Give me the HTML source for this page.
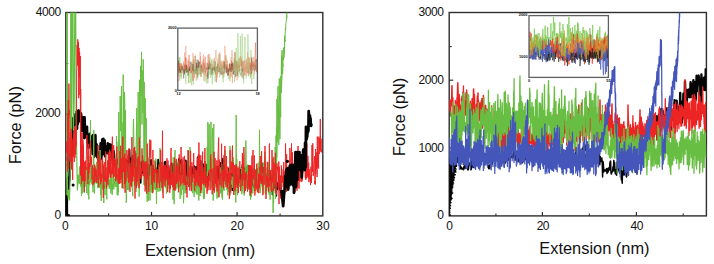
<!DOCTYPE html>
<html><head><meta charset="utf-8"><style>
html,body{margin:0;padding:0;background:#fff;}
body{width:714px;height:264px;position:relative;overflow:hidden;font-family:"Liberation Sans",sans-serif;color:#111;}
.t{position:absolute;white-space:nowrap;}
.rot{transform-origin:0 0;transform:rotate(-90deg);}
</style></head><body>
<svg width="714" height="264" viewBox="0 0 714 264" style="position:absolute;left:0;top:0"><line x1="151.5" y1="215.9" x2="151.5" y2="211.9" stroke="#2e2e2e" stroke-width="1.2"/><line x1="237.1" y1="215.9" x2="237.1" y2="211.9" stroke="#2e2e2e" stroke-width="1.2"/><line x1="108.6" y1="215.9" x2="108.6" y2="213.4" stroke="#2e2e2e" stroke-width="1.1"/><line x1="194.1" y1="215.9" x2="194.1" y2="213.4" stroke="#2e2e2e" stroke-width="1.1"/><line x1="280.1" y1="215.9" x2="280.1" y2="213.4" stroke="#2e2e2e" stroke-width="1.1"/><line x1="65.8" y1="114.2" x2="69.8" y2="114.2" stroke="#2e2e2e" stroke-width="1.2"/><line x1="65.8" y1="63.5" x2="68.3" y2="63.5" stroke="#2e2e2e" stroke-width="1.1"/><line x1="65.8" y1="164.9" x2="68.3" y2="164.9" stroke="#2e2e2e" stroke-width="1.1"/><rect x="65.8" y="12.5" width="257.0" height="203.4" fill="none" stroke="#2e2e2e" stroke-width="1.4"/><line x1="542.4" y1="215.9" x2="542.4" y2="211.9" stroke="#2e2e2e" stroke-width="1.2"/><line x1="636.4" y1="215.9" x2="636.4" y2="211.9" stroke="#2e2e2e" stroke-width="1.2"/><line x1="495.9" y1="215.9" x2="495.9" y2="213.4" stroke="#2e2e2e" stroke-width="1.1"/><line x1="589.3" y1="215.9" x2="589.3" y2="213.4" stroke="#2e2e2e" stroke-width="1.1"/><line x1="683.2" y1="215.9" x2="683.2" y2="213.4" stroke="#2e2e2e" stroke-width="1.1"/><line x1="449.2" y1="80.2" x2="453.2" y2="80.2" stroke="#2e2e2e" stroke-width="1.2"/><line x1="449.2" y1="148.0" x2="453.2" y2="148.0" stroke="#2e2e2e" stroke-width="1.2"/><line x1="449.2" y1="46.6" x2="451.7" y2="46.6" stroke="#2e2e2e" stroke-width="1.1"/><line x1="449.2" y1="114.1" x2="451.7" y2="114.1" stroke="#2e2e2e" stroke-width="1.1"/><line x1="449.2" y1="181.8" x2="451.7" y2="181.8" stroke="#2e2e2e" stroke-width="1.1"/><rect x="449.2" y="12.5" width="257.2" height="203.4" fill="none" stroke="#2e2e2e" stroke-width="1.4"/><clipPath id="cl"><rect x="65.8" y="12.5" width="257.0" height="203.4"/></clipPath><g clip-path="url(#cl)"><polyline points="111.8,153.4 112.2,153.5 112.6,163.8 113.0,151.4 113.4,164.3 113.8,150.8 114.2,153.9 114.6,162.1 115.0,165.2 115.4,164.1 115.8,161.7 116.2,160.8 116.6,161.0 117.0,163.5 117.4,159.5 117.8,162.1 118.2,163.9 118.6,160.9 119.0,165.2 119.4,164.3 119.8,172.3 120.2,163.2 120.6,159.2 121.0,159.6 121.4,161.7 121.8,167.0 122.2,160.2 122.6,164.3 123.0,172.5 123.4,148.3 123.8,156.4 124.2,164.1 124.6,165.1 125.0,164.3 125.4,160.7 125.8,166.9 126.2,164.9 126.6,160.6 127.0,177.0 127.4,165.7 127.8,160.8 128.2,163.4 128.6,162.8 129.0,163.9 129.4,149.9 129.8,161.7 130.2,170.2 130.6,158.2 131.0,164.4 131.4,170.2 131.8,169.8 132.2,173.4 132.6,155.8 133.0,163.4 133.4,163.6 133.8,169.1 134.2,171.8 134.6,151.4 135.0,172.1 135.4,158.1 135.8,170.1 136.2,158.2 136.6,167.6 137.0,173.4 137.4,166.1 137.8,168.2 138.2,171.7 138.6,168.2 139.0,167.1 139.4,176.3 139.8,173.8 140.2,166.4 140.6,182.7 141.0,162.0 141.4,173.7 141.8,167.2 142.2,169.6 142.6,173.0 143.0,170.4 143.4,172.9 143.8,161.0 144.2,161.2 144.6,173.3 145.0,164.6 145.4,164.3 145.8,161.9 146.2,177.3 146.6,174.5 147.0,178.6 147.4,165.2 147.8,170.6 148.2,164.3 148.6,175.0 149.0,179.7 149.4,165.9 149.8,179.7 150.2,176.6 150.6,170.1 151.0,160.1 151.4,179.2 151.8,170.8 152.2,168.1 152.6,173.8 153.0,173.9 153.4,180.1 153.8,166.0 154.2,178.2 154.6,180.3 155.0,180.2 155.4,171.1 155.8,168.0 156.2,178.0 156.6,173.0 157.0,173.1 157.4,180.5 157.8,171.1 158.2,159.7 158.6,170.5 159.0,162.4 159.4,177.5 159.8,174.7 160.2,169.6 160.6,172.9 161.0,177.7 161.4,173.4 161.8,180.4 162.2,172.6 162.6,178.8 163.0,181.3 163.4,182.0 163.8,169.1 164.2,177.9 164.6,162.3 165.0,166.8 165.4,161.8 165.8,178.9 166.2,165.9 166.6,172.8 167.0,171.7 167.4,172.7 167.8,169.5 168.2,174.1 168.6,182.9 169.0,173.0 169.4,175.8 169.8,178.4 170.2,171.6 170.6,165.6 171.0,169.6 171.4,178.8 171.8,163.4 172.2,169.3 172.6,178.4 173.0,177.2 173.4,172.7 173.8,177.2 174.2,173.6 174.6,165.9 175.0,163.7 175.4,169.0 175.8,177.8 176.2,169.4 176.6,167.5 177.0,168.2 177.4,163.9 177.8,171.9 178.2,165.8 178.6,174.6 179.0,159.1 179.4,174.4 179.8,168.9 180.2,161.4 180.6,176.6 181.0,170.9 181.4,159.8 181.8,167.5 182.2,174.1 182.6,169.8 183.0,176.9 183.4,176.7 183.8,176.2 184.2,174.3 184.6,180.0 185.0,176.1 185.4,174.9 185.8,160.5 186.2,177.5 186.6,179.8 187.0,170.6 187.4,169.6 187.8,183.4 188.2,162.2 188.6,175.0 189.0,186.1 189.4,167.0 189.8,176.2 190.2,183.0 190.6,171.5 191.0,175.4 191.4,177.4 191.8,167.0 192.2,171.7 192.6,173.9 193.0,176.9 193.4,172.0 193.8,171.0 194.2,166.3 194.6,170.1 195.0,177.2 195.4,172.7 195.8,167.2 196.2,167.3 196.6,187.0 197.0,178.6 197.4,175.7 197.8,157.2 198.2,175.6 198.6,174.8 199.0,181.7 199.4,174.5 199.8,171.6 200.2,175.0 200.6,160.9 201.0,178.0 201.4,174.0 201.8,168.1 202.2,179.9 202.6,182.7 203.0,164.2 203.4,168.5 203.8,174.1 204.2,173.5 204.6,170.2 205.0,166.9 205.4,184.8 205.8,178.6 206.2,165.7 206.6,164.9 207.0,182.5 207.4,178.5 207.8,183.3 208.2,177.5 208.6,167.8 209.0,174.4 209.4,160.4 209.8,168.7 210.2,172.7 210.6,176.1 211.0,168.9 211.4,172.4 211.8,175.8 212.2,175.4 212.6,177.0 213.0,174.5 213.4,171.5 213.8,178.0 214.2,173.7 214.6,168.7 215.0,169.9 215.4,173.5 215.8,172.9 216.2,174.5 216.6,173.7 217.0,174.7 217.4,173.0 217.8,166.5 218.2,176.3 218.6,180.0 219.0,176.4 219.4,172.8 219.8,176.6 220.2,168.4 220.6,163.0 221.0,174.4 221.4,168.7 221.8,178.5 222.2,167.9 222.6,159.1 223.0,168.2 223.4,183.5 223.8,172.2 224.2,166.4 224.6,170.0 225.0,177.5 225.4,177.4 225.8,175.6 226.2,183.3 226.6,178.8 227.0,174.6 227.4,178.2 227.8,184.4 228.2,180.5 228.6,180.8 229.0,168.6 229.4,174.1 229.8,179.2 230.2,173.3 230.6,181.3 231.0,178.6 231.4,180.5 231.8,173.9 232.2,190.1 232.6,182.5 233.0,174.0 233.4,175.9 233.8,190.6 234.2,173.4 234.6,180.6 235.0,181.2 235.4,175.6 235.8,168.7 236.2,176.7 236.6,177.8 237.0,182.3 237.4,180.3 237.8,175.9 238.2,180.8 238.6,179.0 239.0,177.1 239.4,176.3 239.8,174.6 240.2,180.1 240.6,169.9 241.0,172.4 241.4,176.2 241.8,167.6 242.2,173.7 242.6,164.5 243.0,172.4 243.4,179.8 243.8,179.8 244.2,176.2 244.6,175.2 245.0,168.3 245.4,187.5 245.8,179.8 246.2,183.3 246.6,171.7 247.0,175.8 247.4,166.3 247.8,181.6 248.2,182.6 248.6,165.9 249.0,176.9 249.4,181.0 249.8,166.9 250.2,166.6 250.6,171.1 251.0,173.7 251.4,169.2 251.8,177.8 252.2,179.1 252.6,181.4 253.0,181.9 253.4,186.7 253.8,184.7 254.2,170.1 254.6,175.0 255.0,171.7 255.4,171.7 255.8,177.6 256.2,178.2 256.6,181.1 257.0,168.9 257.4,171.0 257.8,178.2 258.2,177.2 258.6,176.6 259.0,178.2 259.4,174.1 259.8,182.8 260.2,180.8 260.6,178.2 261.0,174.8 261.4,177.8 261.8,163.5 262.2,173.1 262.6,179.2 263.0,170.1 263.4,180.3 263.8,180.1 264.2,171.0 264.6,177.8 265.0,177.5 265.4,182.1 265.8,183.1 266.2,179.3 266.6,174.5 267.0,178.7 267.4,179.3 267.8,184.1 268.2,181.5 268.6,175.5 269.0,171.8 269.4,177.7 269.8,175.6 270.2,173.4 270.6,179.5 271.0,177.3 271.4,181.0 271.8,183.6 272.2,178.1 272.6,194.6 273.0,178.9 273.4,187.5 273.8,181.8 274.2,187.8 274.6,167.0 275.0,176.9 275.4,183.0 275.8,185.2 276.2,195.7 276.6,183.7 277.0,189.6 277.4,186.6 277.8,187.8 278.2,185.3 278.6,181.4 279.0,185.5 279.4,176.1 279.8,189.8 280.2,176.7 280.6,184.4 281.0,195.7" fill="none" stroke="#050505" stroke-width="2.0" stroke-linejoin="round" /><polyline points="65.9,215.6 66.0,190.0 66.2,200.0 66.2,197.4 66.6,201.7 67.0,191.1 67.4,187.0 67.8,177.9 68.2,181.0 68.6,189.2 69.0,178.8 69.4,180.2 69.8,169.2 70.2,165.9 70.6,159.1 71.0,138.6 71.4,154.5 71.8,146.6 72.2,142.4 72.6,121.8 73.0,118.3 73.4,121.8 73.8,122.0 74.2,125.7 74.6,121.5 75.0,124.5 75.4,114.2 75.8,120.0 76.2,119.7 76.6,111.5 77.0,128.7 77.4,119.7 77.8,123.9 78.2,110.7 78.6,110.3 79.0,113.5 79.4,115.6 79.8,121.2 80.2,119.3 80.6,115.7 81.0,113.4 81.4,117.6 81.8,130.7 82.2,118.1 82.6,126.4 83.0,128.9 83.4,117.3 83.8,128.7 84.2,138.1 84.6,117.2 85.0,129.2 85.4,131.6 85.8,128.0 86.2,137.3 86.6,134.7 87.0,126.8 87.4,142.0 87.8,141.8 88.2,144.2 88.6,148.0 89.0,142.2 89.4,141.5 89.8,133.8 90.2,146.0 90.6,139.3 91.0,141.0 91.4,136.8 91.8,139.3 92.2,142.5 92.6,153.9 93.0,135.1 93.4,138.9 93.8,149.2 94.2,156.6 94.6,151.9 95.0,138.1 95.4,135.0 95.8,151.8 96.2,146.0 96.6,144.3 97.0,156.5 97.4,157.3 97.8,152.1 98.2,152.7 98.6,153.8 99.0,160.3 99.4,155.0 99.8,154.6 100.2,154.8 100.6,143.3 101.0,159.0 101.4,156.7 101.8,153.8 102.2,139.5 102.6,146.4 103.0,154.0 103.4,138.8 103.8,147.3 104.2,153.5 104.6,140.4 105.0,156.2 105.4,150.1 105.8,146.0 106.2,148.3 106.6,149.8 107.0,146.7 107.4,152.8 107.8,143.4 108.2,145.3 108.6,153.9 109.0,148.8 109.4,144.4 109.8,154.9 110.2,158.5 110.6,149.0 111.0,144.7 111.4,152.5 111.8,153.4" fill="none" stroke="#050505" stroke-width="2.6" stroke-linejoin="round" /><polyline points="66.9,216.0 66.9,-5.0 67.3,-5.0 67.5,205.0 68.5,190.0 69.5,200.0 70.3,170.0 70.8,-5.0 71.4,150.0 72.2,-5.0 72.9,-5.0 73.4,130.0 74.2,100.0 74.9,-5.0 75.6,-5.0 76.2,120.0 76.8,160.0 77.4,190.0 78.2,175.0 79.0,183.0" fill="none" stroke="#68be42" stroke-width="1.2" stroke-linejoin="round" /><polyline points="79.0,184.3 79.2,179.0 79.5,166.6 79.8,179.7 80.0,183.9 80.2,175.0 80.5,179.1 80.8,186.5 81.0,171.7 81.2,185.5 81.5,196.0 81.8,174.8 82.0,181.3 82.2,178.7 82.5,193.3 82.8,182.8 83.0,187.8 83.2,173.6 83.5,180.0 83.8,180.1 84.0,163.3 84.2,192.5 84.5,187.9 84.8,163.6 85.0,186.6 85.2,179.0 85.5,184.0 85.8,183.4 86.0,166.0 86.2,178.2 86.5,193.0 86.8,174.8 87.0,170.5 87.2,167.4 87.5,168.7 87.8,183.2 88.0,194.8 88.2,184.0 88.5,182.4 88.8,199.4 89.0,175.4 89.2,173.9 89.5,184.9 89.8,185.0 90.0,155.8 90.2,169.2 90.5,120.0 90.8,182.5 91.0,168.0 91.2,178.5 91.5,175.2 91.8,184.3 92.0,179.3 92.2,179.6 92.5,177.1 92.8,189.5 93.0,192.3 93.2,177.0 93.5,151.1 93.8,130.0 94.0,181.1 94.2,186.9 94.5,193.4 94.8,176.9 95.0,179.8 95.2,182.2 95.5,166.3 95.8,180.7 96.0,174.1 96.2,183.7 96.5,169.8 96.8,161.8 97.0,180.9 97.2,182.8 97.5,175.4 97.8,188.2 98.0,178.0 98.2,174.9 98.5,184.7 98.8,165.7 99.0,174.2 99.2,180.5 99.5,187.9 99.8,179.1 100.0,150.0 100.2,159.2 100.5,183.3 100.8,194.9 101.0,174.2 101.2,200.9 101.5,174.6 101.8,180.9 102.0,182.2 102.2,189.5 102.5,169.0 102.8,160.8 103.0,186.0 103.2,187.6 103.5,186.1 103.8,203.0 104.0,182.6 104.2,183.0 104.5,188.8 104.8,184.0 105.0,195.1 105.2,169.1 105.5,177.3 105.8,156.2 106.0,187.8 106.2,177.3 106.5,188.8 106.8,199.3 107.0,180.8 107.2,178.5 107.5,176.2 107.8,173.0 108.0,174.9 108.2,186.4 108.5,181.3 108.8,181.5 109.0,179.3 109.2,188.8 109.5,185.2 109.8,179.6 110.0,186.7 110.2,179.6 110.5,170.1 110.8,193.5 111.0,185.0 111.2,171.9 111.5,190.3 111.8,184.0 112.0,166.2 112.2,194.8 112.5,183.9 112.8,188.7 113.0,182.8 113.2,179.7 113.5,166.4 113.8,189.4 114.0,181.4 114.2,178.4 114.5,184.1 114.8,181.8 115.0,186.9 115.2,177.6 115.5,180.8 115.8,160.8 116.0,164.8 116.2,186.9 116.5,136.0 116.8,151.1 117.0,180.0 117.2,194.7 117.5,178.1 117.8,187.5 118.0,195.5 118.2,141.9 118.5,191.7 118.8,112.0 119.0,183.0 119.2,180.5 119.5,147.0 119.8,138.4 120.0,115.1 120.2,96.0 120.5,114.0 120.8,131.1 121.0,121.5 121.2,107.3 121.5,86.0 121.8,178.7 122.0,122.3 122.2,166.6 122.5,187.8 122.8,166.6 123.0,174.7 123.2,74.5 123.5,104.3 123.8,188.7 124.0,116.9 124.2,177.6 124.5,92.0 124.8,101.1 125.0,181.4 125.2,184.5 125.5,110.0 125.8,183.7 126.0,169.2 126.2,202.7 126.5,200.3 126.8,162.6 127.0,181.1 127.2,185.0 127.5,189.7 127.8,187.2 128.0,178.9 128.2,171.4 128.5,182.3 128.8,190.3 129.0,171.1 129.2,171.7 129.5,181.3 129.8,163.1 130.0,179.0 130.2,177.4 130.5,185.4 130.8,174.9 131.0,173.1 131.2,177.8 131.5,181.1 131.8,175.2 132.0,181.7 132.2,188.0 132.5,191.7 132.8,196.1 133.0,174.1 133.2,129.8 133.5,119.0 133.8,135.9 134.0,159.4 134.2,181.3 134.5,186.1 134.8,168.7 135.0,185.6 135.2,181.4 135.5,164.3 135.8,184.1 136.0,191.9 136.2,144.3 136.5,128.3 136.8,108.0 137.0,185.7 137.2,185.5 137.5,154.2 137.8,124.4 138.0,116.9 138.2,92.0 138.5,187.9 138.8,174.0 139.0,180.7 139.2,196.5 139.5,79.8 139.8,103.7 140.0,147.4 140.2,174.2 140.5,66.0 140.8,89.0 141.0,96.0 141.2,76.3 141.5,51.8 141.8,109.0 142.0,124.5 142.2,70.0 142.5,89.8 142.8,112.7 143.0,91.5 143.2,59.3 143.5,76.9 143.8,88.6 144.0,184.9 144.2,82.0 144.5,185.5 144.8,143.8 145.0,125.6 145.2,98.0 145.5,118.0 145.8,121.0 146.0,188.7 146.2,118.0 146.5,140.2 146.8,148.0 147.0,173.6 147.2,201.7 147.5,177.2 147.8,192.2 148.0,175.8 148.2,188.9 148.5,200.9 148.8,157.8 149.0,177.8 149.2,186.3 149.5,181.1 149.8,175.6 150.0,200.4 150.2,182.7 150.5,166.4 150.8,189.3 151.0,165.6 151.2,191.8 151.5,176.5 151.8,183.2 152.0,192.8 152.2,183.0 152.5,168.8 152.8,165.9 153.0,192.1 153.2,188.3 153.5,174.3 153.8,189.3 154.0,186.2 154.2,187.5 154.5,160.5 154.8,179.1 155.0,189.7 155.2,188.3 155.5,189.5 155.8,158.7 156.0,183.4 156.2,186.2 156.5,203.8 156.8,172.9 157.0,178.9 157.2,182.3 157.5,189.6 157.8,177.8 158.0,191.8 158.2,174.5 158.5,184.3 158.8,177.0 159.0,183.4 159.2,175.4 159.5,166.8 159.8,191.3 160.0,148.0 160.2,162.7 160.5,158.2 160.8,190.5 161.0,172.7 161.2,181.0 161.5,186.6 161.8,186.5 162.0,178.8 162.2,162.0 162.5,192.6 162.8,184.8 163.0,182.1 163.2,179.4 163.5,184.3 163.8,178.0 164.0,172.3 164.2,175.0 164.5,176.3 164.8,176.2 165.0,171.0 165.2,187.4 165.5,169.6 165.8,187.6 166.0,172.4 166.2,185.0 166.5,193.7 166.8,183.7 167.0,175.1 167.2,182.4 167.5,183.3 167.8,165.5 168.0,176.2 168.2,183.4 168.5,177.5 168.8,182.7 169.0,188.3 169.2,188.6 169.5,189.7 169.8,187.0 170.0,179.3 170.2,181.8 170.5,179.4 170.8,179.0 171.0,180.3 171.2,165.6 171.5,178.8 171.8,181.8 172.0,172.7 172.2,181.8 172.5,186.4 172.8,180.4 173.0,199.8 173.2,157.3 173.5,180.0 173.8,164.7 174.0,190.4 174.2,204.2 174.5,158.2 174.8,183.1 175.0,150.0 175.2,179.1 175.5,186.7 175.8,160.7 176.0,189.3 176.2,185.2 176.5,182.2 176.8,176.4 177.0,187.5 177.2,177.4 177.5,183.9 177.8,177.2 178.0,160.7 178.2,181.7 178.5,183.7 178.8,188.4 179.0,173.7 179.2,181.7 179.5,187.3 179.8,183.2 180.0,192.6 180.2,199.0 180.5,173.4 180.8,163.8 181.0,189.3 181.2,195.1 181.5,189.9 181.8,189.0 182.0,176.1 182.2,175.2 182.5,189.6 182.8,173.3 183.0,164.8 183.2,172.5 183.5,203.3 183.8,198.4 184.0,175.5 184.2,175.1 184.5,184.0 184.8,174.9 185.0,193.2 185.2,181.3 185.5,171.7 185.8,193.2 186.0,176.5 186.2,183.9 186.5,181.9 186.8,179.0 187.0,184.8 187.2,175.4 187.5,164.5 187.8,161.0 188.0,170.0 188.2,174.8 188.5,181.8 188.8,182.5 189.0,186.8 189.2,183.0 189.5,171.5 189.8,175.3 190.0,147.0 190.2,180.4 190.5,166.0 190.8,186.5 191.0,180.8 191.2,180.3 191.5,190.0 191.8,182.1 192.0,188.3 192.2,187.0 192.5,183.8 192.8,193.2 193.0,176.6 193.2,178.6 193.5,174.3 193.8,174.4 194.0,195.3 194.2,197.0 194.5,182.2 194.8,186.9 195.0,192.0 195.2,188.9 195.5,192.3 195.8,170.0 196.0,175.9 196.2,185.9 196.5,194.3 196.8,182.9 197.0,173.8 197.2,178.6 197.5,175.7 197.8,173.8 198.0,194.8 198.2,176.1 198.5,182.2 198.8,200.5 199.0,192.1 199.2,184.9 199.5,176.2 199.8,185.5 200.0,195.9 200.2,187.3 200.5,192.8 200.8,182.8 201.0,186.4 201.2,180.1 201.5,185.6 201.8,193.1 202.0,168.4 202.2,181.4 202.5,184.1 202.8,176.6 203.0,179.1 203.2,188.7 203.5,199.1 203.8,187.4 204.0,184.8 204.2,167.3 204.5,198.5 204.8,182.7 205.0,181.7 205.2,171.4 205.5,181.5 205.8,171.6 206.0,182.6 206.2,186.0 206.5,182.3 206.8,184.4 207.0,173.9 207.2,146.7 207.5,175.8 207.8,122.0 208.0,127.8 208.2,134.6 208.5,172.4 208.8,167.0 209.0,131.7 209.2,124.0 209.5,180.7 209.8,160.8 210.0,158.1 210.2,180.6 210.5,154.1 210.8,130.5 211.0,121.8 211.2,188.3 211.5,181.1 211.8,159.2 212.0,181.8 212.2,135.5 212.5,128.0 212.8,143.5 213.0,159.4 213.2,200.6 213.5,137.4 213.8,124.0 214.0,168.6 214.2,159.2 214.5,164.2 214.8,185.1 215.0,175.9 215.2,164.3 215.5,167.9 215.8,187.3 216.0,174.6 216.2,178.5 216.5,184.8 216.8,193.6 217.0,198.6 217.2,190.8 217.5,183.2 217.8,183.6 218.0,197.4 218.2,194.2 218.5,179.1 218.8,185.9 219.0,184.5 219.2,182.4 219.5,177.2 219.8,169.4 220.0,176.9 220.2,167.3 220.5,192.5 220.8,186.6 221.0,170.5 221.2,193.9 221.5,189.6 221.8,163.9 222.0,197.7 222.2,188.9 222.5,199.6 222.8,170.3 223.0,186.5 223.2,185.6 223.5,183.7 223.8,183.5 224.0,191.0 224.2,167.8 224.5,170.2 224.8,168.8 225.0,150.0 225.2,165.2 225.5,185.1 225.8,184.3 226.0,182.3 226.2,175.6 226.5,177.8 226.8,190.1 227.0,188.5 227.2,182.9 227.5,178.9 227.8,195.3 228.0,176.4 228.2,187.5 228.5,191.9 228.8,179.5 229.0,189.1 229.2,171.4 229.5,168.5 229.8,183.7 230.0,146.0 230.2,161.4 230.5,173.5 230.8,193.0 231.0,175.5 231.2,180.4 231.5,184.4 231.8,178.8 232.0,184.2 232.2,176.7 232.5,187.7 232.8,182.0 233.0,183.8 233.2,157.3 233.5,191.9 233.8,182.3 234.0,165.1 234.2,182.8 234.5,186.0 234.8,191.2 235.0,171.7 235.2,195.2 235.5,180.5 235.8,202.5 236.0,141.9 236.2,115.0 236.5,178.5 236.8,158.8 237.0,191.4 237.2,189.7 237.5,195.2 237.8,189.3 238.0,176.6 238.2,166.2 238.5,175.8 238.8,175.6 239.0,174.3 239.2,187.0 239.5,184.8 239.8,179.4 240.0,183.5 240.2,180.6 240.5,183.8 240.8,188.4 241.0,190.2 241.2,175.5 241.5,167.7 241.8,194.2 242.0,183.0 242.2,191.5 242.5,166.4 242.8,178.9 243.0,182.2 243.2,168.3 243.5,177.1 243.8,188.2 244.0,191.2 244.2,195.6 244.5,173.8 244.8,168.7 245.0,186.5 245.2,190.0 245.5,183.7 245.8,140.5 246.0,149.4 246.2,157.8 246.5,186.7 246.8,177.4 247.0,184.6 247.2,188.8 247.5,176.7 247.8,164.5 248.0,184.8 248.2,186.1 248.5,182.1 248.8,189.6 249.0,176.4 249.2,181.2 249.5,179.1 249.8,186.9 250.0,195.6 250.2,179.6 250.5,199.6 250.8,195.1 251.0,188.8 251.2,187.0 251.5,197.1 251.8,180.3 252.0,180.9 252.2,171.9 252.5,186.0 252.8,193.5 253.0,186.6 253.2,185.6 253.5,180.1 253.8,183.4 254.0,168.5 254.2,191.0 254.5,178.1 254.8,171.5 255.0,174.9 255.2,174.2 255.5,189.3 255.8,191.0 256.0,169.1 256.2,189.9 256.5,189.6 256.8,176.5 257.0,167.9 257.2,174.9 257.5,176.0 257.8,184.9 258.0,178.6 258.2,162.7 258.5,184.0 258.8,167.4 259.0,189.7 259.2,170.5 259.5,129.7 259.8,173.9 260.0,176.8 260.2,193.1 260.5,189.3 260.8,187.1 261.0,184.7 261.2,167.3 261.5,177.1 261.8,176.8 262.0,172.7 262.2,186.4 262.5,175.0 262.8,175.3 263.0,172.1 263.2,162.5 263.5,187.1 263.8,193.4 264.0,183.5 264.2,172.7 264.5,157.3 264.8,183.5 265.0,152.0 265.2,165.8 265.5,171.0 265.8,194.6 266.0,191.6 266.2,177.8 266.5,191.0 266.8,188.6 267.0,167.4 267.2,178.1 267.5,168.5 267.8,181.0 268.0,186.9 268.2,171.9 268.5,162.5 268.8,193.1 269.0,185.2 269.2,194.6 269.5,169.4 269.8,191.1 270.0,199.7 270.2,199.2 270.5,180.0 270.8,184.3 271.0,180.5 271.2,190.5 271.5,190.9 271.8,182.7 272.0,169.1 272.2,188.3 272.5,177.5 272.8,187.4 273.0,184.2 273.1,213.0 273.2,186.8 273.3,191.9 273.5,191.3 273.6,203.3 273.7,161.9 273.8,192.8 273.9,156.6 274.1,184.9 274.2,174.4 274.3,174.1 274.4,185.4 274.5,166.7 274.7,185.0 274.8,179.5 274.9,165.2 275.0,151.6 275.1,147.0 275.3,149.5 275.4,153.8 275.5,155.4 275.6,199.0 275.7,163.9 275.9,164.7 276.0,135.6 276.1,136.7 276.2,141.8 276.3,148.9 276.5,126.7 276.6,169.7 276.7,131.7 276.8,157.6 276.9,99.1 277.1,136.5 277.2,139.7 277.3,136.7 277.4,142.0 277.5,135.1 277.7,131.6 277.8,96.4 277.9,114.3 278.0,86.2 278.1,133.1 278.3,126.4 278.4,116.7 278.5,105.1 278.6,107.4 278.7,145.0 278.9,141.6 279.0,111.3 279.1,131.3 279.2,84.8 279.3,78.4 279.5,99.6 279.6,92.5 279.7,96.0 279.8,105.7 279.9,139.2 280.1,90.9 280.2,99.7 280.3,101.5 280.4,95.9 280.5,107.6 280.7,117.2 280.8,76.2 280.9,93.2 281.0,86.4 281.1,92.5 281.3,67.6 281.4,63.5 281.5,55.6 281.6,87.4 281.7,81.8 281.9,78.8 282.0,50.2 282.1,70.6 282.2,65.2 282.3,57.4 282.5,61.0 282.6,74.1 282.7,70.9 282.8,64.3 282.9,66.8 283.1,56.8 283.2,60.1 283.3,58.4 283.4,59.9 283.5,54.6 283.7,52.7 283.8,51.2 283.9,47.5 284.0,57.6 284.1,49.2 284.3,47.2 284.4,52.4 284.5,47.4 284.6,35.7 284.7,41.6 284.9,40.5 285.0,42.0 285.1,38.6 285.2,35.5 285.3,28.8 285.5,28.3 285.6,29.7 285.7,28.8 285.8,23.9 285.9,23.9 286.1,22.5 286.2,22.0 286.3,21.1 286.4,18.4 286.5,15.0 286.7,18.6 286.8,17.8 286.9,13.0 287.0,13.7 287.1,10.6 287.3,9.2 287.4,6.9 287.5,2.5 287.6,3.2 287.7,2.2 287.9,-3.6 288.0,0.3 288.1,-1.4 288.2,-3.9 288.3,-5.5 288.5,-9.9" fill="none" stroke="#68be42" stroke-width="1.0" stroke-linejoin="round" /><polyline points="66.5,152.6 66.7,146.3 66.9,141.1 67.1,160.8 67.3,157.0 67.5,171.6 67.7,113.2 67.9,132.0 68.1,124.6 68.3,100.0 68.5,168.6 68.7,106.2 68.9,83.6 69.1,98.8 69.3,114.4 69.5,110.0 69.7,119.6 69.9,149.8 70.1,156.5 70.3,132.7 70.5,150.8 70.7,151.0 70.9,162.1 71.1,128.8 71.3,158.3 71.5,169.4 71.7,161.7 71.9,142.8 72.1,140.4 72.3,145.4 72.5,164.1 72.7,179.8 72.9,147.0 73.1,137.8 73.3,157.1 73.5,153.8 73.7,133.0 73.9,136.2 74.1,148.0 74.3,162.0 74.5,127.4 74.7,130.5 74.9,158.0 75.1,126.4 75.3,150.3 75.5,154.4 75.7,145.9 75.9,129.5 76.1,146.3 76.3,141.3 76.5,117.4 76.7,70.0 76.9,70.0 77.1,45.0 77.3,45.0 77.5,65.1 77.7,39.5 77.9,39.5 78.1,66.2 78.3,42.0 78.5,42.0 78.7,98.2 78.9,48.0 79.1,48.0 79.3,76.7 79.5,52.0 79.7,52.0 79.9,95.1 80.1,79.2 80.3,56.0 80.5,175.5 80.7,89.1 80.9,172.1 81.1,132.3 81.3,151.1 81.5,184.1 81.7,144.9 81.9,181.5 82.2,132.7 82.5,180.8 82.7,177.3 83.0,140.3 83.2,177.7 83.5,144.7 83.8,181.4 84.0,174.3 84.3,192.2 84.5,161.8 84.8,170.7 85.1,180.8 85.3,161.6 85.6,160.7 85.8,165.6 86.1,170.0 86.4,155.5 86.6,144.1 86.9,135.0 87.1,141.0 87.4,151.1 87.7,166.7 87.9,184.0 88.2,163.7 88.4,178.9 88.7,143.8 89.0,173.6 89.2,169.3 89.5,164.7 89.7,163.1 90.0,167.0 90.3,161.7 90.5,140.5 90.8,163.5 91.0,164.2 91.3,164.6 91.6,156.9 91.8,170.2 92.1,179.7 92.3,168.6 92.6,165.2 92.9,185.3 93.1,181.7 93.4,181.2 93.6,183.4 93.9,167.7 94.2,170.6 94.4,183.1 94.7,164.5 94.9,170.8 95.2,176.1 95.5,176.1 95.7,168.6 96.0,182.0 96.2,170.1 96.5,179.6 96.8,182.9 97.0,179.0 97.3,179.8 97.5,156.1 97.8,152.6 98.1,145.0 98.3,177.4 98.6,187.2 98.8,155.3 99.1,175.8 99.4,160.7 99.6,162.4 99.9,169.0 100.1,179.6 100.4,175.1 100.7,184.3 100.9,158.9 101.2,181.6 101.4,182.0 101.7,173.7 102.0,177.6 102.2,165.0 102.5,157.4 102.7,167.3 103.0,163.9 103.3,198.0 103.5,166.2 103.8,189.0 104.0,175.1 104.3,176.2 104.6,180.3 104.8,162.0 105.1,182.0 105.3,176.8 105.6,151.5 105.9,179.0 106.1,178.5 106.4,177.6 106.6,188.4 106.9,167.3 107.2,178.2 107.4,180.5 107.7,160.4 107.9,184.8 108.2,152.5 108.5,154.7 108.7,178.3 109.0,157.7 109.2,171.7 109.5,149.8 109.8,174.1 110.0,157.1 110.3,176.7 110.5,151.4 110.8,177.7 111.1,169.6 111.3,174.1 111.6,172.5 111.8,152.7 112.1,148.0 112.4,136.7 112.6,173.8 112.9,160.1 113.1,167.0 113.4,177.6 113.7,145.1 113.9,162.6 114.2,164.8 114.4,158.4 114.7,176.7 115.0,171.6 115.2,161.8 115.5,159.5 115.7,181.3 116.0,164.2 116.3,179.2 116.5,178.0 116.8,146.5 117.0,158.2 117.3,173.7 117.6,177.0 117.8,181.2 118.1,181.4 118.3,183.6 118.6,168.4 118.9,170.7 119.1,181.2 119.4,167.7 119.6,183.9 119.9,151.0 120.2,180.0 120.4,171.3 120.7,145.7 120.9,183.2 121.2,176.8 121.5,174.1 121.7,158.5 122.0,167.2 122.2,188.3 122.5,162.1 122.8,136.7 123.0,161.7 123.3,156.8 123.5,172.1 123.8,168.3 124.1,160.9 124.3,161.9 124.6,184.0 124.8,153.4 125.1,192.7 125.4,166.2 125.6,158.4 125.9,181.5 126.1,179.4 126.4,159.1 126.7,159.3 126.9,150.0 127.2,155.1 127.4,171.2 127.7,170.5 128.0,155.5 128.2,179.0 128.5,182.9 128.7,173.8 129.0,148.3 129.3,169.2 129.5,178.2 129.8,181.5 130.0,191.9 130.3,170.6 130.6,167.3 130.8,173.7 131.1,185.7 131.3,160.8 131.6,186.7 131.9,137.1 132.1,181.9 132.4,164.6 132.6,178.7 132.9,180.9 133.2,157.4 133.4,173.1 133.7,176.6 133.9,148.0 134.2,161.1 134.5,160.2 134.7,146.9 135.0,198.6 135.2,171.7 135.5,171.2 135.8,153.1 136.0,183.3 136.3,166.8 136.5,188.1 136.8,182.6 137.1,174.7 137.3,181.4 137.6,158.6 137.8,169.9 138.1,166.3 138.4,156.4 138.6,174.7 138.9,172.5 139.1,188.2 139.4,137.5 139.7,165.0 139.9,161.5 140.2,168.0 140.4,178.6 140.7,178.5 141.0,174.9 141.2,167.9 141.5,179.4 141.7,178.1 142.0,148.4 142.3,171.0 142.5,155.1 142.8,157.9 143.0,176.1 143.3,175.3 143.6,175.8 143.8,162.3 144.1,171.9 144.3,161.8 144.6,178.4 144.9,181.3 145.1,191.5 145.4,186.8 145.6,163.3 145.9,168.3 146.2,161.5 146.4,177.8 146.7,193.7 146.9,181.6 147.2,143.6 147.5,157.0 147.7,156.5 148.0,179.8 148.2,174.9 148.5,177.8 148.8,191.9 149.0,163.2 149.3,162.9 149.5,146.6 149.8,139.5 150.1,157.8 150.3,146.1 150.6,153.3 150.8,140.2 151.1,175.7 151.4,175.5 151.6,184.5 151.9,173.1 152.1,165.3 152.4,164.6 152.7,193.2 152.9,150.0 153.2,176.8 153.4,175.4 153.7,181.1 154.0,169.5 154.2,180.0 154.5,183.0 154.7,173.2 155.0,168.8 155.3,172.7 155.5,161.6 155.8,172.4 156.0,171.1 156.3,177.4 156.6,188.1 156.8,187.8 157.1,169.1 157.3,181.2 157.6,178.3 157.9,182.7 158.1,175.7 158.4,178.0 158.6,168.9 158.9,164.4 159.2,183.8 159.4,187.9 159.7,181.9 159.9,179.7 160.2,178.1 160.5,169.2 160.7,150.3 161.0,181.9 161.2,177.6 161.5,167.8 161.8,162.0 162.0,187.8 162.3,150.1 162.5,130.7 162.8,181.8 163.1,198.2 163.3,165.6 163.6,175.5 163.8,168.6 164.1,177.3 164.4,172.9 164.6,165.2 164.9,186.1 165.1,164.8 165.4,168.7 165.7,181.2 165.9,168.3 166.2,169.8 166.4,179.4 166.7,170.8 167.0,158.3 167.2,174.6 167.5,172.9 167.7,192.2 168.0,160.5 168.3,185.3 168.5,165.0 168.8,171.1 169.0,171.5 169.3,178.7 169.6,184.3 169.8,192.7 170.1,167.2 170.3,188.8 170.6,185.6 170.9,151.9 171.1,148.0 171.4,184.8 171.6,174.8 171.9,179.7 172.2,172.5 172.4,182.6 172.7,186.9 172.9,187.1 173.2,173.5 173.5,185.8 173.7,190.1 174.0,163.2 174.2,190.4 174.5,157.5 174.8,181.6 175.0,182.1 175.3,190.5 175.5,179.2 175.8,169.7 176.1,165.3 176.3,158.9 176.6,183.8 176.8,173.3 177.1,166.5 177.4,181.7 177.6,165.8 177.9,170.5 178.1,170.2 178.4,192.3 178.7,190.5 178.9,174.5 179.2,154.5 179.4,179.4 179.7,177.5 180.0,180.1 180.2,182.2 180.5,172.3 180.7,185.6 181.0,147.0 181.3,158.2 181.5,171.1 181.8,170.1 182.0,183.5 182.3,161.4 182.6,174.7 182.8,166.4 183.1,157.3 183.3,182.7 183.6,176.7 183.9,177.4 184.1,185.3 184.4,155.9 184.6,176.1 184.9,179.8 185.2,185.0 185.4,161.8 185.7,183.9 185.9,179.2 186.2,190.0 186.5,187.9 186.7,182.4 187.0,197.5 187.2,177.2 187.5,171.2 187.8,172.4 188.0,150.0 188.3,176.9 188.5,150.8 188.8,176.1 189.1,181.4 189.3,186.7 189.6,172.5 189.8,190.5 190.1,168.2 190.4,175.5 190.6,150.9 190.9,166.7 191.1,166.3 191.4,191.2 191.7,182.4 191.9,162.3 192.2,182.4 192.4,182.0 192.7,174.3 193.0,177.8 193.2,173.4 193.5,170.1 193.7,153.2 194.0,176.4 194.3,189.5 194.5,190.8 194.8,173.8 195.0,167.4 195.3,174.8 195.6,186.0 195.8,181.0 196.1,169.7 196.3,181.1 196.6,175.0 196.9,182.5 197.1,172.2 197.4,157.6 197.6,178.4 197.9,184.9 198.2,162.6 198.4,154.2 198.7,186.0 198.9,142.5 199.2,169.0 199.5,154.9 199.7,185.6 200.0,187.4 200.2,165.0 200.5,193.0 200.8,155.3 201.0,170.9 201.3,184.8 201.5,190.2 201.8,165.3 202.1,168.9 202.3,179.9 202.6,151.6 202.8,183.9 203.1,183.2 203.4,172.0 203.6,183.0 203.9,185.2 204.1,180.9 204.4,182.9 204.7,166.5 204.9,148.0 205.2,179.6 205.4,161.5 205.7,187.6 206.0,172.6 206.2,182.5 206.5,179.4 206.7,178.8 207.0,193.8 207.3,177.0 207.5,191.1 207.8,185.7 208.0,190.2 208.3,176.0 208.6,186.6 208.8,185.1 209.1,169.9 209.3,180.7 209.6,176.5 209.9,177.8 210.1,190.1 210.4,168.5 210.6,155.4 210.9,154.6 211.2,172.1 211.4,169.5 211.7,178.4 211.9,183.4 212.2,194.3 212.5,181.1 212.7,182.5 213.0,168.3 213.2,183.6 213.5,190.6 213.8,190.5 214.0,151.8 214.3,186.4 214.5,192.7 214.8,185.8 215.1,158.1 215.3,174.2 215.6,183.7 215.8,182.2 216.1,167.4 216.4,166.3 216.6,187.1 216.9,160.3 217.1,191.4 217.4,178.6 217.7,181.2 217.9,160.4 218.2,151.4 218.4,142.6 218.7,137.6 219.0,197.2 219.2,159.5 219.5,162.0 219.7,178.9 220.0,182.8 220.3,185.1 220.5,173.5 220.8,175.7 221.0,175.3 221.3,170.8 221.6,143.7 221.8,187.2 222.1,180.8 222.3,180.0 222.6,170.1 222.9,180.8 223.1,178.4 223.4,177.5 223.6,188.5 223.9,155.4 224.2,180.9 224.4,164.2 224.7,174.3 224.9,146.0 225.2,164.0 225.5,177.3 225.7,170.7 226.0,187.2 226.2,165.5 226.5,156.0 226.8,183.3 227.0,173.9 227.3,174.4 227.5,188.4 227.8,166.7 228.1,173.7 228.3,180.0 228.6,182.4 228.8,171.8 229.1,188.0 229.4,198.9 229.6,173.2 229.9,195.5 230.1,150.3 230.4,191.4 230.7,174.1 230.9,180.0 231.2,174.2 231.4,170.2 231.7,161.6 232.0,173.5 232.2,150.0 232.5,145.5 232.7,174.1 233.0,171.7 233.3,169.4 233.5,162.7 233.8,195.0 234.0,184.8 234.3,179.9 234.6,172.3 234.8,165.1 235.1,190.7 235.3,185.9 235.6,166.1 235.9,187.8 236.1,164.0 236.4,184.7 236.6,166.0 236.9,173.3 237.2,183.4 237.4,182.8 237.7,188.0 237.9,167.7 238.2,193.1 238.5,191.0 238.7,178.8 239.0,183.1 239.2,168.5 239.5,176.9 239.8,161.2 240.0,179.8 240.3,180.8 240.5,191.1 240.8,187.5 241.1,186.3 241.3,174.2 241.6,176.0 241.8,174.5 242.1,181.0 242.4,153.1 242.6,186.0 242.9,158.0 243.1,172.2 243.4,179.3 243.7,155.0 243.9,147.0 244.2,156.0 244.4,193.2 244.7,189.6 245.0,172.5 245.2,182.7 245.5,190.8 245.7,174.7 246.0,179.9 246.3,171.7 246.5,179.7 246.8,174.4 247.0,179.9 247.3,188.1 247.6,191.6 247.8,180.4 248.1,181.0 248.3,186.9 248.6,175.3 248.9,165.0 249.1,189.2 249.4,166.7 249.6,187.6 249.9,166.3 250.2,195.6 250.4,165.3 250.7,186.9 250.9,192.7 251.2,166.4 251.5,192.6 251.7,168.3 252.0,155.6 252.2,185.8 252.5,185.6 252.8,163.9 253.0,150.0 253.3,178.6 253.5,175.2 253.8,174.3 254.1,175.5 254.3,155.4 254.6,171.8 254.8,195.5 255.1,193.2 255.4,174.5 255.6,169.9 255.9,182.9 256.1,188.9 256.4,185.9 256.7,163.8 256.9,180.9 257.2,180.7 257.4,192.3 257.7,190.1 258.0,184.1 258.2,190.3 258.5,174.2 258.7,193.2 259.0,173.8 259.3,183.0 259.5,187.7 259.8,167.3 260.0,170.1 260.3,156.0 260.6,181.0 260.8,178.8 261.1,175.2 261.3,184.0 261.6,151.2 261.9,179.2 262.1,180.3 262.4,176.0 262.6,186.6 262.9,195.2 263.2,173.6 263.4,167.0 263.7,171.5 263.9,180.4 264.2,184.8 264.5,168.1 264.7,160.7 265.0,146.0 265.2,156.5 265.5,166.2 265.8,183.8 266.0,198.9 266.3,176.1 266.5,177.5 266.8,183.9 267.1,187.4 267.3,161.8 267.6,182.1 267.8,169.8 268.1,185.3 268.4,191.9 268.6,180.2 268.9,178.3 269.1,181.4 269.4,143.5 269.7,186.6 269.9,184.7 270.2,181.2 270.4,174.5 270.7,170.0 271.0,177.4 271.2,190.6 271.5,178.4 271.7,191.8 272.0,150.0 272.3,173.7 272.5,182.3 272.8,179.6 273.0,157.7 273.3,171.0 273.6,191.0 273.8,162.6 274.1,166.6 274.3,165.2 274.6,172.5 274.9,185.6 275.1,185.2 275.4,152.8 275.6,192.9 275.9,172.0 276.2,172.0 276.4,194.7 276.7,178.8 276.9,163.4 277.2,171.4 277.5,170.2 277.7,166.5 278.0,175.5 278.2,187.8 278.5,183.1 278.8,161.6 279.0,204.1 279.3,166.8 279.5,181.0 279.8,180.3 280.1,186.8 280.3,175.6 280.6,184.0 280.8,198.6 281.1,180.7 281.4,165.4 281.6,182.8 281.9,169.1 282.1,174.9 282.4,181.4 282.7,182.7 282.9,175.9 283.2,187.2 283.4,177.1 283.7,162.2 284.0,187.4 284.2,174.7 284.5,190.3 284.7,170.8 285.0,184.6 285.3,182.3 285.5,143.5 285.8,159.5 286.0,164.5 286.3,191.9 286.6,154.2 286.8,187.4 287.1,189.0 287.3,183.7 287.6,185.2 287.9,172.6 288.1,179.0 288.4,181.2 288.6,182.9 288.9,185.4 289.2,176.3 289.4,169.7 289.7,155.6 289.9,148.0 290.2,152.9 290.5,162.3 290.7,173.4 291.0,171.5 291.2,175.3 291.5,143.4 291.8,174.3 292.0,175.5 292.3,185.7 292.5,152.4 292.8,174.6 293.1,182.9 293.3,183.0 293.6,189.2 293.8,188.0 294.1,164.6 294.4,184.2 294.6,174.1 294.9,167.8 295.1,192.1 295.4,170.1 295.7,167.1 295.9,173.0 296.2,167.0 296.4,187.3 296.7,181.7 297.0,190.7 297.2,181.9 297.5,170.1 297.7,187.5 298.0,146.0 298.3,156.9 298.5,175.9 298.8,178.5 299.0,188.7 299.3,170.0 299.6,181.2 299.8,177.7 300.1,161.2 300.3,163.3 300.6,174.9 300.9,181.3 301.1,180.5 301.4,181.9 301.6,178.0 301.9,171.5 302.2,181.2 302.4,164.0 302.7,159.3 302.9,172.7 303.2,158.0 303.5,170.2 303.7,158.3 304.0,150.0 304.2,162.1 304.5,166.1 304.8,171.0 305.0,153.8 305.3,177.8 305.5,164.7 305.8,179.9 306.1,140.3 306.3,165.5 306.6,178.3 306.8,143.5 307.1,171.2 307.4,176.7 307.6,176.7 307.9,155.8 308.1,177.7 308.4,176.9 308.7,162.6 308.9,182.1 309.2,174.7 309.4,175.5 309.7,169.2 310.0,180.0 310.2,175.9 310.5,185.1 310.7,178.9 311.0,166.6 311.3,171.8 311.5,182.9 311.8,151.4 312.0,145.0 312.3,153.6 312.6,172.0 312.8,143.3 313.1,175.4 313.3,176.1 313.6,175.3 313.9,163.9 314.3,160.6 314.6,156.2 314.8,184.1 315.1,180.6 315.3,184.5 315.6,149.0 315.8,173.7 316.1,157.6 316.3,168.9 316.6,163.4 316.8,152.4 317.1,177.0 317.3,136.6 317.6,164.8 317.8,167.4 318.1,152.1 318.3,153.9 318.6,168.5 318.8,136.6 319.1,150.9 319.3,153.9 319.6,137.9 319.8,149.7 320.1,136.0 320.3,119.0 320.6,147.6 320.8,151.5 321.1,138.7 321.3,152.4 321.6,150.3" fill="none" stroke="#ec2424" stroke-width="0.95" stroke-linejoin="round" /><polyline points="281.5,190.0 282.5,200.0 283.2,206.0 284.0,195.0 285.0,185.0 285.3,175.8 285.6,177.4 285.9,186.4 286.2,176.8 286.5,169.5 286.8,178.0 287.1,180.4 287.4,181.1 287.7,168.2 288.0,189.5 288.3,188.5 288.6,173.8 288.9,175.7 289.2,169.2 289.5,185.2 289.8,165.9 290.1,178.0 290.4,167.5 290.7,165.4 291.0,178.2 291.3,183.8 291.6,171.3 291.9,164.9 292.2,178.8 292.5,170.5 292.8,173.8 293.1,185.4 293.4,181.6 293.7,165.5 294.0,192.8 294.3,170.3 294.6,178.0 294.9,163.6 295.2,169.4 295.5,152.1 295.8,187.2 296.1,182.8 296.4,156.7 296.7,153.6 297.0,152.2 297.3,179.9 297.6,163.3 297.9,167.1 298.2,164.3 298.5,166.0 298.8,156.1 299.1,167.0 299.4,152.1 299.7,165.5 300.0,169.1 300.3,170.0 300.6,162.5 300.9,155.3 301.2,165.2 301.5,158.3 301.8,177.5 302.1,169.2 302.4,160.1 302.7,156.1 303.0,153.4 303.3,149.7 303.6,153.7 303.9,158.2 304.2,158.7 304.5,157.7 304.8,170.0 305.1,142.9 305.4,147.1 305.7,167.0 306.0,126.8 306.3,136.0 306.6,139.4 306.9,137.0 307.2,136.8 307.5,130.0 307.8,132.5 308.1,128.2 308.4,131.2 308.7,111.2 309.0,116.2 309.3,122.0 309.6,115.6 309.9,115.7 310.2,125.6 310.5,118.4 310.8,125.4 311.1,125.9 311.4,123.6" fill="none" stroke="#050505" stroke-width="2.8" stroke-linejoin="round" /><circle cx="73.1" cy="185.0" r="1.5" fill="#000"/><circle cx="287.4" cy="161.3" r="1.6" fill="#000"/></g><polyline points="66.4,215.5 66.5,196.0 67.0,200.0 67.2,215.0 69.8,215.3" fill="none" stroke="#050505" stroke-width="2.0" stroke-linejoin="round" /><clipPath id="cr"><rect x="449.2" y="12.5" width="257.2" height="203.4"/></clipPath><g clip-path="url(#cr)"><polyline points="449.6,216.0 450.2,215.3 449.6,214.6 448.9,213.9 449.6,213.2 449.7,212.5 449.6,211.8 449.4,211.1 449.6,210.4 449.1,209.7 449.6,209.0 450.3,208.3 449.6,207.6 449.7,206.9 449.6,206.2 450.5,205.5 449.6,204.8 449.7,204.1 449.6,203.4 451.0,202.7 449.6,202.0 450.1,201.3 449.6,200.6 451.1,199.9 449.6,199.2 452.0,198.5 449.6,197.8 451.3,197.1 449.6,196.4 451.2,195.7 449.6,195.0 451.6,194.3 449.6,193.6 452.6,192.9 449.6,192.2 451.8,191.5 449.6,190.8 451.9,190.1 449.6,189.4 452.1,188.7 449.6,188.0 452.6,187.3 449.6,186.6 452.7,185.9 449.6,185.2 452.9,184.5 449.6,183.8 453.5,183.1 449.6,182.4 453.0,181.7 449.6,181.0 453.7,180.3 449.6,179.6 454.0,178.9 449.6,178.2 454.5,177.5 449.6,176.8 453.7,176.1 449.6,175.4 455.3,174.7 449.6,174.0 454.2,173.3 449.6,172.6 455.9,171.9 449.6,171.2 455.6,170.5 449.6,169.8 456.0,169.1 449.6,168.4 455.3,167.7 449.6,167.0 456.5,166.3 449.6,165.6 456.7,164.9 449.6,164.2 456.0,163.5 449.6,162.8 456.7,162.1 449.6,161.4 456.6,160.7 449.6,160.0 457.0,159.3 449.6,158.6 457.0,160.0 457.0,156.3 457.4,160.9 457.8,162.5 458.2,157.7 458.6,155.1 459.0,158.6 459.4,160.0 459.8,161.6 460.2,154.4 460.6,154.0 461.0,159.7 461.4,158.8 461.8,161.7 462.2,159.9 462.6,156.6 463.0,156.1 463.4,164.5 463.8,155.9 464.2,154.4 464.6,153.3 465.0,156.9 465.4,157.0 465.8,155.5 466.2,156.3 466.6,157.2 467.0,158.5 467.4,159.6 467.8,156.9 468.2,150.9 468.6,158.3 469.0,151.9 469.4,155.6 469.8,151.6 470.2,156.0 470.6,153.7 471.0,156.7 471.4,163.9 471.8,155.9 472.2,158.6 472.6,152.2 473.0,155.3 473.4,158.2 473.8,155.9 474.2,157.3 474.6,156.5 475.0,153.2 475.4,158.0 475.8,153.9 476.2,161.9 476.6,154.8 477.0,158.4 477.4,156.4 477.8,159.2 478.2,154.6 478.6,159.4 479.0,156.1 479.4,160.3 479.8,158.4 480.2,156.9 480.6,154.2 481.0,158.9 481.4,158.0 481.8,161.5 482.2,155.5 482.6,158.3 483.0,158.2 483.4,157.5 483.8,157.3 484.2,157.3 484.6,154.9 485.0,153.7 485.4,155.6 485.8,158.6 486.2,161.3 486.6,159.8 487.0,160.0 487.4,159.2 487.8,159.0 488.2,157.5 488.6,159.2 489.0,162.3 489.4,156.0 489.8,154.9 490.2,162.9 490.6,157.7 491.0,159.8 491.4,159.5 491.8,153.5 492.2,164.2 492.6,162.2 493.0,157.3 493.4,159.0 493.8,157.1 494.2,154.1 494.6,156.4 495.0,157.8 495.4,160.0 495.8,158.7 496.2,156.8 496.6,160.6 497.0,154.3 497.4,158.9 497.8,159.8 498.2,155.6 498.6,151.1 499.0,153.7 499.4,157.1 499.8,157.9 500.2,161.0 500.6,153.3 501.0,156.3 501.4,158.2 501.8,155.7 502.2,149.1 502.6,158.6 503.0,163.1 503.4,159.1 503.8,153.3 504.2,154.8 504.6,156.7 505.0,163.5 505.4,157.8 505.8,156.3 506.2,160.6 506.6,155.6 507.0,161.5 507.4,153.8 507.8,154.4 508.2,157.9 508.6,160.0 509.0,157.7 509.4,156.6 509.8,150.2 510.2,153.5 510.6,153.8 511.0,154.0 511.4,157.3 511.8,154.5 512.2,157.9 512.6,155.7 513.0,154.5 513.4,155.8 513.8,156.7 514.2,158.0 514.6,153.9 515.0,154.6 515.4,151.2 515.8,160.1 516.2,159.6 516.6,154.7 517.0,153.8 517.4,151.5 517.8,155.7 518.2,155.7 518.6,161.6 519.0,155.8 519.4,152.7 519.8,147.7 520.2,159.2 520.6,155.6 521.0,150.2 521.4,155.6 521.8,150.3 522.2,162.9 522.6,158.5 523.0,156.9 523.4,154.6 523.8,148.8 524.2,154.8 524.6,150.6 525.0,157.0 525.4,148.9 525.8,152.6 526.2,159.0 526.6,160.3 527.0,151.8 527.4,150.8 527.8,158.0 528.2,158.0 528.6,152.5 529.0,153.4 529.4,153.4 529.8,151.9 530.2,153.5 530.6,159.3 531.0,157.6 531.4,161.7 531.8,155.3 532.2,155.2 532.6,152.7 533.0,155.3 533.4,151.7 533.8,150.4 534.2,157.8 534.6,160.1 535.0,158.3 535.4,159.8 535.8,156.5 536.2,153.7 536.6,156.1 537.0,154.7 537.4,152.5 537.8,150.8 538.2,151.5 538.6,155.9 539.0,156.4 539.4,154.5 539.8,160.3 540.2,156.5 540.6,157.8 541.0,159.7 541.4,153.6 541.8,150.2 542.2,158.4 542.6,154.1 543.0,160.1 543.4,157.2 543.8,159.2 544.2,158.5 544.6,150.0 545.0,158.4 545.4,154.3 545.8,154.0 546.2,155.0 546.6,158.6 547.0,159.0 547.4,159.4 547.8,151.4 548.2,154.6 548.6,149.3 549.0,156.1 549.4,158.3 549.8,154.2 550.2,157.2 550.6,157.2 551.0,159.6 551.4,154.1 551.8,154.1 552.2,154.3 552.6,161.9 553.0,159.9 553.4,156.3 553.8,157.4 554.2,157.1 554.6,157.3 555.0,156.1 555.4,155.8 555.8,153.0 556.2,154.9 556.6,161.8 557.0,158.5 557.4,157.1 557.8,156.2 558.2,157.1 558.6,158.0 559.0,155.0 559.4,157.6 559.8,157.7 560.2,154.8 560.6,154.6 561.0,154.0 561.4,153.8 561.8,159.7 562.2,150.0 562.6,156.3 563.0,155.2 563.4,155.2 563.8,157.4 564.2,160.5 564.6,157.4 565.0,156.7 565.4,155.3 565.8,156.8 566.2,159.9 566.6,156.0 567.0,153.7 567.4,153.4 567.8,153.9 568.2,153.0 568.6,160.5 569.0,158.3 569.4,156.5 569.8,161.6 570.2,155.3 570.6,159.5 571.0,159.7 571.4,152.7 571.8,152.6 572.2,154.5 572.6,160.1 573.0,161.2 573.4,153.7 573.8,160.5 574.2,156.2 574.6,156.2 575.0,155.7 575.4,156.4 575.8,152.0 576.2,154.4 576.6,153.7 577.0,158.9 577.4,163.7 577.8,165.3 578.2,156.5 578.6,152.3 579.0,156.3 579.4,154.7 579.8,163.5 580.2,159.2 580.6,155.4 581.0,160.4 581.4,159.2 581.8,152.7 582.2,156.0 582.6,156.9 583.0,157.7 583.4,158.0 583.8,156.6 584.2,158.2 584.6,155.9 585.0,155.0 585.4,162.2 585.8,158.8 586.2,159.0 586.6,152.9 587.0,157.2 587.4,160.2 587.8,153.9 588.2,161.0 588.6,156.6 589.0,159.0 589.4,157.4 589.8,158.4 590.2,161.4 590.6,156.6 591.0,162.5 591.4,155.5 591.8,155.0 592.2,160.0 592.6,154.7 593.0,156.8 593.4,160.6 593.8,161.5 594.2,152.6 594.6,159.4 595.0,163.6 595.4,161.5 595.8,157.2 596.2,156.2 596.6,157.1 597.0,154.5 597.4,157.2 597.8,157.4 598.2,157.8 598.6,162.8 599.0,158.6 599.4,154.4 599.8,164.8 600.2,156.4 600.6,159.6 601.0,161.6 601.4,161.0 601.8,158.0 602.2,162.5 602.6,177.0 603.0,161.4 603.4,164.2 603.8,171.9 604.2,169.7 604.6,169.8 605.0,170.5 605.4,171.0 605.8,171.0 606.2,169.2 606.6,168.6 607.0,173.4 607.4,168.6 607.8,172.0 608.2,172.0 608.6,169.6 609.0,167.5 609.4,170.1 609.8,164.1 610.2,161.3 610.6,161.1 611.0,172.9 611.4,174.1 611.8,172.4 612.2,171.7 612.6,171.6 613.0,166.7 613.4,170.7 613.8,160.5 614.2,165.6 614.6,162.5 615.0,171.4 615.4,174.0 615.8,173.1 616.2,169.5 616.6,175.3 617.0,162.4 617.4,161.6 617.8,172.1 618.2,160.6 618.6,170.0 619.0,163.9 619.4,166.7 619.8,156.4 620.2,171.7 620.6,164.4 621.0,162.1 621.4,180.0 621.8,171.8 622.2,183.2 622.6,170.0 623.0,165.5 623.4,168.3 623.8,175.0 624.2,175.0 624.6,171.7 625.0,170.9 625.4,162.3 625.8,170.3 626.2,175.0 626.6,177.0 627.0,173.2 627.4,171.9 627.8,168.4 628.2,162.4 628.6,155.5 629.0,170.2 629.4,166.4 629.8,156.5 630.2,166.0 630.6,156.9 631.0,165.6 631.4,166.3 631.8,167.3 632.2,166.2 632.6,165.6 633.0,157.4 633.4,161.6 633.8,160.6 634.2,161.9 634.6,164.7 635.0,166.5 635.4,172.3 635.8,146.7 636.2,164.0 636.6,159.6 637.0,173.7 637.4,164.8 637.8,148.5 638.2,160.0 638.6,153.7 639.0,162.0 639.4,148.9 639.8,153.8 640.2,152.8 640.6,152.2 641.0,148.5 641.4,140.2 641.8,153.2" fill="none" stroke="#050505" stroke-width="1.5" stroke-linejoin="round" /><polyline points="641.0,148.5 641.4,140.2 641.8,153.2 642.2,155.5 642.6,147.9 643.0,141.1 643.4,147.4 643.8,148.5 644.2,142.9 644.6,142.8 645.0,150.4 645.4,133.7 645.8,136.1 646.2,126.6 646.6,133.0 647.0,131.6 647.4,129.1 647.8,129.7 648.2,144.4 648.6,130.6 649.0,130.0 649.4,143.7 649.8,128.2 650.2,116.7 650.6,130.2 651.0,121.2 651.4,137.8 651.8,118.6 652.2,122.7 652.6,115.7 653.0,126.6 653.4,119.0 653.8,125.0 654.2,122.7 654.6,120.8 655.0,131.0 655.4,130.7 655.8,124.6 656.2,117.8 656.6,116.3 657.0,125.2 657.4,139.5 657.8,119.7 658.2,117.1 658.6,117.4 659.0,114.4 659.4,115.0 659.8,120.0 660.2,131.2 660.6,120.9 661.0,117.1 661.4,109.0 661.8,121.6 662.2,119.7 662.6,110.9 663.0,111.6 663.4,118.8 663.8,126.0 664.2,123.0 664.6,119.7 665.0,115.7 665.4,120.0 665.8,117.3 666.2,132.8 666.6,108.5 667.0,113.7 667.4,125.3 667.8,113.8 668.2,125.9 668.6,114.8 669.0,115.9 669.4,111.7 669.8,104.0 670.2,106.6 670.6,130.0 671.0,118.0 671.4,117.4 671.8,119.7 672.2,116.5 672.6,119.6 673.0,109.6 673.4,109.6 673.8,118.4 674.2,108.0 674.6,100.2 675.0,108.3 675.4,105.5 675.8,114.0 676.2,103.5 676.6,100.6 677.0,105.8 677.4,120.0 677.8,107.4 678.2,108.7 678.6,107.2 679.0,109.1 679.4,113.7 679.8,117.0 680.2,92.9 680.6,115.9 681.0,104.8 681.4,101.8 681.8,122.7 682.2,102.0 682.6,118.3 683.0,110.1 683.4,93.7 683.8,105.3 684.2,106.8 684.6,99.5 685.0,81.4 685.4,96.8 685.8,97.5 686.2,89.7 686.6,112.7 687.0,95.6 687.4,94.0 687.8,94.2 688.2,89.9 688.6,89.5 689.0,96.0 689.4,97.2 689.8,90.2 690.2,93.0 690.6,82.2 691.0,97.0 691.4,86.3 691.8,93.6 692.2,84.1 692.6,86.8 693.0,92.1 693.4,80.2 693.8,109.2 694.2,88.7 694.6,87.9 695.0,82.1 695.4,100.4 695.8,98.4 696.2,89.4 696.6,75.7 697.0,82.3 697.4,91.0 697.8,81.6 698.2,75.9 698.6,75.6 699.0,78.6 699.4,84.5 699.8,78.9 700.2,83.9 700.6,104.2 701.0,97.3 701.4,74.5 701.8,85.2 702.2,82.8 702.6,80.7 703.0,89.8 703.4,78.5 703.8,78.2 704.2,77.5 704.6,79.3 705.0,90.1 705.4,85.7 705.8,68.4" fill="none" stroke="#050505" stroke-width="2.4" stroke-linejoin="round" /><polyline points="460.0,165.0 460.5,168.5 461.0,167.2 461.5,168.8 462.0,168.4 462.5,168.6 463.0,169.1 463.5,169.6 464.0,166.9 464.5,166.0 465.0,167.5 465.5,168.3 466.0,165.1 466.5,165.1 467.0,162.7 467.5,167.8 468.0,169.9 468.5,164.7 469.0,162.9 469.5,163.2 470.0,165.1 470.5,164.0 471.0,169.7 471.5,162.0 472.0,164.1 472.5,162.5 473.0,167.0 473.5,168.1" fill="none" stroke="#050505" stroke-width="1.8" stroke-linejoin="round" /><polyline points="487.0,165.7 487.5,165.2 488.0,166.8 488.5,167.3 489.0,168.6 489.5,165.1 490.0,165.4 490.5,165.7 491.0,165.9 491.5,165.9" fill="none" stroke="#050505" stroke-width="1.8" stroke-linejoin="round" /><polyline points="513.0,156.6 513.5,155.3 514.0,151.4 514.5,151.0 515.0,152.0 515.5,150.8 516.0,157.0 516.5,152.3 517.0,154.8 517.5,157.7 518.0,154.1 518.5,151.8 519.0,158.4 519.5,158.7 520.0,152.6 520.5,154.8 521.0,159.1 521.5,154.1 522.0,151.3 522.5,149.5 523.0,159.0 523.5,157.5 524.0,153.1 524.5,154.6 525.0,154.5 525.5,151.9 526.0,159.5 526.5,156.0 527.0,151.5 527.5,149.1 528.0,154.0 528.5,152.9" fill="none" stroke="#050505" stroke-width="1.8" stroke-linejoin="round" /><polyline points="540.0,156.4 540.5,155.7 541.0,154.8 541.5,151.3 542.0,151.3 542.5,152.6 543.0,152.1 543.5,157.0 544.0,154.1 544.5,155.1 545.0,157.9 545.5,152.1 546.0,154.3 546.5,151.2 547.0,156.2 547.5,150.0 548.0,156.6 548.5,156.8 549.0,156.6 549.5,150.7 550.0,152.2 550.5,155.7 551.0,150.8 551.5,153.8 552.0,153.7" fill="none" stroke="#050505" stroke-width="1.8" stroke-linejoin="round" /><polyline points="582.0,150.7 582.5,148.5 583.0,150.1 583.5,146.8 584.0,149.7 584.5,147.5 585.0,150.5 585.5,145.5 586.0,150.0 586.5,146.3 587.0,148.3 587.5,148.2 588.0,145.9" fill="none" stroke="#050505" stroke-width="1.8" stroke-linejoin="round" /><polyline points="449.5,103.2 449.7,110.6 449.9,100.6 450.1,105.8 450.3,110.2 450.5,103.8 450.7,116.0 450.9,105.3 451.1,99.3 451.3,105.6 451.5,103.4 451.7,90.1 451.9,85.6 452.1,85.6 452.3,103.9 452.5,106.4 452.7,106.1 452.9,97.6 453.1,116.6 453.3,108.1 453.5,118.2 453.7,106.1 453.9,107.6 454.1,122.5 454.3,106.5 454.5,110.5 454.7,118.7 454.9,105.3 455.1,115.4 455.3,100.4 455.5,105.6 455.7,103.0 455.9,114.7 456.1,104.2 456.3,101.8 456.5,111.7 456.7,120.6 456.9,97.7 457.1,125.5 457.3,94.9 457.5,88.0 457.7,82.7 457.9,82.7 458.1,89.1 458.3,96.3 458.5,118.2 458.7,114.8 458.9,106.2 459.1,102.5 459.3,94.4 459.5,117.0 459.7,104.6 459.9,105.6 460.1,108.4 460.3,112.6 460.5,113.9 460.7,113.8 460.9,124.9 461.1,116.2 461.3,98.6 461.5,112.3 461.7,99.1 461.9,96.2 462.1,111.5 462.3,100.3 462.5,103.6 462.7,115.5 462.9,92.0 463.1,92.0 463.3,96.3 463.5,85.8 463.7,111.0 463.9,95.8 464.1,106.7 464.3,106.9 464.5,104.2 464.7,114.8 464.9,105.7 465.1,104.8 465.3,100.7 465.5,115.1 465.7,111.9 465.9,92.7 466.1,104.3 466.3,104.9 466.5,110.0 466.7,89.9 466.9,100.6 467.1,105.8 467.3,103.5 467.5,108.2 467.7,102.5 467.9,95.0 468.1,95.0 468.3,106.9 468.5,111.1 468.7,103.4 468.9,119.5 469.1,104.2 469.3,109.4 469.5,111.7 469.7,108.7 469.9,119.5 470.1,105.9 470.3,101.2 470.5,115.6 470.7,104.9 470.9,104.1 471.1,109.4 471.3,113.0 471.5,107.7 471.7,117.2 471.9,102.4 472.1,98.4 472.3,104.4 472.5,106.8 472.7,127.1 472.9,124.2 473.1,107.8 473.3,95.9 473.5,89.0 473.7,89.0 473.9,93.2 474.1,113.6 474.3,104.8 474.5,94.3 474.7,101.5 474.9,112.9 475.1,118.5 475.3,110.6 475.5,109.7 475.7,119.4 475.9,130.8 476.1,120.3 476.3,104.1 476.5,104.3 476.7,120.6 476.9,108.2 477.1,100.5 477.3,96.0 477.5,100.5 477.7,104.5 477.9,93.0 478.1,93.0 478.3,109.8 478.5,100.6 478.7,116.1 478.9,113.7 479.1,118.1 479.3,108.0 479.5,119.9 479.7,103.0 479.9,119.6 480.1,121.4 480.3,112.4 480.5,122.8 480.7,126.8 480.9,102.5 481.1,104.8 481.3,100.7 481.5,117.2 481.7,105.9 481.9,98.3 482.1,111.8 482.3,102.3 482.5,128.2 482.7,112.0 482.9,107.5 483.1,100.9 483.3,95.5 483.5,95.5 483.7,122.2 483.9,108.4 484.1,105.6 484.3,113.2 484.5,120.9 484.7,111.0 484.9,127.9 485.1,120.1 485.3,126.7 485.5,108.3 485.7,105.2 485.9,108.8 486.1,113.2 486.3,127.5 486.5,121.3 486.7,119.5 486.9,108.9 487.1,121.4 487.3,116.4 487.5,120.4 487.7,115.6 487.9,110.0 488.1,120.0 488.3,126.7 488.5,115.4 488.7,123.9 488.9,136.7 489.1,128.2 489.3,132.7 489.5,118.9 489.7,127.2 489.9,115.6 490.1,124.1 490.3,117.2 490.5,122.6 490.7,112.8 490.9,126.4 491.1,121.7 491.3,125.2 491.5,120.4 491.7,105.7 491.9,120.5 492.1,131.3 492.3,125.7 492.5,123.9 492.7,133.0 492.9,142.2 493.1,133.4 493.3,130.5 493.5,120.3 493.7,121.4 493.9,136.5 494.1,130.5 494.3,129.4 494.5,134.6 494.7,125.5 494.9,111.4 495.1,130.3 495.3,139.3 495.5,129.5 495.7,132.9 495.9,137.8 496.1,146.6 496.3,124.3 496.5,137.4 496.7,146.8 496.9,127.6 497.1,140.4 497.3,141.3 497.5,148.2 497.7,139.6 497.9,134.5 498.1,131.5 498.3,131.5 498.5,137.4 498.7,134.2 498.9,146.1 499.1,144.3 499.3,130.4 499.5,152.6 499.7,145.9 499.9,128.9 500.1,145.9 500.3,147.0 500.5,145.8 500.7,134.8 500.9,142.9 501.1,140.7 501.3,133.8 501.5,149.5 501.7,139.7 501.9,142.7 502.1,139.2 502.3,149.5 502.5,140.0 502.7,130.9 502.9,129.8 503.1,124.5 503.3,133.5 503.5,135.2 503.7,132.7 503.9,154.9 504.1,135.2 504.3,132.9 504.5,136.1 504.7,135.7 504.9,146.5 505.1,137.4 505.3,129.0 505.5,136.6 505.7,148.3 505.9,141.2 506.1,137.1 506.3,144.0 506.5,139.4 506.7,135.3 506.9,135.6 507.1,150.9 507.3,138.6 507.5,144.6 507.7,133.8 507.9,137.0 508.1,156.4 508.3,124.9 508.5,146.7 508.7,140.3 508.9,138.5 509.1,131.1 509.3,146.6 509.5,134.7 509.7,142.7 509.9,147.3 510.1,134.2 510.3,133.0 510.5,131.4 510.7,127.6 510.9,129.7 511.1,137.7 511.3,145.1 511.5,129.2 511.7,120.3 511.9,136.3 512.1,144.7 512.3,150.3 512.5,143.9 512.7,147.6 512.9,139.5 513.1,146.8 513.3,140.7 513.5,125.8 513.7,140.2 513.9,133.5 514.1,133.5 514.3,139.2 514.5,131.2 514.7,134.6 514.9,148.6 515.1,141.1 515.3,136.7 515.5,129.4 515.7,142.2 515.9,135.6 516.1,139.7 516.3,140.1 516.5,131.0 516.7,139.1 516.9,133.6 517.1,141.0 517.3,139.8 517.5,136.3 517.7,147.0 517.9,133.8 518.1,126.5 518.3,135.5 518.5,139.4 518.7,143.2 518.9,138.3 519.1,141.1 519.3,135.1 519.5,148.5 519.7,133.4 519.9,138.2 520.1,136.5 520.3,137.5 520.5,141.1 520.7,135.1 520.9,139.1 521.1,143.5 521.3,134.2 521.5,126.4 521.7,139.8 521.9,136.7 522.1,133.4 522.3,143.0 522.5,143.3 522.7,158.2 522.9,147.4 523.1,141.5 523.3,140.8 523.5,120.5 523.7,144.3 523.9,145.7 524.1,139.3 524.3,137.3 524.5,140.3 524.7,154.6 524.9,144.0 525.1,145.0 525.3,137.2 525.5,146.7 525.7,141.2 525.9,140.4 526.1,151.7 526.3,139.2 526.5,139.0 526.7,134.4 526.9,139.4 527.1,148.6 527.3,140.0 527.5,147.5 527.7,145.8 527.9,136.8 528.1,129.1 528.3,156.8 528.5,138.1 528.7,138.3 528.9,131.2 529.1,145.6 529.3,145.8 529.5,142.0 529.7,134.9 529.9,126.3 530.1,127.2 530.3,131.7 530.5,132.8 530.7,141.4 530.9,143.6 531.1,134.0 531.3,140.8 531.5,135.0 531.7,137.2 531.9,143.5 532.1,135.8 532.3,138.6 532.5,141.3 532.7,144.6 532.9,134.0 533.1,141.1 533.3,121.6 533.5,147.2 533.7,133.9 533.9,127.3 534.1,141.9 534.3,146.6 534.5,149.6 534.7,144.7 534.9,136.3 535.1,144.2 535.3,144.2 535.5,140.2 535.7,138.9 535.9,146.6 536.1,149.5 536.3,133.7 536.5,138.1 536.7,145.8 536.9,148.7 537.1,153.2 537.3,130.1 537.5,148.4 537.7,135.3 537.9,121.1 538.1,144.7 538.3,138.5 538.5,135.0 538.7,139.6 538.9,142.5 539.1,132.2 539.3,138.2 539.5,126.8 539.7,144.5 539.9,139.3 540.1,136.5 540.3,138.7 540.5,142.8 540.7,145.4 540.9,143.2 541.1,137.1 541.3,125.7 541.5,140.5 541.7,144.4 541.9,145.7 542.1,134.1 542.3,149.5 542.5,132.8 542.7,131.1 542.9,137.6 543.1,142.5 543.3,133.8 543.5,127.4 543.7,123.1 543.9,147.4 544.1,137.4 544.3,143.4 544.5,133.3 544.7,141.5 544.9,138.6 545.1,137.4 545.3,129.9 545.5,129.5 545.7,145.3 545.9,117.0 546.1,134.0 546.3,149.0 546.5,142.6 546.7,135.3 546.9,133.8 547.1,127.6 547.3,153.2 547.5,134.2 547.7,139.6 547.9,149.3 548.1,145.5 548.3,143.1 548.5,137.0 548.7,140.8 548.9,134.5 549.1,143.7 549.3,133.7 549.5,139.8 549.7,143.7 549.9,145.9 550.1,135.7 550.3,140.4 550.5,136.8 550.7,134.7 550.9,144.6 551.1,142.6 551.3,135.0 551.5,140.5 551.7,128.3 551.9,132.3 552.1,126.9 552.3,133.8 552.5,145.0 552.7,138.4 552.9,135.3 553.1,139.0 553.3,134.5 553.5,138.0 553.7,125.8 553.9,136.4 554.1,128.9 554.3,137.1 554.5,135.5 554.7,137.1 554.9,125.2 555.1,149.2 555.3,128.8 555.5,131.9 555.7,131.6 555.9,129.4 556.1,122.3 556.3,136.0 556.5,141.4 556.7,131.0 556.9,114.6 557.1,123.2 557.3,134.4 557.5,120.1 557.7,125.6 557.9,125.7 558.1,125.7 558.3,135.6 558.5,140.8 558.7,115.6 558.9,117.3 559.1,145.1 559.3,136.5 559.5,132.9 559.7,124.0 559.9,131.3 560.1,115.8 560.3,150.6 560.5,135.0 560.7,136.3 560.9,133.3 561.1,144.9 561.3,131.4 561.5,131.7 561.7,122.7 561.9,128.8 562.1,132.0 562.3,141.7 562.5,124.5 562.7,122.0 562.9,122.9 563.1,122.9 563.3,142.6 563.5,110.3 563.7,126.8 563.9,138.1 564.1,136.8 564.3,125.7 564.5,127.9 564.7,117.2 564.9,121.7 565.1,109.3 565.3,133.1 565.5,125.9 565.7,123.1 565.9,123.3 566.1,122.6 566.3,127.1 566.5,127.1 566.7,145.0 566.9,123.9 567.1,128.9 567.3,130.3 567.5,138.3 567.7,135.0 567.9,139.9 568.1,132.4 568.3,132.4 568.5,133.9 568.7,131.8 568.9,128.8 569.1,125.8 569.3,115.2 569.5,134.5 569.7,124.6 569.9,130.5 570.1,141.9 570.3,116.2 570.5,136.2 570.7,132.0 570.9,113.6 571.1,128.9 571.3,118.5 571.5,138.5 571.7,129.3 571.9,143.7 572.1,125.7 572.3,136.6 572.5,130.4 572.7,112.0 572.9,134.8 573.1,119.0 573.3,116.8 573.5,135.9 573.7,117.0 573.9,117.3 574.1,130.5 574.3,124.6 574.5,119.4 574.7,138.3 574.9,129.6 575.1,134.6 575.3,140.8 575.5,129.8 575.7,151.0 575.9,120.1 576.1,137.9 576.3,138.9 576.5,117.5 576.7,134.8 576.9,111.9 577.1,141.2 577.3,131.3 577.5,128.3 577.7,127.4 577.9,124.0 578.1,135.5 578.3,130.3 578.5,124.9 578.7,104.8 578.9,134.1 579.1,133.7 579.3,139.2 579.5,130.0 579.7,119.4 579.9,128.9 580.1,122.0 580.3,142.7 580.5,131.3 580.7,120.9 580.9,117.2 581.1,134.5 581.3,128.9 581.5,102.8 581.7,115.3 581.9,134.6 582.1,110.0 582.3,120.6 582.5,128.4 582.7,129.2 582.9,140.9 583.1,137.3 583.3,124.0 583.5,134.2 583.7,129.3 583.9,128.8 584.1,134.6 584.3,124.2 584.5,130.4 584.7,132.3 584.9,121.1 585.1,128.4 585.3,113.5 585.5,123.0 585.7,121.9 585.9,125.0 586.1,139.5 586.3,129.6 586.5,120.8 586.7,125.5 586.9,126.4 587.1,131.6 587.3,128.2 587.5,122.1 587.7,129.1 587.9,114.6 588.1,108.3 588.3,130.6 588.5,119.8 588.7,124.2 588.9,109.9 589.1,118.2 589.3,117.2 589.5,117.3 589.7,138.9 589.9,115.7 590.1,132.0 590.3,122.1 590.5,129.6 590.7,110.1 590.9,123.4 591.1,124.3 591.3,124.7 591.5,126.4 591.7,130.0 591.9,126.3 592.1,122.7 592.3,114.9 592.5,121.3 592.7,122.5 592.9,128.2 593.1,144.4 593.3,133.5 593.5,123.4 593.7,128.5 593.9,108.1 594.1,121.9 594.3,113.9 594.5,128.2 594.7,107.1 594.9,125.7 595.1,99.8 595.3,140.3 595.5,135.6 595.7,111.6 595.9,130.8 596.1,122.8 596.3,142.2 596.5,134.3 596.7,124.6 596.9,124.2 597.1,131.6 597.3,114.2 597.5,132.4 597.7,126.1 597.9,115.3 598.1,117.7 598.3,116.8 598.5,119.6 598.7,141.8 598.9,121.4 599.1,126.6 599.3,115.8 599.5,135.6 599.7,113.6 599.9,100.0 600.1,100.0 600.3,119.4 600.5,125.1 600.7,127.0 600.9,128.3 601.1,129.6 601.3,122.2 601.5,123.8 601.7,114.5 601.9,123.2 602.1,118.7 602.3,133.1 602.5,129.0 602.7,121.7 602.9,129.0 603.1,118.2 603.3,123.6 603.5,119.3 603.7,132.7 603.9,122.8 604.1,129.5 604.3,122.1 604.5,112.2 604.7,131.0 604.9,126.6 605.1,129.8 605.3,114.3 605.5,104.8 605.7,121.2 605.9,128.6 606.1,107.4 606.3,144.1 606.5,131.0 606.7,133.6 606.9,114.8 607.1,132.4 607.3,126.6 607.5,135.4 607.7,136.7 607.9,112.8 608.1,116.8 608.3,116.5 608.5,120.0 608.7,122.1 608.9,130.8 609.1,112.7 609.3,111.8 609.5,127.6 609.7,116.6 609.9,128.1 610.1,125.6 610.3,135.8 610.5,115.2 610.7,120.1 610.9,136.7 611.1,127.5 611.3,114.4 611.5,129.3 611.7,109.3 611.9,104.0 612.1,104.0 612.3,134.1 612.5,140.5 612.7,126.1 612.9,121.5 613.1,140.0 613.3,135.9 613.5,126.9 613.7,130.7 613.9,124.6 614.1,138.0 614.3,127.7 614.5,130.1 614.7,144.9 614.9,117.0 615.1,113.0 615.3,136.6 615.5,116.2 615.7,107.6 615.9,127.9 616.1,145.8 616.3,137.1 616.5,129.0 616.7,124.4 616.9,134.2 617.1,122.4 617.3,114.8 617.5,127.7 617.7,134.0 617.9,138.4 618.1,130.1 618.3,129.7 618.5,118.5 618.7,127.7 618.9,126.6 619.1,133.5 619.3,138.4 619.5,117.8 619.7,135.1 619.9,123.4 620.1,146.5 620.3,125.6 620.5,138.6 620.7,140.5 620.9,135.9 621.1,135.4 621.3,124.5 621.5,147.8 621.7,136.1 621.9,130.4 622.1,137.5 622.3,141.6 622.5,140.8 622.7,124.6 622.9,136.6 623.1,132.1 623.3,139.7 623.5,133.6 623.7,122.2 623.9,121.6 624.1,133.2 624.3,128.5 624.5,129.7 624.7,126.3 624.9,141.6 625.1,134.7 625.3,129.3 625.5,144.8 625.7,132.0 625.9,145.1 626.1,132.2 626.3,129.1 626.5,142.9 626.7,143.2 626.9,129.7 627.1,134.9 627.3,148.7 627.5,147.1 627.7,128.0 627.9,105.0 628.1,105.0 628.3,117.7 628.5,129.2 628.7,121.4 628.9,129.4 629.1,139.5 629.3,130.1 629.5,136.5 629.7,128.1 629.9,127.6 630.1,137.6 630.3,126.4 630.5,124.6 630.7,136.6 630.9,141.1 631.1,131.3 631.3,132.3 631.5,128.2 631.7,128.1 631.9,130.8 632.1,138.7 632.3,129.2 632.5,141.5 632.7,124.2 632.9,115.7 633.1,139.3 633.3,123.7 633.5,142.8 633.7,126.8 633.9,128.7 634.1,141.8 634.3,137.3 634.5,132.3 634.7,142.6 634.9,140.5 635.1,132.1 635.3,129.9 635.5,122.5 635.7,134.3 635.9,142.4 636.1,145.7 636.3,146.8 636.5,133.9 636.7,142.5 636.9,125.8 637.1,146.6 637.3,140.4 637.5,125.2 637.7,130.4 637.9,132.9 638.1,136.8 638.3,131.9 638.5,128.9 638.7,139.9 638.9,132.0 639.1,122.1 639.3,124.4 639.5,148.4 639.7,119.8 639.9,110.0 640.1,110.0 640.3,125.1 640.5,128.2 640.7,140.9 640.9,129.2 641.1,145.0 641.3,117.1 641.5,120.8 641.7,154.9 641.9,130.3 642.1,122.0 642.3,143.3 642.5,126.7 642.7,123.9 642.9,137.0 643.1,134.0 643.3,126.1 643.5,135.9 643.7,130.9 643.9,129.3 644.1,139.5 644.3,133.6 644.5,131.0 644.7,137.2 644.9,123.6 645.1,142.1 645.3,138.0 645.5,136.2 645.7,126.8 645.9,124.3 646.1,133.0 646.3,126.9 646.5,138.1 646.7,120.5 646.9,133.5 647.1,128.5 647.3,131.1 647.5,132.8 647.7,145.4 647.9,116.3 648.1,133.7 648.3,130.9 648.5,125.5 648.7,140.5 648.9,127.5 649.1,130.6 649.3,133.3 649.5,124.0 649.7,126.6 649.9,130.8 650.1,126.6 650.3,128.8 650.5,140.0 650.7,136.4 650.9,126.1 651.1,145.7 651.3,130.4 651.5,139.7 651.7,136.1 651.9,132.1 652.1,118.3 652.3,133.2 652.5,111.6 652.7,134.1 652.9,144.1 653.1,140.6 653.3,143.4 653.5,150.2 653.7,119.0 653.9,127.1 654.1,113.6 654.3,115.7 654.5,138.3 654.7,125.9 654.9,133.8 655.1,128.3 655.3,134.4 655.5,112.6 655.7,125.8 655.9,121.2 656.1,124.3 656.3,126.0 656.5,132.7 656.7,131.4 656.9,139.8 657.1,122.5 657.3,127.0 657.5,122.5 657.7,121.3 657.9,126.6 658.1,123.9 658.3,128.9 658.5,131.6 658.7,119.2 658.9,108.8 659.1,124.1 659.3,141.2 659.5,106.8 659.7,111.6 659.9,117.2 660.1,130.2 660.3,116.2 660.5,116.8 660.7,137.4 660.9,121.2 661.1,131.2 661.3,111.3 661.5,126.4 661.7,114.8 661.9,129.7 662.1,118.3 662.3,122.3 662.5,123.1 662.7,118.1 662.9,108.7 663.1,118.9 663.3,115.3 663.5,125.1 663.7,128.7 663.9,126.5 664.1,116.2 664.3,131.3 664.5,122.7 664.7,137.1 664.9,119.2 665.1,120.6 665.3,98.7 665.5,134.8 665.7,133.7 665.9,120.8 666.1,129.4 666.3,117.8 666.5,112.2 666.7,114.4 666.9,115.6 667.1,132.9 667.3,112.4 667.5,115.1 667.7,107.6 667.9,119.8 668.1,119.6 668.3,116.2 668.5,125.8 668.7,123.6 668.9,117.1 669.1,136.9 669.3,101.5 669.5,128.1 669.7,112.4 669.9,123.8 670.1,117.2 670.3,115.1 670.5,137.6 670.7,116.9 670.9,114.6 671.1,126.4 671.3,126.0 671.5,102.6 671.7,116.3 671.9,115.8 672.1,118.6 672.3,115.2 672.5,109.3 672.7,109.2 672.9,130.9 673.1,111.8 673.3,141.1 673.5,121.2 673.7,118.1 673.9,104.7 674.1,134.1 674.3,118.3 674.5,104.5 674.7,125.0 674.9,139.7 675.1,115.2 675.3,132.9 675.5,125.3 675.7,101.8 675.9,123.3 676.1,109.3 676.3,124.7 676.5,112.4 676.7,118.9 676.9,110.0 677.1,131.6 677.3,121.3 677.5,118.9 677.7,124.2 677.9,103.8 678.1,111.9 678.3,115.1 678.5,122.8 678.7,122.2 678.9,128.6 679.1,112.6 679.3,122.3 679.5,112.9 679.7,105.4 679.9,122.4 680.1,118.7 680.3,111.6 680.5,123.8 680.7,107.8 680.9,126.2 681.1,117.8 681.3,104.9 681.5,126.1 681.7,126.1 681.9,110.5 682.1,111.8 682.3,106.3 682.5,116.3 682.7,110.7 682.9,115.0 683.1,109.3 683.3,109.5 683.5,111.7 683.7,111.7 683.9,120.0 684.1,107.2 684.3,125.8 684.5,105.1 684.7,99.9 684.9,79.7 685.1,79.7 685.3,93.2 685.5,125.0 685.7,88.7 685.9,118.1 686.1,107.3 686.3,128.2 686.5,115.3 686.7,122.2 686.9,112.8 687.1,101.4 687.3,114.2 687.5,117.9 687.7,118.6 687.9,105.5 688.1,111.9 688.3,103.7 688.5,104.6 688.7,105.4 688.9,135.6 689.1,110.6 689.3,102.7 689.5,117.0 689.7,115.7 689.9,130.3 690.1,120.5 690.3,118.8 690.5,115.1 690.7,111.3 690.9,109.4 691.1,101.2 691.3,104.9 691.5,110.5 691.7,127.5 691.9,133.3 692.1,114.9 692.3,95.1 692.5,127.4 692.7,123.2 692.9,114.3 693.1,119.5 693.3,99.5 693.5,109.9 693.7,125.2 693.9,124.5 694.1,94.1 694.3,102.1 694.5,126.2 694.7,105.6 694.9,96.4 695.1,131.0 695.3,110.8 695.5,104.3 695.7,122.5 695.9,99.8 696.1,111.6 696.3,119.8 696.5,124.5 696.7,113.7 696.9,111.9 697.1,120.4 697.3,111.9 697.5,117.3 697.7,104.0 697.9,112.6 698.1,110.1 698.3,119.6 698.5,91.4 698.7,110.5 698.9,122.2 699.1,128.3 699.3,119.9 699.5,100.7 699.7,95.8 699.9,107.0 700.1,97.0 700.3,108.2 700.5,126.4 700.7,102.8 700.9,111.0 701.1,114.5 701.3,119.8 701.5,107.4 701.7,112.7 701.9,103.9 702.1,101.7 702.3,113.7 702.5,107.7 702.7,87.0 702.9,97.8 703.1,110.2 703.3,106.4 703.5,116.5 703.7,115.1 703.9,109.0 704.1,124.1 704.3,105.0 704.5,129.7 704.7,119.7 704.9,120.6 705.1,117.9 705.3,132.1 705.5,130.6 705.7,102.7 705.9,128.9" fill="none" stroke="#ec2424" stroke-width="1.3" stroke-linejoin="round" /><polyline points="451.0,111.4 451.2,116.8 451.4,115.0 451.6,141.7 451.8,115.8 451.9,127.6 452.1,130.9 452.3,119.5 452.5,130.8 452.7,132.9 452.9,102.4 453.1,127.9 453.3,120.1 453.5,133.2 453.7,119.2 453.9,116.5 454.0,115.0 454.2,123.4 454.4,130.8 454.6,119.0 454.8,126.0 455.0,135.7 455.2,114.7 455.4,143.1 455.6,114.2 455.8,104.3 455.9,119.6 456.1,123.4 456.3,125.5 456.5,115.0 456.7,127.4 456.9,137.9 457.1,137.2 457.3,123.9 457.5,106.9 457.6,147.1 457.8,137.5 458.0,123.9 458.2,139.7 458.4,141.9 458.6,127.0 458.8,113.0 459.0,127.8 459.2,112.3 459.4,120.5 459.6,141.5 459.7,123.8 459.9,109.8 460.1,125.4 460.3,122.5 460.5,111.8 460.7,124.6 460.9,150.9 461.1,135.9 461.3,129.9 461.4,131.4 461.6,148.3 461.8,101.5 462.0,135.2 462.2,119.4 462.4,130.9 462.6,121.4 462.8,117.4 463.0,93.8 463.2,126.8 463.4,130.9 463.5,112.6 463.7,100.1 463.9,119.6 464.1,92.9 464.3,112.3 464.5,127.9 464.7,131.8 464.9,131.4 465.1,128.9 465.2,122.4 465.4,129.0 465.6,135.3 465.8,134.8 466.0,127.6 466.2,126.9 466.4,130.3 466.6,108.2 466.8,121.4 467.0,104.1 467.1,115.1 467.3,93.1 467.5,118.9 467.7,132.2 467.9,128.6 468.1,134.0 468.3,129.3 468.5,126.1 468.7,94.6 468.9,116.4 469.1,123.9 469.2,115.9 469.4,138.8 469.6,117.7 469.8,146.2 470.0,138.2 470.2,121.5 470.4,103.9 470.6,108.8 470.8,115.7 470.9,125.8 471.1,157.7 471.3,111.6 471.5,145.8 471.7,127.4 471.9,120.6 472.1,126.5 472.3,128.2 472.5,130.8 472.7,123.2 472.9,115.1 473.0,133.1 473.2,125.1 473.4,128.6 473.6,109.4 473.8,115.7 474.0,112.1 474.2,124.9 474.4,126.1 474.6,122.7 474.8,127.6 474.9,122.8 475.1,142.0 475.3,114.0 475.5,134.8 475.7,115.9 475.9,116.0 476.1,107.3 476.3,145.2 476.5,112.2 476.6,117.4 476.8,110.0 477.0,120.4 477.2,109.8 477.4,149.0 477.6,127.2 477.8,154.3 478.0,140.2 478.2,102.6 478.4,132.1 478.6,137.2 478.7,134.7 478.9,123.0 479.1,133.9 479.3,142.3 479.5,125.6 479.7,141.1 479.9,141.3 480.1,150.4 480.3,122.8 480.4,129.7 480.6,119.4 480.8,112.9 481.0,109.8 481.2,118.4 481.4,137.8 481.6,116.7 481.8,123.5 482.0,124.5 482.2,113.7 482.4,124.2 482.5,107.6 482.7,115.7 482.9,118.5 483.1,125.3 483.3,109.1 483.5,124.2 483.7,102.3 483.9,97.3 484.1,121.4 484.2,137.8 484.4,144.1 484.6,135.8 484.8,126.4 485.0,148.3 485.2,127.0 485.4,114.5 485.6,136.6 485.8,115.2 486.0,109.2 486.1,131.4 486.3,138.2 486.5,119.0 486.7,113.3 486.9,125.2 487.1,132.3 487.3,111.1 487.5,119.3 487.7,131.2 487.9,129.3 488.1,148.1 488.2,135.9 488.4,90.2 488.6,141.1 488.8,114.2 489.0,130.0 489.2,104.4 489.4,132.6 489.6,102.3 489.8,134.7 489.9,145.4 490.1,120.8 490.3,133.2 490.5,126.4 490.7,122.6 490.9,112.1 491.1,123.1 491.3,128.6 491.5,106.8 491.7,149.6 491.9,108.0 492.0,121.1 492.2,120.3 492.4,120.9 492.6,118.6 492.8,150.2 493.0,121.1 493.2,120.9 493.4,131.7 493.6,116.5 493.8,103.4 493.9,142.1 494.1,122.3 494.3,138.8 494.5,138.8 494.7,148.4 494.9,133.4 495.1,126.7 495.3,101.4 495.5,135.8 495.6,112.0 495.8,141.4 496.0,117.5 496.2,111.2 496.4,124.6 496.6,122.3 496.8,126.2 497.0,136.3 497.2,143.6 497.4,126.5 497.6,107.0 497.7,101.5 497.9,94.5 498.1,112.7 498.3,108.7 498.5,122.8 498.7,132.3 498.9,112.1 499.1,108.1 499.3,134.9 499.4,119.9 499.6,149.7 499.8,111.3 500.0,115.9 500.2,155.0 500.4,99.6 500.6,101.2 500.8,125.7 501.0,112.4 501.2,121.0 501.4,139.5 501.5,120.4 501.7,124.2 501.9,134.3 502.1,111.6 502.3,102.7 502.5,127.5 502.7,123.8 502.9,132.5 503.1,115.4 503.2,119.1 503.4,121.5 503.6,128.1 503.8,135.3 504.0,127.7 504.2,92.5 504.4,118.4 504.6,115.1 504.8,113.3 505.0,115.7 505.1,128.9 505.3,91.2 505.5,129.0 505.7,133.6 505.9,133.2 506.1,114.9 506.3,103.3 506.5,106.1 506.7,117.2 506.9,149.5 507.1,112.9 507.2,123.4 507.4,139.7 507.6,117.8 507.8,123.2 508.0,95.0 508.2,104.8 508.4,121.4 508.6,126.0 508.8,113.6 508.9,120.1 509.1,119.4 509.3,102.8 509.5,114.0 509.7,143.5 509.9,111.2 510.1,107.0 510.3,110.0 510.5,127.0 510.7,134.9 510.9,132.4 511.0,149.4 511.2,115.6 511.4,127.9 511.6,124.9 511.8,120.8 512.0,143.1 512.2,116.9 512.4,125.8 512.6,108.0 512.8,130.8 512.9,122.7 513.1,109.9 513.3,111.5 513.5,107.2 513.7,90.9 513.9,120.4 514.1,78.7 514.3,116.4 514.5,136.9 514.6,128.0 514.8,128.0 515.0,123.5 515.2,111.7 515.4,132.2 515.6,148.3 515.8,142.8 516.0,131.9 516.2,110.9 516.4,113.3 516.5,117.0 516.7,129.4 516.9,122.2 517.1,119.8 517.3,131.5 517.5,133.1 517.7,111.2 517.9,111.7 518.1,129.8 518.3,130.4 518.5,116.2 518.6,128.0 518.8,103.0 519.0,111.0 519.2,126.7 519.4,109.5 519.6,128.2 519.8,85.1 520.0,75.8 520.2,113.3 520.4,128.5 520.5,124.7 520.7,108.4 520.9,96.2 521.1,127.0 521.3,110.5 521.5,126.1 521.7,151.1 521.9,101.3 522.1,125.5 522.2,109.7 522.4,112.3 522.6,103.7 522.8,116.5 523.0,142.5 523.2,140.5 523.4,116.5 523.6,115.6 523.8,110.3 524.0,117.1 524.1,114.7 524.3,124.4 524.5,106.3 524.7,134.1 524.9,120.8 525.1,121.8 525.3,120.0 525.5,103.1 525.7,133.4 525.9,121.2 526.0,140.2 526.2,124.6 526.4,135.1 526.6,130.8 526.8,121.9 527.0,126.1 527.2,119.8 527.4,101.3 527.6,110.1 527.8,128.9 528.0,111.1 528.1,104.8 528.3,111.1 528.5,123.7 528.7,100.6 528.9,113.4 529.1,117.4 529.3,117.4 529.5,106.0 529.7,88.2 529.9,98.4 530.0,92.0 530.2,105.3 530.4,112.6 530.6,140.7 530.8,132.0 531.0,118.9 531.2,107.5 531.4,115.6 531.6,114.2 531.8,122.4 531.9,102.7 532.1,102.6 532.3,116.6 532.5,113.0 532.7,126.9 532.9,109.5 533.1,133.1 533.3,136.2 533.5,106.8 533.6,126.2 533.8,139.1 534.0,121.3 534.2,133.9 534.4,118.8 534.6,122.6 534.8,117.2 535.0,116.1 535.2,141.3 535.4,113.4 535.5,99.7 535.7,114.8 535.9,129.5 536.1,112.2 536.3,135.0 536.5,134.9 536.7,101.4 536.9,97.1 537.1,90.0 537.3,112.6 537.5,147.0 537.6,131.5 537.8,118.5 538.0,125.4 538.2,128.4 538.4,142.4 538.6,134.4 538.8,121.9 539.0,112.4 539.2,102.6 539.4,124.0 539.5,146.3 539.7,126.9 539.9,128.4 540.1,115.8 540.3,116.9 540.5,103.4 540.7,108.8 540.9,145.5 541.1,125.6 541.2,137.2 541.4,117.3 541.6,135.7 541.8,129.2 542.0,107.2 542.2,93.2 542.4,98.5 542.6,124.4 542.8,132.0 543.0,117.4 543.1,117.8 543.3,134.5 543.5,120.3 543.7,110.1 543.9,112.1 544.1,136.5 544.3,97.4 544.5,84.6 544.7,115.8 544.9,110.5 545.0,139.1 545.2,128.7 545.4,149.3 545.6,129.5 545.8,116.4 546.0,116.9 546.2,130.1 546.4,122.3 546.6,119.1 546.8,121.6 547.0,118.7 547.1,132.0 547.3,109.5 547.5,118.1 547.7,120.3 547.9,134.9 548.1,97.5 548.3,88.9 548.5,80.7 548.7,92.0 548.9,119.7 549.0,94.8 549.2,124.9 549.4,120.6 549.6,115.7 549.8,120.6 550.0,142.4 550.2,119.5 550.4,112.6 550.6,112.9 550.8,125.6 550.9,112.1 551.1,118.8 551.3,117.2 551.5,131.0 551.7,120.8 551.9,133.2 552.1,134.6 552.3,124.6 552.5,114.9 552.6,117.9 552.8,142.6 553.0,139.9 553.2,108.3 553.4,126.6 553.6,113.3 553.8,148.7 554.0,101.5 554.2,96.8 554.4,86.6 554.5,94.6 554.7,107.3 554.9,108.6 555.1,111.8 555.3,133.5 555.5,108.1 555.7,126.8 555.9,101.3 556.1,119.0 556.3,131.0 556.5,118.0 556.6,134.7 556.8,125.3 557.0,146.5 557.2,128.4 557.4,116.1 557.6,116.5 557.8,133.3 558.0,148.3 558.2,134.0 558.4,107.0 558.5,116.2 558.7,103.9 558.9,111.4 559.1,127.6 559.3,98.6 559.5,115.2 559.7,152.9 559.9,122.4 560.1,126.6 560.2,119.6 560.4,124.6 560.6,157.7 560.8,108.9 561.0,119.7 561.2,114.4 561.4,147.9 561.6,90.0 561.8,119.6 562.0,157.6 562.1,142.6 562.3,131.1 562.5,124.4 562.7,109.4 562.9,135.6 563.1,136.5 563.3,134.4 563.5,136.5 563.7,118.4 563.9,124.9 564.0,106.2 564.2,116.6 564.4,119.6 564.6,96.3 564.8,108.3 565.0,96.0 565.2,107.4 565.4,108.0 565.6,128.7 565.8,114.5 566.0,138.0 566.1,121.7 566.3,121.5 566.5,126.9 566.7,142.0 566.9,124.4 567.1,128.2 567.3,124.1 567.5,111.5 567.7,139.2 567.9,118.8 568.0,138.0 568.2,134.1 568.4,121.3 568.6,146.9 568.8,119.5 569.0,101.4 569.2,126.2 569.4,124.2 569.6,125.1 569.8,116.1 569.9,123.9 570.1,126.0 570.3,130.5 570.5,135.5 570.7,133.9 570.9,119.9 571.1,121.4 571.3,147.2 571.5,130.2 571.6,139.7 571.8,100.0 572.0,102.6 572.2,138.8 572.4,127.2 572.6,104.7 572.8,138.9 573.0,122.3 573.2,143.2 573.4,128.6 573.5,136.5 573.7,132.0 573.9,120.6 574.1,117.3 574.3,151.1 574.5,120.3 574.7,118.2 574.9,126.2 575.1,98.0 575.3,108.6 575.5,146.7 575.6,111.2 575.8,88.5 576.0,113.5 576.2,106.3 576.4,106.9 576.6,136.1 576.8,117.7 577.0,122.4 577.2,109.4 577.4,122.8 577.5,118.1 577.7,121.3 577.9,155.9 578.1,128.6 578.3,114.0 578.5,130.5 578.7,132.4 578.9,136.0 579.1,129.0 579.2,117.8 579.4,106.7 579.6,121.9 579.8,123.6 580.0,105.2 580.2,122.5 580.4,130.3 580.6,121.0 580.8,116.6 581.0,124.0 581.1,119.2 581.3,127.2 581.5,135.3 581.7,131.8 581.9,106.7 582.1,121.1 582.3,99.7 582.5,120.9 582.7,117.4 582.9,124.9 583.0,115.0 583.2,123.4 583.4,124.6 583.6,147.7 583.8,126.2 584.0,117.4 584.2,125.2 584.4,145.5 584.6,128.7 584.8,98.1 585.0,104.1 585.1,127.5 585.3,100.3 585.5,109.0 585.7,97.6 585.9,91.5 586.1,96.1 586.3,98.0 586.5,115.1 586.7,129.1 586.9,135.2 587.0,115.9 587.2,126.4 587.4,107.0 587.6,114.7 587.8,109.8 588.0,130.6 588.2,138.4 588.4,125.5 588.6,125.1 588.8,132.0 588.9,148.1 589.1,122.5 589.3,109.9 589.5,114.1 589.7,91.1 589.9,112.8 590.1,94.0 590.3,105.7 590.5,117.5 590.6,108.7 590.8,113.1 591.0,93.4 591.2,131.0 591.4,123.4 591.6,114.9 591.8,141.5 592.0,124.9 592.2,100.9 592.4,128.0 592.5,116.8 592.7,100.6 592.9,136.3 593.1,121.1 593.3,114.2 593.5,141.7 593.7,117.7 593.9,128.6 594.1,111.2 594.3,94.5 594.5,100.2 594.6,134.0 594.8,110.1 595.0,154.1 595.2,89.5 595.4,130.4 595.6,88.8 595.8,83.2 596.0,118.4 596.2,106.4 596.4,129.7 596.5,135.5 596.7,136.8 596.9,137.0 597.1,127.1 597.3,117.9 597.5,131.3 597.7,113.4 597.9,114.7 598.1,95.9 598.2,128.8 598.4,131.0 598.6,120.4 598.8,108.4 599.0,137.0 599.2,131.7 599.4,146.3 599.6,128.4 599.8,139.3 600.0,123.6 600.1,124.8 600.3,125.5 600.5,125.1 600.7,120.6 600.9,134.8 601.1,144.1 601.3,125.6 601.5,145.1 601.7,135.2 601.9,129.3 602.0,142.1 602.2,124.4 602.4,105.3 602.6,140.8 602.8,124.7 603.0,125.0 603.2,141.4 603.4,123.5 603.6,149.3 603.8,114.7 604.0,136.5 604.1,144.6 604.3,149.8 604.5,141.4 604.7,132.8 604.9,129.9 605.1,130.9 605.3,147.1 605.5,138.9 605.7,144.1 605.9,153.5 606.0,123.2 606.2,131.2 606.4,142.4 606.6,138.5 606.8,142.1 607.0,141.9 607.2,121.8 607.4,146.1 607.6,136.5 607.8,130.4 607.9,148.8 608.1,135.5 608.3,154.6 608.5,153.5 608.7,151.8 608.9,146.3 609.1,151.4 609.3,147.2 609.5,157.6 609.6,151.7 609.8,156.6 610.0,157.3 610.2,151.9 610.4,140.2 610.6,158.4 610.8,157.8 611.0,145.4 611.2,128.5 611.4,136.3 611.5,143.9 611.7,157.4 611.9,137.3 612.1,155.9 612.3,146.9 612.5,150.2 612.7,134.9 612.9,146.8 613.1,148.5 613.3,140.9 613.5,149.3 613.6,139.1 613.8,141.5 614.0,145.0 614.2,148.1 614.4,157.1 614.6,157.9 614.8,136.3 615.0,123.6 615.2,150.4 615.4,140.8 615.5,137.5 615.7,151.5 615.9,151.6 616.1,139.4 616.3,158.0 616.5,143.2 616.7,139.7 616.9,155.0 617.1,124.8 617.2,173.3 617.4,157.7 617.6,151.3 617.8,161.1 618.0,155.4 618.2,151.7 618.4,153.0 618.6,137.1 618.8,154.6 619.0,149.5 619.1,138.3 619.3,146.1 619.5,157.4 619.7,153.7 619.9,144.4 620.1,168.5 620.3,150.1 620.5,143.6 620.7,149.3 620.9,161.9 621.0,163.9 621.2,148.7 621.4,145.3 621.6,145.8 621.8,142.9 622.0,136.5 622.2,153.2 622.4,170.1 622.6,155.9 622.8,146.1 623.0,153.5 623.1,149.7 623.3,144.4 623.5,162.4 623.7,152.1 623.9,128.7 624.1,152.8 624.3,150.6 624.5,142.7 624.7,161.5 624.9,152.6 625.0,141.0 625.2,150.5 625.4,154.7 625.6,145.8 625.8,146.7 626.0,146.1 626.2,169.8 626.4,138.3 626.6,142.9 626.8,143.4 626.9,145.8 627.1,128.7 627.3,149.9 627.5,146.5 627.7,143.9 627.9,149.1 628.1,126.7 628.3,142.5 628.5,154.0 628.6,143.8 628.8,141.3 629.0,146.6 629.2,157.0 629.4,163.1 629.6,149.8 629.8,140.6 630.0,136.3 630.2,156.5 630.4,147.9 630.5,138.8 630.7,152.6 630.9,152.3 631.1,158.1 631.3,165.2 631.5,135.6 631.7,149.8 631.9,143.4 632.1,156.4 632.3,161.2 632.5,172.8 632.6,145.5 632.8,146.4 633.0,145.7 633.2,137.1 633.4,137.1 633.6,138.8 633.8,134.3 634.0,137.2 634.2,159.3 634.4,147.8 634.5,144.1 634.7,142.2 634.9,141.9 635.1,154.6 635.3,144.3 635.5,142.5 635.7,138.6 635.9,164.7 636.1,154.2 636.2,136.0 636.4,155.0 636.6,141.9 636.8,145.2 637.0,144.1 637.2,148.0 637.4,153.9 637.6,156.4 637.8,129.1 638.0,146.8 638.1,158.8 638.3,153.9 638.5,153.5 638.7,136.8 638.9,134.4 639.1,156.3 639.3,153.7 639.5,150.4 639.7,143.1 639.9,156.5 640.0,143.7 640.2,143.6 640.4,151.1 640.6,147.4 640.8,159.8 641.0,147.2 641.2,165.3 641.4,163.5 641.6,152.6 641.8,152.7 642.0,141.8 642.1,151.7 642.3,154.5 642.5,165.1 642.7,157.9 642.9,148.6 643.1,148.9 643.3,137.4 643.5,153.7 643.7,148.8 643.9,152.2 644.0,141.9 644.2,154.2 644.4,158.9 644.6,148.3 644.8,167.1 645.0,140.7 645.2,145.4 645.4,147.6 645.6,151.3 645.8,145.9 645.9,145.7 646.1,148.3 646.3,158.1 646.5,155.3 646.7,166.5 646.9,174.8 647.1,131.5 647.3,140.1 647.5,165.5 647.6,145.4 647.8,143.1 648.0,141.1 648.2,152.3 648.4,135.5 648.6,156.3 648.8,159.7 649.0,139.7 649.2,155.8 649.4,146.3 649.5,135.3 649.7,134.2 649.9,142.4 650.1,151.6 650.3,145.9 650.5,151.5 650.7,152.1 650.9,162.8 651.1,170.4 651.3,145.8 651.5,159.4 651.6,137.4 651.8,152.3 652.0,146.5 652.2,166.2 652.4,140.4 652.6,166.0 652.8,149.8 653.0,149.2 653.2,145.5 653.4,148.3 653.5,152.3 653.7,147.1 653.9,147.8 654.1,166.1 654.3,137.4 654.5,141.8 654.7,139.5 654.9,155.7 655.1,152.7 655.2,159.9 655.4,148.9 655.6,164.1 655.8,153.7 656.0,152.8 656.2,153.4 656.4,160.9 656.6,148.8 656.8,149.1 657.0,167.9 657.1,148.0 657.3,145.3 657.5,153.4 657.7,161.7 657.9,125.7 658.1,156.6 658.3,164.2 658.5,158.9 658.7,128.5 658.9,150.7 659.0,154.2 659.2,153.0 659.4,155.5 659.6,166.7 659.8,136.8 660.0,144.4 660.2,150.2 660.4,145.0 660.6,155.2 660.8,140.1 661.0,136.9 661.1,151.1 661.3,139.0 661.5,138.8 661.7,152.3 661.9,142.0 662.1,157.2 662.3,143.2 662.5,135.2 662.7,143.5 662.9,160.5 663.0,151.1 663.2,151.6 663.4,142.3 663.6,155.3 663.8,153.2 664.0,150.1 664.2,128.4 664.4,159.8 664.6,150.5 664.8,147.2 664.9,145.4 665.1,157.8 665.3,147.2 665.5,154.2 665.7,133.4 665.9,139.2 666.1,144.7 666.3,153.3 666.5,150.5 666.6,150.2 666.8,149.9 667.0,142.1 667.2,146.4 667.4,132.1 667.6,154.7 667.8,152.3 668.0,142.5 668.2,164.5 668.4,148.5 668.5,140.8 668.7,140.4 668.9,151.9 669.1,132.0 669.3,152.2 669.5,147.8 669.7,166.9 669.9,160.7 670.1,142.7 670.3,171.5 670.5,143.2 670.6,163.5 670.8,174.6 671.0,154.5 671.2,165.9 671.4,155.1 671.6,154.8 671.8,131.5 672.0,155.7 672.2,146.2 672.4,143.0 672.5,164.8 672.7,137.2 672.9,145.8 673.1,148.8 673.3,147.2 673.5,157.0 673.7,128.5 673.9,160.5 674.1,133.9 674.2,138.7 674.4,155.6 674.6,152.1 674.8,147.9 675.0,140.0 675.2,149.4 675.4,152.4 675.6,158.6 675.8,152.1 676.0,139.4 676.1,146.1 676.3,141.4 676.5,145.6 676.7,163.6 676.9,150.4 677.1,143.0 677.3,158.7 677.5,143.2 677.7,154.3 677.9,156.7 678.0,151.5 678.2,147.4 678.4,153.5 678.6,159.9 678.8,150.9 679.0,168.9 679.2,151.3 679.4,142.0 679.6,157.0 679.8,146.6 680.0,148.4 680.1,162.7 680.3,159.1 680.5,138.0 680.7,144.8 680.9,139.6 681.1,162.4 681.3,131.3 681.5,148.4 681.7,159.5 681.9,130.8 682.0,146.5 682.2,134.1 682.4,136.9 682.6,151.6 682.8,138.1 683.0,143.0 683.2,156.9 683.4,131.0 683.6,164.3 683.8,154.0 683.9,138.7 684.1,139.8 684.3,151.3 684.5,146.9 684.7,139.2 684.9,150.1 685.1,154.3 685.3,146.7 685.5,143.5 685.6,146.5 685.8,148.9 686.0,137.1 686.2,147.8 686.4,140.2 686.6,149.5 686.8,147.8 687.0,151.1 687.2,164.5 687.4,161.0 687.5,136.7 687.7,147.9 687.9,152.6 688.1,144.5 688.3,133.0 688.5,170.0 688.7,157.1 688.9,146.0 689.1,148.1 689.3,139.6 689.5,149.7 689.6,164.9 689.8,161.1 690.0,153.2 690.2,146.4 690.4,141.0 690.6,151.1 690.8,146.2 691.0,144.2 691.2,143.3 691.4,157.3 691.5,138.0 691.7,150.2 691.9,129.0 692.1,135.0 692.3,168.1 692.5,139.4 692.7,151.8 692.9,142.1 693.1,148.8 693.2,159.4 693.4,140.0 693.6,137.7 693.8,130.3 694.0,173.3 694.2,147.6 694.4,150.2 694.6,154.1 694.8,152.0 695.0,146.0 695.1,129.4 695.3,155.4 695.5,150.2 695.7,149.1 695.9,165.8 696.1,154.5 696.3,143.6 696.5,169.1 696.7,163.9 696.9,163.8 697.0,145.5 697.2,132.0 697.4,151.1 697.6,149.5 697.8,136.4 698.0,146.6 698.2,160.3 698.4,143.6 698.6,140.7 698.8,144.6 699.0,143.9 699.1,155.0 699.3,147.0 699.5,152.0 699.7,173.2 699.9,169.8 700.1,141.2 700.3,158.7 700.5,131.9 700.7,153.7 700.9,136.5 701.0,162.6 701.2,155.4 701.4,157.9 701.6,131.8 701.8,151.5 702.0,149.1 702.2,146.7 702.4,136.6 702.6,172.1 702.8,129.2 702.9,133.9 703.1,153.0 703.3,140.3 703.5,134.8 703.7,138.5 703.9,158.6 704.1,167.6 704.3,156.9 704.5,145.1 704.6,130.3 704.8,141.5 705.0,149.6 705.2,133.6 705.4,152.6 705.6,143.4 705.8,146.6 706.0,158.1" fill="none" stroke="#68be42" stroke-width="1.3" stroke-linejoin="round" /><polyline points="449.5,137.3 449.8,163.6 450.1,153.2 450.4,163.8 450.7,151.4 451.0,164.9 451.3,139.5 451.6,162.0 451.9,153.2 452.2,164.4 452.5,135.0 452.8,171.9 453.1,150.5 453.4,162.3 453.7,132.8 454.0,156.0 454.3,130.7 454.6,165.2 454.9,129.3 455.2,159.0 455.5,148.2 455.8,164.7 456.1,121.2 456.4,163.7 456.7,116.2 457.0,156.4 457.3,143.1 457.6,154.7 457.9,142.5 458.2,163.3 458.5,143.0 458.8,165.8 459.1,147.3 459.4,169.3 459.7,138.7 460.0,165.3 460.3,151.6 460.6,164.1 460.9,141.7 461.2,164.3 461.5,149.5 461.8,162.2 462.1,140.8 462.4,158.6 462.7,151.8 463.0,160.9 463.3,145.9 463.6,163.9 463.9,146.5 464.2,164.4 464.5,151.0 464.8,159.5 465.1,148.7 465.4,165.0 465.7,126.5 466.0,168.6 466.3,145.3 466.6,158.1 466.9,139.3 467.2,168.1 467.5,140.0 467.8,155.6 468.1,124.5 468.4,164.9 468.7,139.5 469.0,156.3 469.3,135.8 469.6,153.5 469.9,109.1 470.2,169.1 470.5,151.8 470.8,159.5 471.1,158.2 471.4,160.5 471.7,148.5 472.0,165.0 472.3,149.8 472.6,158.0 472.9,148.8 473.2,166.6 473.5,146.7 473.8,160.2 474.1,141.4 474.4,168.1 474.7,150.0 475.0,166.0 475.3,142.5 475.6,169.4 475.9,142.1 476.2,156.4 476.5,143.5 476.8,166.1 477.1,152.4 477.4,161.2 477.7,139.3 478.0,167.1 478.3,140.6 478.6,168.6 478.9,143.2 479.2,158.3 479.5,135.7 479.8,170.0 480.1,130.1 480.4,166.9 480.7,142.6 481.0,157.1 481.3,140.3 481.6,165.0 481.9,145.2 482.2,161.2 482.5,146.8 482.8,160.3 483.1,136.4 483.4,170.4 483.7,130.1 484.0,168.3 484.3,152.6 484.6,163.0 484.9,160.0 485.2,165.2 485.5,154.9 485.8,161.5 486.1,145.8 486.4,163.9 486.7,158.3 487.0,162.5 487.3,147.3 487.6,166.8 487.9,145.8 488.2,160.0 488.5,147.6 488.8,164.0 489.1,148.2 489.4,162.3 489.7,147.7 490.0,162.6 490.3,152.0 490.6,168.7 490.9,143.0 491.2,169.9 491.5,140.9 491.8,159.5 492.1,141.6 492.4,161.5 492.7,150.0 493.0,166.6 493.3,148.2 493.6,157.8 493.9,135.1 494.2,161.1 494.5,146.5 494.8,173.6 495.1,136.0 495.4,153.4 495.7,124.9 496.0,166.3 496.3,135.8 496.6,153.5 496.9,138.1 497.2,160.9 497.5,150.3 497.8,167.4 498.1,145.8 498.4,160.0 498.7,147.6 499.0,168.8 499.3,146.8 499.6,163.9 499.9,158.5 500.2,169.2 500.5,154.8 500.8,157.0 501.1,147.3 501.4,166.3 501.7,155.1 502.0,165.7 502.3,146.2 502.6,159.1 502.9,152.1 503.2,162.3 503.5,155.1 503.8,166.9 504.1,137.9 504.4,167.4 504.7,145.2 505.0,161.3 505.3,146.3 505.6,159.7 505.9,149.5 506.2,160.8 506.5,147.3 506.8,162.0 507.1,145.6 507.4,166.5 507.7,134.6 508.0,157.2 508.3,138.6 508.6,154.4 508.9,146.5 509.2,171.7 509.5,131.2 509.8,168.4 510.1,145.1 510.4,167.3 510.7,120.5 511.0,155.7 511.3,134.7 511.6,147.9 511.9,130.0 512.2,160.7 512.5,117.1 512.8,147.8 513.1,124.5 513.4,150.3 513.7,112.7 514.0,162.6 514.3,129.8 514.6,160.2 514.9,123.5 515.2,139.7 515.5,122.0 515.8,154.4 516.1,153.0 516.4,166.1 516.7,151.0 517.0,164.0 517.3,154.4 517.6,161.2 517.9,143.4 518.2,157.6 518.5,149.0 518.8,158.0 519.1,143.5 519.4,162.4 519.7,145.2 520.0,164.7 520.3,147.8 520.6,151.9 520.9,144.4 521.2,163.9 521.5,152.5 521.8,157.1 522.1,141.5 522.4,161.6 522.7,139.0 523.0,162.4 523.3,136.6 523.6,161.4 523.9,138.6 524.2,153.4 524.5,137.8 524.8,163.9 525.1,126.8 525.4,147.8 525.7,120.2 526.0,157.8 526.3,116.5 526.6,173.0 526.9,115.3 527.2,168.0 527.5,99.9 527.8,152.9 528.1,155.3 528.4,163.0 528.7,158.2 529.0,162.8 529.3,144.3 529.6,165.0 529.9,149.6 530.2,160.5 530.5,145.1 530.8,156.8 531.1,154.9 531.4,162.3 531.7,144.6 532.0,170.6 532.3,146.2 532.6,160.9 532.9,145.4 533.2,166.7 533.5,158.2 533.8,166.1 534.1,148.8 534.4,163.9 534.7,147.6 535.0,165.3 535.3,145.0 535.6,161.7 535.9,149.4 536.2,162.2 536.5,136.1 536.8,161.8 537.1,139.1 537.4,164.3 537.7,139.2 538.0,171.5 538.3,138.9 538.6,157.2 538.9,145.4 539.2,167.8 539.5,139.5 539.8,165.4 540.1,142.9 540.4,169.4 540.7,143.2 541.0,162.4 541.3,147.0 541.6,156.3 541.9,128.1 542.2,164.0 542.5,147.7 542.8,166.3 543.1,137.1 543.4,168.6 543.7,140.6 544.0,162.2 544.3,135.6 544.6,164.4 544.9,123.9 545.2,173.8 545.5,155.3 545.8,170.9 546.1,151.3 546.4,171.2 546.7,154.3 547.0,173.3 547.3,143.6 547.6,166.2 547.9,150.3 548.2,168.1 548.5,149.4 548.8,172.2 549.1,150.7 549.4,172.9 549.7,151.9 550.0,168.3 550.3,144.0 550.6,168.3 550.9,146.4 551.2,169.8 551.5,140.1 551.8,163.4 552.1,150.1 552.4,170.3 552.7,146.9 553.0,170.4 553.3,139.9 553.6,171.3 553.9,138.3 554.2,163.3 554.5,128.2 554.8,168.2 555.1,143.4 555.4,164.2 555.7,133.6 556.0,169.7 556.3,131.9 556.6,169.1 556.9,128.3 557.2,171.9 557.5,125.3 557.8,163.9 558.1,139.6 558.4,163.8 558.7,143.1 559.0,166.9 559.3,127.6 559.6,163.6 559.9,144.4 560.2,167.2 560.5,155.2 560.8,166.3 561.1,153.9 561.4,169.1 561.7,147.0 562.0,173.0 562.3,144.4 562.6,163.9 562.9,149.0 563.2,174.6 563.5,159.1 563.8,159.2 564.1,149.6 564.4,168.7 564.7,154.2 565.0,168.3 565.3,150.7 565.6,169.2 565.9,150.2 566.2,173.6 566.5,147.2 566.8,171.8 567.1,152.7 567.4,167.2 567.7,145.1 568.0,167.4 568.3,142.7 568.6,166.5 568.9,140.6 569.2,168.1 569.5,156.2 569.8,162.8 570.1,142.1 570.4,172.9 570.7,147.8 571.0,170.0 571.3,141.6 571.6,172.7 571.9,139.7 572.2,167.7 572.5,132.2 572.8,174.6 573.1,155.1 573.4,173.8 573.7,149.6 574.0,162.8 574.3,152.9 574.6,166.0 574.9,156.2 575.2,165.2 575.5,154.5 575.8,173.2 576.1,149.6 576.4,170.6 576.7,147.4 577.0,169.6 577.3,155.4 577.6,175.5 577.9,158.6 578.2,167.2 578.5,144.6 578.8,169.4 579.1,145.9 579.4,171.7 579.7,138.2 580.0,176.9 580.3,149.0 580.6,170.1 580.9,150.9 581.2,163.0 581.5,151.4 581.8,164.3 582.1,150.7 582.4,167.2 582.7,150.0 583.0,160.1 583.3,142.5 583.6,166.9 583.9,142.7 584.2,162.7 584.5,137.4 584.8,169.7 585.1,157.8 585.4,167.9 585.7,157.0 586.0,168.3 586.3,139.7 586.6,168.9 586.9,155.9 587.2,174.3 587.5,141.6 587.8,171.1 588.1,147.8 588.4,170.5 588.7,144.5 589.0,173.0 589.3,149.4 589.6,166.5 589.9,149.0 590.2,171.0 590.5,148.7 590.8,166.4 591.1,153.1 591.4,163.1 591.7,141.3 592.0,167.6 592.3,141.4 592.6,162.1 592.9,157.7 593.2,166.4 593.5,140.3 593.8,174.0 594.1,135.0 594.4,158.6 594.7,148.5 595.0,163.9 595.3,150.3 595.6,175.6 595.9,147.6 596.2,173.8 596.5,151.3 596.8,163.6 597.1,132.7 597.4,158.9 597.7,145.8 598.0,166.5 598.1,155.1 598.2,157.8 598.3,154.6 598.5,146.5 598.6,166.9 598.7,161.0 598.8,153.0 598.9,151.5 599.1,151.0 599.2,152.7 599.3,145.9 599.4,140.3 599.5,142.4 599.7,142.0 599.8,150.3 599.9,152.8 600.0,153.9 600.1,139.3 600.3,151.7 600.4,146.0 600.5,142.1 600.6,138.7 600.7,146.6 600.9,151.7 601.0,139.3 601.1,145.0 601.2,149.1 601.3,149.7 601.5,142.3 601.6,144.4 601.7,142.4 601.8,132.6 601.9,139.8 602.1,141.6 602.2,147.2 602.3,134.8 602.4,146.9 602.5,148.6 602.7,140.6 602.8,132.5 602.9,136.7 603.0,132.7 603.1,142.7 603.3,144.9 603.4,140.7 603.5,133.6 603.6,138.0 603.7,137.3 603.9,133.6 604.0,133.8 604.1,128.6 604.2,132.2 604.3,135.1 604.5,125.6 604.6,124.5 604.7,128.1 604.8,133.9 604.9,125.4 605.1,126.1 605.2,120.0 605.3,112.2 605.4,126.9 605.5,111.4 605.7,122.9 605.8,126.1 605.9,113.9 606.0,115.1 606.1,114.0 606.3,113.2 606.4,118.4 606.5,121.6 606.6,118.3 606.7,117.0 606.9,113.1 607.0,113.4 607.1,124.5 607.2,102.9 607.3,121.9 607.5,124.1 607.6,110.9 607.7,110.2 607.8,105.9 607.9,113.0 608.1,107.9 608.2,110.0 608.3,107.4 608.4,107.8 608.5,99.7 608.7,107.5 608.8,106.2 608.9,117.1 609.0,108.5 609.1,98.3 609.3,103.8 609.4,96.3 609.5,100.9 609.6,90.1 609.7,93.8 609.9,106.3 610.0,96.0 610.1,100.2 610.2,94.1 610.3,97.1 610.5,94.1 610.6,89.9 610.7,82.9 610.8,92.7 610.9,81.5 611.1,83.7 611.2,88.8 611.3,80.7 611.4,88.0 611.5,79.0 611.7,93.6 611.8,82.4 611.9,81.5 612.0,78.5 612.1,70.6 612.3,80.1 612.4,81.0 612.5,84.8 612.6,75.7 612.7,79.7 612.9,77.1 613.0,70.3 613.1,81.4 613.2,77.2 613.3,72.5 613.5,72.3 613.6,73.0 613.7,69.5 613.8,81.3 613.9,79.7 614.1,76.2 614.2,72.9 614.3,67.1 614.4,67.2 614.5,68.3 614.7,72.8 614.8,66.5 614.9,84.1 615.0,92.7 615.1,88.2 615.3,99.5 615.4,92.6 615.5,110.6 615.6,93.5 615.7,115.1 615.9,117.2 616.0,120.5 616.1,132.9 616.2,129.5 616.3,127.2 616.5,120.0 616.6,136.6 616.7,137.3 616.8,133.9 616.9,156.1 617.1,139.4 617.2,165.4 617.3,163.8 617.4,155.5 617.5,168.9 617.7,160.1 617.8,154.3 617.9,154.8 618.1,162.5 618.4,167.8 618.7,158.0 619.0,164.9 619.3,142.0 619.6,173.6 619.9,151.9 620.2,177.1 620.5,159.3 620.8,167.4 621.1,148.3 621.4,169.7 621.7,157.5 622.0,166.6 622.3,148.7 622.6,165.9 622.9,154.3 623.2,165.7 623.5,152.1 623.8,163.2 624.1,141.9 624.4,169.4 624.7,141.9 625.0,172.8 625.3,151.1 625.6,175.9 625.9,161.0 626.2,168.9 626.5,152.6 626.8,172.4 627.1,150.1 627.4,165.9 627.7,149.8 628.0,171.7 628.3,153.9 628.6,175.4 628.9,145.2 629.2,170.4 629.5,155.7 629.8,168.9 630.1,147.6 630.4,169.9 630.7,151.6 631.0,164.9 631.3,143.2 631.6,170.9 631.9,153.4 632.2,172.2 632.5,159.5 632.8,169.9 633.1,149.6 633.4,167.4 633.7,146.8 634.0,168.5 634.3,150.8 634.6,170.4 634.9,146.5 635.2,172.2 635.5,158.9 635.8,165.0 636.1,149.3 636.4,169.8 636.7,151.6 637.0,174.5 637.3,148.6 637.6,171.6 637.9,156.4 638.2,169.4 638.5,155.7 638.8,169.4 639.1,142.9 639.4,159.6 639.7,138.9 640.0,163.6 640.1,154.5 640.2,157.1 640.3,159.0 640.4,147.5 640.5,153.5 640.6,174.1 640.7,135.1 640.8,157.7 640.9,149.7 641.0,165.5 641.1,153.5 641.2,159.5 641.3,155.3 641.4,167.1 641.5,150.1 641.6,152.7 641.7,141.9 641.8,170.6 641.9,155.2 642.0,148.5 642.1,164.6 642.2,143.4 642.3,149.5 642.4,134.8 642.5,148.4 642.6,154.8 642.7,144.3 642.8,153.3 642.9,146.6 643.0,146.2 643.1,154.9 643.2,156.3 643.3,151.0 643.4,167.4 643.5,148.3 643.6,151.0 643.7,139.6 643.8,152.0 643.9,148.5 644.0,146.9 644.1,139.7 644.2,151.5 644.3,149.0 644.4,141.1 644.5,142.3 644.6,137.1 644.7,149.5 644.8,142.6 644.9,135.2 645.0,147.4 645.1,141.3 645.2,141.2 645.3,138.0 645.4,148.0 645.5,135.5 645.6,145.6 645.7,150.6 645.8,141.5 645.9,135.9 646.0,151.0 646.1,125.7 646.2,129.6 646.3,146.5 646.4,134.7 646.5,127.2 646.6,131.0 646.7,139.1 646.8,139.7 646.9,123.3 647.0,136.5 647.1,132.7 647.2,123.4 647.3,128.2 647.4,132.7 647.5,133.4 647.6,141.1 647.7,123.7 647.8,129.4 647.9,124.4 648.0,118.3 648.1,134.4 648.2,138.4 648.3,134.9 648.4,126.4 648.5,120.6 648.6,136.9 648.7,124.4 648.8,130.2 648.9,123.4 649.0,121.2 649.1,128.7 649.2,113.7 649.3,124.9 649.4,139.4 649.5,123.2 649.6,134.8 649.7,108.3 649.8,121.6 649.9,111.3 650.0,127.9 650.1,125.3 650.2,117.7 650.3,120.7 650.4,125.3 650.5,115.6 650.6,119.0 650.7,121.2 650.8,111.8 650.9,115.9 651.0,126.0 651.1,113.2 651.2,112.2 651.3,116.9 651.4,124.6 651.5,117.3 651.6,107.6 651.7,108.0 651.8,105.7 651.9,111.8 652.0,113.5 652.1,109.8 652.2,112.0 652.3,122.0 652.4,107.1 652.5,114.6 652.6,103.3 652.7,110.3 652.8,107.6 652.9,103.9 653.0,96.4 653.1,102.2 653.2,99.3 653.3,113.9 653.4,98.6 653.5,111.2 653.6,108.0 653.7,106.3 653.8,93.7 653.9,98.3 654.0,99.4 654.1,101.1 654.2,87.1 654.3,96.4 654.4,98.5 654.5,103.1 654.6,94.6 654.7,94.2 654.8,99.1 654.9,98.1 655.0,86.2 655.1,85.5 655.2,95.8 655.3,85.0 655.4,102.3 655.5,83.2 655.6,90.9 655.7,97.4 655.8,105.9 655.9,86.9 656.0,82.8 656.1,80.8 656.2,85.7 656.3,89.0 656.4,83.6 656.5,89.4 656.6,77.9 656.7,76.6 656.8,73.0 656.9,71.6 657.0,86.0 657.1,80.8 657.2,85.2 657.3,83.1 657.4,85.0 657.5,74.1 657.6,78.5 657.7,72.5 657.8,68.5 657.9,84.4 658.0,71.4 658.1,83.9 658.2,65.0 658.3,66.5 658.4,77.5 658.5,71.8 658.6,76.3 658.7,68.6 658.8,64.0 658.9,84.9 659.0,58.5 659.1,60.9 659.2,56.5 659.3,65.8 659.4,60.1 659.5,66.8 659.6,61.5 659.7,66.5 659.8,59.4 659.9,56.1 660.0,62.9 660.1,60.7 660.2,65.2 660.3,51.5 660.4,45.4 660.5,39.6 660.6,49.5 660.7,53.2 660.8,52.0 660.9,43.4 661.0,44.0 661.1,39.9 661.2,41.9 661.3,40.1 661.4,40.4 661.5,54.3 661.6,65.2 661.7,72.7 661.8,96.2 661.9,93.9 662.0,121.9 662.1,136.8 662.2,161.7 662.3,169.3 662.4,160.1 662.5,156.4 662.6,146.2 662.7,142.3 662.8,164.5 662.9,148.3 663.0,148.8 663.1,161.1 663.2,163.4 663.3,145.9 663.4,160.3 663.5,147.8 663.6,151.1 663.7,139.3 663.8,140.8 663.9,150.7 664.0,153.5 664.1,142.4 664.2,151.6 664.3,145.5 664.4,150.4 664.5,136.4 664.6,128.7 664.7,143.5 664.8,141.5 664.9,136.4 665.0,136.4 665.1,127.7 665.2,152.7 665.3,138.5 665.4,126.6 665.5,141.4 665.6,141.1 665.7,135.5 665.8,133.1 665.9,137.7 666.0,127.2 666.1,123.4 666.2,123.9 666.3,120.3 666.4,134.0 666.5,132.8 666.6,120.2 666.7,134.4 666.8,126.1 666.9,111.2 667.0,131.2 667.1,120.1 667.2,124.0 667.3,113.0 667.4,114.4 667.5,121.5 667.6,128.8 667.7,112.2 667.8,121.4 667.9,121.1 668.0,116.2 668.1,107.8 668.2,122.1 668.3,128.0 668.4,116.5 668.5,112.1 668.6,119.9 668.7,121.7 668.8,111.2 668.9,110.7 669.0,116.0 669.1,109.6 669.2,118.6 669.3,98.2 669.4,116.9 669.5,115.9 669.6,96.2 669.7,104.2 669.8,101.8 669.9,109.2 670.0,107.6 670.1,117.3 670.2,99.5 670.3,116.5 670.4,116.2 670.5,106.0 670.6,112.3 670.7,103.3 670.8,106.5 670.9,99.2 671.0,95.1 671.1,96.3 671.2,109.6 671.3,103.0 671.4,87.0 671.5,97.6 671.6,100.1 671.7,96.8 671.8,96.7 671.9,105.7 672.0,95.4 672.1,93.7 672.2,88.6 672.3,96.4 672.4,98.4 672.5,81.3 672.6,91.1 672.7,99.7 672.8,82.8 672.9,96.6 673.0,86.8 673.1,85.4 673.2,80.6 673.3,87.3 673.4,78.1 673.5,86.8 673.6,82.0 673.7,78.0 673.8,71.9 673.9,81.0 674.0,80.1 674.1,77.6 674.2,83.6 674.3,83.6 674.4,85.0 674.5,76.9 674.6,89.3 674.7,66.7 674.8,75.0 674.9,70.7 675.0,75.3 675.1,67.9 675.2,81.1 675.3,71.6 675.4,67.1 675.5,65.6 675.6,69.2 675.7,68.5 675.8,64.8 675.9,67.3 676.0,64.9 676.1,59.3 676.2,69.7 676.3,73.0 676.4,66.2 676.5,81.5 676.6,59.1 676.7,65.4 676.8,74.6 676.9,61.4 677.0,67.6 677.1,57.0 677.2,65.9 677.3,65.4 677.4,65.9 677.5,63.1 677.6,51.5 677.7,58.1 677.8,61.3 677.9,51.0 678.0,51.9 678.1,51.3 678.2,42.9 678.3,37.5 678.4,36.1 678.5,43.8 678.6,30.4 678.7,40.8 678.8,32.4 678.9,31.0 679.0,25.4 679.1,28.1 679.2,20.2 679.3,20.7 679.4,23.1 679.5,4.5 679.6,17.6 679.7,7.7 679.8,11.1 679.9,10.6 680.0,7.0 680.1,0.3 680.2,-4.8 680.3,3.2 680.4,-6.6 680.5,3.2 680.6,-27.4 680.7,-19.9 680.8,-11.9 680.9,-20.8" fill="none" stroke="#4456b9" stroke-width="1.25" stroke-linejoin="round" /></g><rect x="177.8" y="28.1" width="79.6" height="62.3" fill="#fff"/><clipPath id="ci1"><rect x="177.8" y="28.1" width="79.6" height="62.3"/></clipPath><g clip-path="url(#ci1)"><polyline points="193.8,59.8 194.2,78.1 194.6,65.4 195.0,61.0 195.4,55.5 195.9,70.9 196.3,74.6 196.7,74.0 197.1,66.4 197.5,76.5 198.0,68.1 198.4,65.2 198.8,68.8 199.2,69.6 199.6,68.7 200.1,70.6 200.5,56.4 200.9,77.1 201.3,65.3 201.7,72.0" fill="none" stroke="#e45a3c" stroke-width="0.6" stroke-linejoin="round" opacity="0.75" /><polyline points="177.8,60.4 178.2,61.4 178.6,68.1 179.1,81.0 179.5,73.6 179.9,67.0 180.3,65.8 180.7,73.5 181.2,76.2 181.6,75.1 182.0,65.7 182.4,68.2 182.8,64.7 183.3,65.0 183.7,61.2 184.1,65.3 184.5,52.6 184.9,58.9 185.4,69.7 185.8,45.8" fill="none" stroke="#f0a080" stroke-width="0.6" stroke-linejoin="round" opacity="0.9" /><polyline points="209.7,66.5 210.1,63.3 210.6,66.9 211.0,61.1 211.4,60.8 211.8,65.3 212.2,64.3 212.7,74.2 213.1,60.6 213.5,67.9 213.9,66.3 214.3,57.9 214.8,71.4 215.2,67.7 215.6,52.6 216.0,50.0 216.4,56.6 216.9,61.2 217.3,77.7 217.7,67.5" fill="none" stroke="#f0a080" stroke-width="0.6" stroke-linejoin="round" opacity="0.9" /><polyline points="185.8,45.8 186.2,70.5 186.6,58.3 187.0,64.4 187.5,69.5 187.9,60.0 188.3,62.1 188.7,83.3 189.1,62.3 189.6,62.2 190.0,63.0 190.4,67.1 190.8,66.7 191.2,73.4 191.7,72.1 192.1,64.1 192.5,63.2 192.9,53.0 193.3,56.9 193.8,61.9" fill="none" stroke="#f0a080" stroke-width="0.6" stroke-linejoin="round" opacity="0.9" /><polyline points="249.6,58.0 250.0,62.4 250.5,78.5 250.9,50.0 251.3,56.0 251.7,84.0 252.1,66.9 252.6,61.8 253.0,68.3 253.4,74.8 253.8,79.0 254.2,75.4 254.7,66.4 255.1,65.6 255.5,60.1 255.9,68.6 256.3,65.4 256.8,70.5 257.2,61.2" fill="none" stroke="#9ed27e" stroke-width="0.6" stroke-linejoin="round" opacity="0.9" /><polyline points="217.7,73.9 218.1,62.4 218.5,71.9 219.0,72.1 219.4,70.4 219.8,54.0 220.2,72.2 220.6,74.5 221.1,64.4 221.5,70.3 221.9,64.9 222.3,74.7 222.7,68.6 223.2,60.7 223.6,68.5 224.0,62.3 224.4,73.2 224.8,66.0 225.3,55.8 225.7,65.7" fill="none" stroke="#e45a3c" stroke-width="0.6" stroke-linejoin="round" opacity="0.75" /><polyline points="225.7,60.2 226.1,55.0 226.5,62.6 226.9,62.0 227.4,74.8 227.8,73.7 228.2,76.6 228.6,79.1 229.0,67.9 229.5,76.0 229.9,81.4 230.3,69.6 230.7,76.2 231.1,68.7 231.6,60.0 232.0,70.4 232.4,64.7 232.8,70.3 233.2,66.8 233.7,71.5" fill="none" stroke="#9ed27e" stroke-width="0.6" stroke-linejoin="round" opacity="0.9" /><polyline points="177.8,63.9 178.2,64.1 178.6,75.0 179.1,57.2 179.5,70.1 179.9,57.4 180.3,77.5 180.7,72.1 181.2,79.1 181.6,67.9 182.0,73.3 182.4,69.2 182.8,66.4 183.3,71.7 183.7,63.3 184.1,68.7 184.5,75.0 184.9,71.2 185.4,68.4 185.8,83.9" fill="none" stroke="#9ed27e" stroke-width="0.6" stroke-linejoin="round" opacity="0.9" /><polyline points="217.7,64.2 218.1,68.5 218.5,65.2 219.0,71.8 219.4,67.4 219.8,68.3 220.2,72.8 220.6,62.6 221.1,62.8 221.5,72.6 221.9,75.0 222.3,69.8 222.7,66.2 223.2,74.8 223.6,71.7 224.0,73.9 224.4,61.3 224.8,68.8 225.3,64.8 225.7,64.5" fill="none" stroke="#3a2818" stroke-width="0.55" stroke-linejoin="round" opacity="0.6" /><polyline points="209.7,63.1 210.1,67.6 210.6,69.9 211.0,69.3 211.4,73.3 211.8,64.3 212.2,69.8 212.7,67.4 213.1,68.2 213.5,69.9 213.9,66.5 214.3,69.2 214.8,67.9 215.2,73.7 215.6,67.4 216.0,69.7 216.4,82.3 216.9,71.5 217.3,70.8 217.7,73.9" fill="none" stroke="#e45a3c" stroke-width="0.6" stroke-linejoin="round" opacity="0.75" /><polyline points="225.7,69.4 226.1,64.5 226.5,58.3 226.9,67.5 227.4,60.6 227.8,66.5 228.2,71.3 228.6,73.5 229.0,67.3 229.5,64.1 229.9,67.8 230.3,78.3 230.7,68.8 231.1,57.1 231.6,76.6 232.0,50.0 232.4,83.2 232.8,63.2 233.2,65.7 233.7,64.3" fill="none" stroke="#f0a080" stroke-width="0.6" stroke-linejoin="round" opacity="0.9" /><polyline points="249.6,67.9 250.0,73.6 250.5,73.2 250.9,64.3 251.3,73.9 251.7,57.5 252.1,69.4 252.6,70.7 253.0,68.5 253.4,69.5 253.8,61.9 254.2,68.4 254.7,71.2 255.1,64.9 255.5,69.6 255.9,68.2 256.3,59.0 256.8,66.3 257.2,71.5" fill="none" stroke="#3a2818" stroke-width="0.55" stroke-linejoin="round" opacity="0.6" /><polyline points="177.8,75.8 178.2,71.2 178.6,60.8 179.1,71.0 179.5,67.5 179.9,71.9 180.3,69.5 180.7,72.9 181.2,66.1 181.6,68.3 182.0,70.0 182.4,66.6 182.8,67.9 183.3,72.7 183.7,78.5 184.1,69.0 184.5,73.6 184.9,64.9 185.4,67.9 185.8,71.4" fill="none" stroke="#3a2818" stroke-width="0.55" stroke-linejoin="round" opacity="0.6" /><polyline points="177.8,72.9 178.2,62.1 178.6,71.0 179.1,63.5 179.5,72.9 179.9,63.6 180.3,62.9 180.7,65.0 181.2,68.6 181.6,63.4 182.0,70.1 182.4,69.7 182.8,69.3 183.3,70.4 183.7,73.7 184.1,64.8 184.5,68.8 184.9,68.7 185.4,57.5 185.8,71.0" fill="none" stroke="#e45a3c" stroke-width="0.6" stroke-linejoin="round" opacity="0.75" /><polyline points="249.6,74.3 250.0,65.8 250.5,76.9 250.9,62.6 251.3,65.7 251.7,66.7 252.1,72.3 252.6,65.7 253.0,62.0 253.4,63.9 253.8,56.8 254.2,74.3 254.7,71.0 255.1,68.8 255.5,67.8 255.9,62.0 256.3,63.3 256.8,71.3 257.2,60.8" fill="none" stroke="#f0a080" stroke-width="0.6" stroke-linejoin="round" opacity="0.9" /><polyline points="193.8,61.9 194.2,71.7 194.6,67.6 195.0,72.1 195.4,73.0 195.9,65.7 196.3,80.7 196.7,63.3 197.1,62.6 197.5,63.9 198.0,74.3 198.4,65.8 198.8,61.8 199.2,69.6 199.6,74.3 200.1,52.0 200.5,64.4 200.9,73.9 201.3,73.2 201.7,73.0" fill="none" stroke="#f0a080" stroke-width="0.6" stroke-linejoin="round" opacity="0.9" /><polyline points="241.6,68.5 242.1,60.9 242.5,71.5 242.9,62.5 243.3,79.2 243.7,64.0 244.2,60.9 244.6,60.9 245.0,70.8 245.4,70.4 245.8,72.0 246.3,70.3 246.7,65.6 247.1,72.7 247.5,66.0 247.9,62.4 248.4,73.1 248.8,71.4 249.2,64.9 249.6,67.9" fill="none" stroke="#3a2818" stroke-width="0.55" stroke-linejoin="round" opacity="0.6" /><polyline points="241.6,66.3 242.1,77.4 242.5,65.2 242.9,69.3 243.3,70.4 243.7,68.7 244.2,66.7 244.6,75.5 245.0,66.9 245.4,69.2 245.8,67.9 246.3,60.3 246.7,69.0 247.1,67.6 247.5,70.8 247.9,71.0 248.4,75.8 248.8,56.9 249.2,64.2 249.6,64.6" fill="none" stroke="#e45a3c" stroke-width="0.6" stroke-linejoin="round" opacity="0.75" /><polyline points="217.7,67.5 218.1,58.8 218.5,70.2 219.0,64.1 219.4,57.6 219.8,52.2 220.2,68.1 220.6,61.6 221.1,70.7 221.5,69.0 221.9,63.0 222.3,62.9 222.7,78.2 223.2,77.7 223.6,71.4 224.0,64.1 224.4,59.9 224.8,45.8 225.3,49.4 225.7,69.4" fill="none" stroke="#f0a080" stroke-width="0.6" stroke-linejoin="round" opacity="0.9" /><polyline points="233.7,64.3 234.1,68.8 234.5,62.5 234.9,56.5 235.3,53.6 235.8,65.5 236.2,62.9 236.6,62.4 237.0,80.3 237.4,71.5 237.9,73.5 238.3,62.9 238.7,68.2 239.1,64.8 239.5,64.9 240.0,71.2 240.4,70.2 240.8,68.2 241.2,67.2 241.6,56.7" fill="none" stroke="#f0a080" stroke-width="0.6" stroke-linejoin="round" opacity="0.9" /><polyline points="201.7,68.4 202.2,71.7 202.6,70.2 203.0,70.4 203.4,58.8 203.8,80.8 204.3,71.5 204.7,65.1 205.1,76.2 205.5,72.2 205.9,70.4 206.4,76.6 206.8,83.8 207.2,73.6 207.6,79.8 208.0,83.2 208.5,64.1 208.9,67.1 209.3,74.9 209.7,59.9" fill="none" stroke="#9ed27e" stroke-width="0.6" stroke-linejoin="round" opacity="0.9" /><polyline points="209.7,69.2 210.1,63.4 210.6,71.0 211.0,74.8 211.4,72.2 211.8,67.6 212.2,75.1 212.7,68.7 213.1,69.3 213.5,69.8 213.9,67.4 214.3,71.3 214.8,64.0 215.2,61.6 215.6,74.8 216.0,66.2 216.4,67.9 216.9,70.9 217.3,67.4 217.7,64.2" fill="none" stroke="#3a2818" stroke-width="0.55" stroke-linejoin="round" opacity="0.6" /><polyline points="193.8,71.6 194.2,73.9 194.6,69.4 195.0,70.7 195.4,68.1 195.9,73.9 196.3,62.8 196.7,70.8 197.1,59.5 197.5,77.3 198.0,73.8 198.4,60.4 198.8,67.4 199.2,63.5 199.6,61.9 200.1,67.9 200.5,65.8 200.9,74.3 201.3,67.4 201.7,64.8" fill="none" stroke="#3a2818" stroke-width="0.55" stroke-linejoin="round" opacity="0.6" /><polyline points="193.8,64.9 194.2,56.0 194.6,74.5 195.0,67.4 195.4,68.2 195.9,73.3 196.3,71.9 196.7,72.3 197.1,67.9 197.5,78.2 198.0,79.5 198.4,70.7 198.8,67.8 199.2,74.9 199.6,73.3 200.1,64.2 200.5,67.7 200.9,76.7 201.3,69.8 201.7,68.4" fill="none" stroke="#9ed27e" stroke-width="0.6" stroke-linejoin="round" opacity="0.9" /><polyline points="201.7,72.0 202.2,64.0 202.6,69.3 203.0,67.4 203.4,59.7 203.8,70.5 204.3,71.8 204.7,62.2 205.1,56.8 205.5,64.8 205.9,63.7 206.4,68.9 206.8,68.2 207.2,77.1 207.6,71.8 208.0,66.8 208.5,69.1 208.9,53.9 209.3,63.2 209.7,63.1" fill="none" stroke="#e45a3c" stroke-width="0.6" stroke-linejoin="round" opacity="0.75" /><polyline points="201.7,64.8 202.2,69.3 202.6,71.5 203.0,73.3 203.4,71.9 203.8,63.0 204.3,66.0 204.7,68.8 205.1,65.9 205.5,72.9 205.9,68.1 206.4,69.3 206.8,67.9 207.2,69.8 207.6,62.9 208.0,78.9 208.5,67.0 208.9,66.3 209.3,61.7 209.7,69.2" fill="none" stroke="#3a2818" stroke-width="0.55" stroke-linejoin="round" opacity="0.6" /><polyline points="241.6,68.1 242.1,33.6 242.5,44.6 242.9,60.2 243.3,65.4 243.7,83.3 244.2,64.7 244.6,62.9 245.0,37.0 245.4,69.8 245.8,69.2 246.3,78.2 246.7,58.5 247.1,71.8 247.5,59.1 247.9,34.0 248.4,50.0 248.8,76.3 249.2,68.3 249.6,58.0" fill="none" stroke="#9ed27e" stroke-width="0.6" stroke-linejoin="round" opacity="0.9" /><polyline points="249.6,64.6 250.0,62.5 250.5,69.4 250.9,66.7 251.3,67.9 251.7,58.2 252.1,61.9 252.6,66.8 253.0,64.7 253.4,63.8 253.8,66.4 254.2,65.6 254.7,61.3 255.1,55.1 255.5,42.7 255.9,70.6 256.3,70.3 256.8,72.3 257.2,63.9" fill="none" stroke="#e45a3c" stroke-width="0.6" stroke-linejoin="round" opacity="0.75" /><polyline points="201.7,73.0 202.2,61.6 202.6,68.6 203.0,69.1 203.4,54.7 203.8,74.7 204.3,67.3 204.7,64.4 205.1,81.7 205.5,67.6 205.9,61.9 206.4,66.2 206.8,70.4 207.2,72.0 207.6,61.4 208.0,55.0 208.5,61.1 208.9,61.2 209.3,59.6 209.7,66.5" fill="none" stroke="#f0a080" stroke-width="0.6" stroke-linejoin="round" opacity="0.9" /><polyline points="233.7,71.2 234.1,75.0 234.5,59.5 234.9,65.6 235.3,77.2 235.8,63.0 236.2,61.1 236.6,70.2 237.0,76.1 237.4,72.0 237.9,64.9 238.3,71.6 238.7,71.0 239.1,70.3 239.5,70.9 240.0,72.8 240.4,74.3 240.8,75.2 241.2,73.8 241.6,68.5" fill="none" stroke="#3a2818" stroke-width="0.55" stroke-linejoin="round" opacity="0.6" /><polyline points="185.8,83.9 186.2,71.1 186.6,67.3 187.0,71.7 187.5,67.6 187.9,68.4 188.3,68.6 188.7,82.9 189.1,70.9 189.6,71.8 190.0,74.7 190.4,82.8 190.8,69.3 191.2,66.9 191.7,85.5 192.1,61.9 192.5,68.4 192.9,74.6 193.3,84.3 193.8,64.9" fill="none" stroke="#9ed27e" stroke-width="0.6" stroke-linejoin="round" opacity="0.9" /><polyline points="233.7,65.9 234.1,69.0 234.5,71.9 234.9,52.0 235.3,59.6 235.8,63.3 236.2,69.8 236.6,67.6 237.0,60.5 237.4,73.9 237.9,62.6 238.3,67.9 238.7,60.3 239.1,58.0 239.5,71.0 240.0,59.8 240.4,56.1 240.8,66.2 241.2,58.9 241.6,66.3" fill="none" stroke="#e45a3c" stroke-width="0.6" stroke-linejoin="round" opacity="0.75" /><polyline points="209.7,59.9 210.1,57.0 210.6,77.9 211.0,76.4 211.4,73.6 211.8,58.8 212.2,84.2 212.7,73.4 213.1,74.7 213.5,73.1 213.9,59.8 214.3,61.5 214.8,62.8 215.2,81.6 215.6,65.1 216.0,68.6 216.4,68.5 216.9,73.4 217.3,73.0 217.7,71.6" fill="none" stroke="#9ed27e" stroke-width="0.6" stroke-linejoin="round" opacity="0.9" /><polyline points="185.8,71.0 186.2,64.5 186.6,64.8 187.0,66.3 187.5,69.3 187.9,70.6 188.3,71.4 188.7,63.4 189.1,55.0 189.6,71.0 190.0,66.5 190.4,68.6 190.8,73.1 191.2,71.1 191.7,72.5 192.1,69.2 192.5,74.9 192.9,80.9 193.3,71.1 193.8,59.8" fill="none" stroke="#e45a3c" stroke-width="0.6" stroke-linejoin="round" opacity="0.75" /><polyline points="225.7,65.7 226.1,73.4 226.5,69.6 226.9,64.3 227.4,71.3 227.8,70.9 228.2,75.8 228.6,72.7 229.0,69.7 229.5,63.4 229.9,69.2 230.3,69.3 230.7,67.7 231.1,70.0 231.6,61.1 232.0,70.8 232.4,67.7 232.8,69.6 233.2,67.1 233.7,65.9" fill="none" stroke="#e45a3c" stroke-width="0.6" stroke-linejoin="round" opacity="0.75" /><polyline points="241.6,56.7 242.1,61.3 242.5,68.7 242.9,63.8 243.3,61.0 243.7,68.5 244.2,60.1 244.6,61.7 245.0,72.0 245.4,63.8 245.8,75.6 246.3,69.6 246.7,71.5 247.1,73.6 247.5,51.9 247.9,65.6 248.4,57.6 248.8,63.0 249.2,65.4 249.6,74.3" fill="none" stroke="#f0a080" stroke-width="0.6" stroke-linejoin="round" opacity="0.9" /><polyline points="233.7,71.5 234.1,56.8 234.5,82.1 234.9,77.7 235.3,67.4 235.8,51.5 236.2,48.0 236.6,73.6 237.0,72.0 237.4,71.9 237.9,33.0 238.3,48.6 238.7,77.5 239.1,70.9 239.5,60.3 240.0,64.2 240.4,36.0 240.8,63.3 241.2,76.5 241.6,68.1" fill="none" stroke="#9ed27e" stroke-width="0.6" stroke-linejoin="round" opacity="0.9" /><polyline points="225.7,64.5 226.1,71.9 226.5,72.5 226.9,67.2 227.4,68.2 227.8,75.4 228.2,72.2 228.6,68.8 229.0,71.5 229.5,69.8 229.9,63.7 230.3,67.0 230.7,70.5 231.1,72.0 231.6,63.9 232.0,65.7 232.4,66.6 232.8,62.5 233.2,74.1 233.7,71.2" fill="none" stroke="#3a2818" stroke-width="0.55" stroke-linejoin="round" opacity="0.6" /><polyline points="217.7,71.6 218.1,62.4 218.5,54.4 219.0,71.0 219.4,71.6 219.8,77.3 220.2,69.3 220.6,66.3 221.1,72.4 221.5,60.6 221.9,63.6 222.3,63.8 222.7,71.6 223.2,82.4 223.6,74.4 224.0,76.7 224.4,71.3 224.8,71.5 225.3,67.1 225.7,60.2" fill="none" stroke="#9ed27e" stroke-width="0.6" stroke-linejoin="round" opacity="0.9" /><polyline points="185.8,71.4 186.2,72.5 186.6,65.3 187.0,72.6 187.5,70.5 187.9,75.7 188.3,74.0 188.7,72.3 189.1,68.1 189.6,71.0 190.0,66.0 190.4,66.2 190.8,61.6 191.2,64.1 191.7,64.2 192.1,69.4 192.5,70.3 192.9,63.8 193.3,69.4 193.8,71.6" fill="none" stroke="#3a2818" stroke-width="0.55" stroke-linejoin="round" opacity="0.6" /></g><rect x="177.8" y="28.1" width="79.6" height="62.3" fill="none" stroke="#606060" stroke-width="1.3"/><rect x="529.0" y="15.6" width="79.4" height="61.8" fill="#fff"/><clipPath id="ci2"><rect x="529.0" y="15.6" width="79.4" height="61.8"/></clipPath><g clip-path="url(#ci2)"><polyline points="535.0,40.1 535.3,50.1 535.6,43.9 535.9,46.9 536.2,46.5 536.5,47.9 536.8,35.3 537.1,52.0 537.4,37.0 537.7,46.5 538.0,51.3 538.3,43.5 538.6,57.6 538.9,51.0 539.2,46.0 539.5,41.1 539.8,39.0 540.1,49.0 540.4,46.2 540.7,48.3 541.0,49.9" fill="none" stroke="#e8402a" stroke-width="0.8" stroke-linejoin="round" opacity="0.9" /><polyline points="595.0,40.1 595.3,53.6 595.6,51.5 595.9,43.8 596.2,46.3 596.5,54.8 596.8,57.0 597.1,48.7 597.4,44.8 597.7,58.9 598.0,49.4 598.3,57.6 598.6,53.5 598.9,52.8 599.2,51.6 599.5,63.9 599.8,52.7 600.1,55.7 600.4,51.7 600.7,69.6 601.0,57.2" fill="none" stroke="#4a5cc0" stroke-width="0.8" stroke-linejoin="round" opacity="0.9" /><polyline points="553.0,40.2 553.3,42.4 553.6,41.8 553.9,48.5 554.2,43.9 554.5,43.3 554.8,41.4 555.1,46.7 555.4,37.5 555.7,55.3 556.0,38.1 556.3,42.5 556.6,45.8 556.9,45.7 557.2,48.5 557.5,34.0 557.8,45.8 558.1,38.7 558.4,54.2 558.7,34.1 559.0,45.4" fill="none" stroke="#d89a30" stroke-width="0.7" stroke-linejoin="round" opacity="0.75" /><polyline points="541.0,37.9 541.3,46.0 541.6,48.1 541.9,40.5 542.2,35.4 542.5,42.9 542.8,49.6 543.1,50.1 543.4,48.0 543.7,40.7 544.0,48.3 544.3,44.9 544.6,50.9 544.9,48.9 545.2,40.4 545.5,47.3 545.8,47.2 546.1,52.4 546.4,57.1 546.7,37.3 547.0,42.8" fill="none" stroke="#d89a30" stroke-width="0.7" stroke-linejoin="round" opacity="0.75" /><polyline points="553.0,51.4 553.3,51.2 553.6,44.8 553.9,51.6 554.2,49.8 554.5,51.4 554.8,52.5 555.1,46.9 555.4,48.1 555.7,46.3 556.0,43.7 556.3,40.3 556.6,43.7 556.9,50.9 557.2,36.8 557.5,50.3 557.8,51.2 558.1,51.8 558.4,45.4 558.7,45.0 559.0,51.6" fill="none" stroke="#4a5cc0" stroke-width="0.8" stroke-linejoin="round" opacity="0.9" /><polyline points="589.0,47.6 589.3,53.9 589.6,55.2 589.9,51.2 590.2,46.5 590.5,41.4 590.8,49.8 591.1,40.3 591.4,49.8 591.7,45.8 592.0,45.0 592.3,44.7 592.6,40.5 592.9,41.8 593.2,49.8 593.5,44.4 593.8,43.9 594.1,52.5 594.4,50.8 594.7,49.4 595.0,40.1" fill="none" stroke="#4a5cc0" stroke-width="0.8" stroke-linejoin="round" opacity="0.9" /><polyline points="529.0,47.4 529.3,50.8 529.6,49.1 529.9,31.8 530.2,37.6 530.5,40.9 530.8,37.3 531.1,33.5 531.4,37.1 531.7,47.7 532.0,42.8 532.3,46.9 532.6,46.9 532.9,56.4 533.2,45.7 533.5,51.7 533.8,43.3 534.1,45.5 534.4,36.2 534.7,41.7 535.0,40.1" fill="none" stroke="#e8402a" stroke-width="0.8" stroke-linejoin="round" opacity="0.9" /><polyline points="559.0,57.1 559.3,56.8 559.6,57.0 559.9,58.8 560.2,52.1 560.5,57.4 560.8,56.9 561.1,55.0 561.4,57.8 561.7,53.6 562.0,54.4 562.3,60.1 562.6,50.9 562.9,57.6 563.2,61.1 563.5,56.9 563.8,58.1 564.1,56.5 564.4,54.9 564.7,60.6 565.0,55.7" fill="none" stroke="#1a1a1a" stroke-width="0.7" stroke-linejoin="round" opacity="0.85" /><polyline points="547.0,42.8 547.3,42.7 547.6,42.9 547.9,44.3 548.2,55.9 548.5,50.1 548.8,45.6 549.1,49.5 549.4,47.3 549.7,43.2 550.0,46.3 550.3,49.4 550.6,53.1 550.9,40.3 551.2,47.0 551.5,48.1 551.8,48.6 552.1,44.3 552.4,44.0 552.7,37.0 553.0,40.2" fill="none" stroke="#d89a30" stroke-width="0.7" stroke-linejoin="round" opacity="0.75" /><polyline points="535.0,52.7 535.3,55.2 535.6,56.8 535.9,59.6 536.2,48.7 536.5,48.5 536.8,50.5 537.1,50.2 537.4,54.3 537.7,55.0 538.0,54.3 538.3,57.0 538.6,52.5 538.9,53.1 539.2,52.5 539.5,52.9 539.8,58.0 540.1,56.1 540.4,59.3 540.7,53.5 541.0,52.7" fill="none" stroke="#1a1a1a" stroke-width="0.7" stroke-linejoin="round" opacity="0.85" /><polyline points="535.0,46.0 535.3,51.8 535.6,47.6 535.9,55.3 536.2,55.8 536.5,44.4 536.8,38.6 537.1,46.3 537.4,38.0 537.7,51.2 538.0,45.5 538.3,50.5 538.6,44.5 538.9,41.7 539.2,55.6 539.5,45.3 539.8,46.5 540.1,47.1 540.4,43.4 540.7,44.1 541.0,37.9" fill="none" stroke="#d89a30" stroke-width="0.7" stroke-linejoin="round" opacity="0.75" /><polyline points="565.0,55.7 565.3,54.9 565.6,59.9 565.9,56.7 566.2,56.7 566.5,62.2 566.8,59.3 567.1,47.9 567.4,66.1 567.7,55.1 568.0,56.3 568.3,61.1 568.6,59.4 568.9,59.6 569.2,54.2 569.5,50.6 569.8,59.9 570.1,55.6 570.4,48.3 570.7,59.9 571.0,56.7" fill="none" stroke="#1a1a1a" stroke-width="0.7" stroke-linejoin="round" opacity="0.85" /><polyline points="607.0,36.4 607.3,38.0 607.6,35.3 607.9,53.9 608.2,39.1" fill="none" stroke="#7cc850" stroke-width="0.8" stroke-linejoin="round" opacity="0.9" /><polyline points="553.0,58.5 553.3,56.2 553.6,50.6 553.9,58.4 554.2,61.7 554.5,49.9 554.8,52.5 555.1,55.5 555.4,59.0 555.7,48.7 556.0,57.2 556.3,49.9 556.6,52.9 556.9,52.8 557.2,52.2 557.5,54.0 557.8,53.4 558.1,47.8 558.4,53.6 558.7,61.9 559.0,57.1" fill="none" stroke="#1a1a1a" stroke-width="0.7" stroke-linejoin="round" opacity="0.85" /><polyline points="565.0,63.2 565.3,47.0 565.6,54.7 565.9,54.0 566.2,59.7 566.5,44.0 566.8,46.1 567.1,42.5 567.4,49.8 567.7,46.6 568.0,47.9 568.3,48.7 568.6,45.0 568.9,64.5 569.2,51.5 569.5,58.3 569.8,55.7 570.1,50.2 570.4,43.2 570.7,46.0 571.0,46.6" fill="none" stroke="#e8402a" stroke-width="0.8" stroke-linejoin="round" opacity="0.9" /><polyline points="541.0,52.7 541.3,51.0 541.6,49.4 541.9,56.8 542.2,60.0 542.5,52.2 542.8,56.2 543.1,51.7 543.4,55.3 543.7,55.9 544.0,54.0 544.3,55.1 544.6,54.9 544.9,59.8 545.2,53.5 545.5,57.4 545.8,47.6 546.1,59.7 546.4,50.0 546.7,53.2 547.0,61.2" fill="none" stroke="#1a1a1a" stroke-width="0.7" stroke-linejoin="round" opacity="0.85" /><polyline points="535.0,47.7 535.3,51.9 535.6,55.0 535.9,45.0 536.2,54.4 536.5,52.6 536.8,56.6 537.1,52.0 537.4,47.4 537.7,46.9 538.0,48.2 538.3,53.0 538.6,51.4 538.9,55.2 539.2,59.8 539.5,50.7 539.8,49.8 540.1,54.0 540.4,54.3 540.7,41.3 541.0,48.7" fill="none" stroke="#4a5cc0" stroke-width="0.8" stroke-linejoin="round" opacity="0.9" /><polyline points="583.0,50.2 583.3,40.3 583.6,57.2 583.9,61.8 584.2,47.4 584.5,52.4 584.8,49.0 585.1,53.4 585.4,50.1 585.7,51.8 586.0,49.3 586.3,46.2 586.6,47.6 586.9,45.3 587.2,45.9 587.5,47.0 587.8,62.0 588.1,53.0 588.4,58.4 588.7,41.6 589.0,47.6" fill="none" stroke="#4a5cc0" stroke-width="0.8" stroke-linejoin="round" opacity="0.9" /><polyline points="607.0,51.6 607.3,66.3 607.6,62.9 607.9,47.7 608.2,63.9" fill="none" stroke="#4a5cc0" stroke-width="0.8" stroke-linejoin="round" opacity="0.9" /><polyline points="541.0,48.7 541.3,52.3 541.6,54.8 541.9,49.5 542.2,46.7 542.5,62.0 542.8,38.4 543.1,58.7 543.4,48.2 543.7,49.5 544.0,51.3 544.3,53.0 544.6,46.5 544.9,44.3 545.2,52.7 545.5,57.3 545.8,49.6 546.1,62.2 546.4,44.6 546.7,55.0 547.0,53.3" fill="none" stroke="#4a5cc0" stroke-width="0.8" stroke-linejoin="round" opacity="0.9" /><polyline points="589.0,50.0 589.3,54.8 589.6,44.1 589.9,46.7 590.2,50.5 590.5,47.4 590.8,46.5 591.1,50.7 591.4,51.1 591.7,42.8 592.0,46.7 592.3,48.7 592.6,51.7 592.9,48.1 593.2,43.9 593.5,47.2 593.8,40.5 594.1,45.4 594.4,52.8 594.7,46.8 595.0,48.1" fill="none" stroke="#d89a30" stroke-width="0.7" stroke-linejoin="round" opacity="0.75" /><polyline points="607.0,36.0 607.3,57.7 607.6,45.1 607.9,54.8 608.2,45.4" fill="none" stroke="#e8402a" stroke-width="0.8" stroke-linejoin="round" opacity="0.9" /><polyline points="529.0,44.6 529.3,58.4 529.6,54.3 529.9,53.7 530.2,58.3 530.5,50.8 530.8,57.6 531.1,51.8 531.4,51.4 531.7,51.1 532.0,48.9 532.3,49.6 532.6,50.4 532.9,58.8 533.2,56.7 533.5,54.5 533.8,58.9 534.1,50.3 534.4,54.1 534.7,55.5 535.0,52.7" fill="none" stroke="#1a1a1a" stroke-width="0.7" stroke-linejoin="round" opacity="0.85" /><polyline points="595.0,43.2 595.3,46.1 595.6,44.3 595.9,43.9 596.2,59.3 596.5,34.4 596.8,33.7 597.1,50.0 597.4,33.4 597.7,36.0 598.0,30.0 598.3,49.1 598.6,42.4 598.9,47.3 599.2,37.4 599.5,41.5 599.8,26.5 600.1,48.3 600.4,45.4 600.7,42.6 601.0,42.9" fill="none" stroke="#7cc850" stroke-width="0.8" stroke-linejoin="round" opacity="0.9" /><polyline points="559.0,56.5 559.3,50.0 559.6,46.4 559.9,45.4 560.2,43.0 560.5,53.4 560.8,60.5 561.1,51.4 561.4,48.1 561.7,42.0 562.0,51.3 562.3,57.1 562.6,50.2 562.9,54.8 563.2,47.8 563.5,35.7 563.8,50.3 564.1,60.2 564.4,39.2 564.7,65.4 565.0,63.2" fill="none" stroke="#e8402a" stroke-width="0.8" stroke-linejoin="round" opacity="0.9" /><polyline points="571.0,39.3 571.3,31.9 571.6,42.0 571.9,36.0 572.2,36.2 572.5,27.1 572.8,44.9 573.1,33.4 573.4,40.8 573.7,40.3 574.0,34.8 574.3,38.3 574.6,33.3 574.9,25.0 575.2,40.1 575.5,34.3 575.8,43.6 576.1,39.6 576.4,30.7 576.7,41.8 577.0,36.1" fill="none" stroke="#7cc850" stroke-width="0.8" stroke-linejoin="round" opacity="0.9" /><polyline points="577.0,36.1 577.3,42.2 577.6,22.6 577.9,41.4 578.2,23.3 578.5,35.9 578.8,57.8 579.1,43.6 579.4,46.4 579.7,34.1 580.0,31.2 580.3,38.5 580.6,42.0 580.9,38.5 581.2,34.4 581.5,33.1 581.8,36.5 582.1,50.7 582.4,39.4 582.7,33.5 583.0,27.0" fill="none" stroke="#7cc850" stroke-width="0.8" stroke-linejoin="round" opacity="0.9" /><polyline points="529.0,39.4 529.3,47.5 529.6,54.9 529.9,56.5 530.2,53.9 530.5,45.9 530.8,47.8 531.1,43.7 531.4,36.2 531.7,42.0 532.0,51.8 532.3,46.8 532.6,42.8 532.9,37.5 533.2,44.2 533.5,40.7 533.8,44.9 534.1,47.9 534.4,28.6 534.7,43.7 535.0,34.1" fill="none" stroke="#7cc850" stroke-width="0.8" stroke-linejoin="round" opacity="0.9" /><polyline points="547.0,37.1 547.3,38.7 547.6,27.0 547.9,29.4 548.2,48.9 548.5,43.4 548.8,37.2 549.1,37.8 549.4,37.6 549.7,58.3 550.0,43.6 550.3,39.9 550.6,35.2 550.9,23.4 551.2,40.6 551.5,49.4 551.8,46.2 552.1,41.5 552.4,35.4 552.7,31.3 553.0,40.1" fill="none" stroke="#7cc850" stroke-width="0.8" stroke-linejoin="round" opacity="0.9" /><polyline points="559.0,51.6 559.3,49.8 559.6,54.2 559.9,43.6 560.2,43.6 560.5,51.6 560.8,44.8 561.1,46.4 561.4,53.8 561.7,51.8 562.0,46.4 562.3,51.5 562.6,48.9 562.9,54.8 563.2,51.7 563.5,46.2 563.8,59.4 564.1,51.0 564.4,52.0 564.7,49.1 565.0,52.6" fill="none" stroke="#4a5cc0" stroke-width="0.8" stroke-linejoin="round" opacity="0.9" /><polyline points="601.0,57.8 601.3,60.0 601.6,55.1 601.9,55.8 602.2,59.0 602.5,56.3 602.8,55.2 603.1,57.6 603.4,51.8 603.7,61.3 604.0,49.9 604.3,54.7 604.6,57.5 604.9,53.4 605.2,59.8 605.5,51.3 605.8,53.4 606.1,46.2 606.4,57.2 606.7,58.4 607.0,50.2" fill="none" stroke="#1a1a1a" stroke-width="0.7" stroke-linejoin="round" opacity="0.85" /><polyline points="607.0,50.2 607.3,53.8 607.6,57.9 607.9,54.7 608.2,54.1" fill="none" stroke="#1a1a1a" stroke-width="0.7" stroke-linejoin="round" opacity="0.85" /><polyline points="553.0,40.1 553.3,23.7 553.6,17.0 553.9,26.8 554.2,32.8 554.5,35.5 554.8,22.6 555.1,51.1 555.4,38.1 555.7,38.6 556.0,41.1 556.3,33.2 556.6,34.7 556.9,41.0 557.2,33.2 557.5,41.1 557.8,47.3 558.1,44.1 558.4,48.7 558.7,46.2 559.0,50.8" fill="none" stroke="#7cc850" stroke-width="0.8" stroke-linejoin="round" opacity="0.9" /><polyline points="583.0,42.4 583.3,49.8 583.6,45.5 583.9,47.7 584.2,56.0 584.5,64.3 584.8,49.2 585.1,50.2 585.4,51.7 585.7,49.8 586.0,44.3 586.3,40.8 586.6,44.6 586.9,49.1 587.2,50.3 587.5,44.9 587.8,36.7 588.1,49.4 588.4,45.8 588.7,45.0 589.0,54.0" fill="none" stroke="#e8402a" stroke-width="0.8" stroke-linejoin="round" opacity="0.9" /><polyline points="559.0,50.8 559.3,40.7 559.6,27.6 559.9,22.0 560.2,37.3 560.5,33.5 560.8,38.0 561.1,31.2 561.4,40.6 561.7,56.4 562.0,32.9 562.3,42.3 562.6,42.6 562.9,24.0 563.2,29.4 563.5,34.5 563.8,41.2 564.1,33.6 564.4,56.2 564.7,44.0 565.0,45.9" fill="none" stroke="#7cc850" stroke-width="0.8" stroke-linejoin="round" opacity="0.9" /><polyline points="571.0,48.4 571.3,58.1 571.6,54.7 571.9,48.0 572.2,39.5 572.5,57.1 572.8,53.3 573.1,41.3 573.4,50.4 573.7,46.0 574.0,56.4 574.3,54.5 574.6,47.9 574.9,40.1 575.2,49.6 575.5,63.6 575.8,53.4 576.1,48.4 576.4,55.6 576.7,48.3 577.0,59.1" fill="none" stroke="#4a5cc0" stroke-width="0.8" stroke-linejoin="round" opacity="0.9" /><polyline points="541.0,49.9 541.3,44.8 541.6,46.3 541.9,49.6 542.2,40.5 542.5,43.3 542.8,41.9 543.1,48.3 543.4,44.4 543.7,49.8 544.0,43.5 544.3,39.2 544.6,46.2 544.9,43.5 545.2,40.4 545.5,46.7 545.8,45.3 546.1,40.3 546.4,45.8 546.7,45.3 547.0,45.5" fill="none" stroke="#e8402a" stroke-width="0.8" stroke-linejoin="round" opacity="0.9" /><polyline points="529.0,55.0 529.3,57.5 529.6,49.1 529.9,58.0 530.2,58.6 530.5,50.3 530.8,55.9 531.1,50.6 531.4,57.2 531.7,55.5 532.0,58.9 532.3,57.0 532.6,47.8 532.9,60.1 533.2,53.0 533.5,58.1 533.8,53.2 534.1,57.4 534.4,46.8 534.7,59.4 535.0,47.7" fill="none" stroke="#4a5cc0" stroke-width="0.8" stroke-linejoin="round" opacity="0.9" /><polyline points="595.0,45.5 595.3,50.3 595.6,42.9 595.9,51.1 596.2,41.5 596.5,52.7 596.8,42.0 597.1,36.6 597.4,62.5 597.7,55.2 598.0,46.8 598.3,39.6 598.6,46.5 598.9,45.5 599.2,43.4 599.5,53.3 599.8,44.9 600.1,55.4 600.4,47.4 600.7,59.3 601.0,40.8" fill="none" stroke="#e8402a" stroke-width="0.8" stroke-linejoin="round" opacity="0.9" /><polyline points="553.0,51.6 553.3,52.7 553.6,49.4 553.9,43.5 554.2,48.0 554.5,53.2 554.8,51.4 555.1,50.0 555.4,49.2 555.7,51.9 556.0,44.8 556.3,48.3 556.6,44.9 556.9,48.6 557.2,37.0 557.5,57.6 557.8,50.5 558.1,58.2 558.4,44.1 558.7,56.8 559.0,56.5" fill="none" stroke="#e8402a" stroke-width="0.8" stroke-linejoin="round" opacity="0.9" /><polyline points="565.0,52.6 565.3,50.6 565.6,55.2 565.9,55.0 566.2,58.2 566.5,56.2 566.8,49.9 567.1,48.9 567.4,48.3 567.7,57.1 568.0,48.4 568.3,59.6 568.6,53.0 568.9,51.9 569.2,52.9 569.5,60.9 569.8,52.5 570.1,50.1 570.4,46.7 570.7,43.9 571.0,48.4" fill="none" stroke="#4a5cc0" stroke-width="0.8" stroke-linejoin="round" opacity="0.9" /><polyline points="577.0,45.4 577.3,33.6 577.6,51.8 577.9,42.4 578.2,41.2 578.5,39.6 578.8,45.6 579.1,50.1 579.4,42.1 579.7,45.1 580.0,49.9 580.3,43.4 580.6,41.0 580.9,47.1 581.2,50.1 581.5,46.5 581.8,40.5 582.1,46.8 582.4,46.1 582.7,56.1 583.0,42.4" fill="none" stroke="#e8402a" stroke-width="0.8" stroke-linejoin="round" opacity="0.9" /><polyline points="595.0,51.9 595.3,58.3 595.6,54.3 595.9,58.3 596.2,48.7 596.5,54.4 596.8,51.0 597.1,56.1 597.4,48.3 597.7,61.6 598.0,55.7 598.3,49.1 598.6,61.6 598.9,57.7 599.2,49.6 599.5,57.7 599.8,53.6 600.1,55.5 600.4,49.0 600.7,53.3 601.0,57.8" fill="none" stroke="#1a1a1a" stroke-width="0.7" stroke-linejoin="round" opacity="0.85" /><polyline points="559.0,45.4 559.3,49.5 559.6,45.4 559.9,47.0 560.2,46.2 560.5,48.5 560.8,52.1 561.1,46.3 561.4,52.9 561.7,46.3 562.0,51.6 562.3,38.4 562.6,55.2 562.9,49.1 563.2,50.0 563.5,56.1 563.8,41.3 564.1,40.1 564.4,30.5 564.7,52.6 565.0,49.2" fill="none" stroke="#d89a30" stroke-width="0.7" stroke-linejoin="round" opacity="0.75" /><polyline points="541.0,49.9 541.3,43.6 541.6,45.2 541.9,40.4 542.2,39.3 542.5,40.1 542.8,29.0 543.1,34.9 543.4,42.1 543.7,42.7 544.0,49.3 544.3,46.0 544.6,44.5 544.9,30.0 545.2,25.6 545.5,41.6 545.8,35.0 546.1,44.5 546.4,39.0 546.7,38.6 547.0,37.1" fill="none" stroke="#7cc850" stroke-width="0.8" stroke-linejoin="round" opacity="0.9" /><polyline points="577.0,51.2 577.3,57.6 577.6,59.7 577.9,54.8 578.2,57.3 578.5,54.3 578.8,47.4 579.1,56.7 579.4,58.7 579.7,50.8 580.0,66.1 580.3,63.5 580.6,52.0 580.9,60.3 581.2,57.2 581.5,56.8 581.8,49.6 582.1,59.3 582.4,55.8 582.7,51.7 583.0,55.5" fill="none" stroke="#1a1a1a" stroke-width="0.7" stroke-linejoin="round" opacity="0.85" /><polyline points="547.0,61.2 547.3,55.4 547.6,61.3 547.9,53.6 548.2,57.5 548.5,50.4 548.8,60.5 549.1,55.5 549.4,52.5 549.7,60.5 550.0,59.0 550.3,57.8 550.6,57.6 550.9,54.7 551.2,52.7 551.5,57.4 551.8,49.8 552.1,50.3 552.4,53.3 552.7,60.3 553.0,58.5" fill="none" stroke="#1a1a1a" stroke-width="0.7" stroke-linejoin="round" opacity="0.85" /><polyline points="601.0,42.9 601.3,39.9 601.6,42.1 601.9,56.0 602.2,38.4 602.5,39.3 602.8,47.6 603.1,44.5 603.4,38.6 603.7,54.4 604.0,54.7 604.3,40.7 604.6,55.8 604.9,33.3 605.2,53.9 605.5,31.7 605.8,45.8 606.1,42.1 606.4,40.6 606.7,47.7 607.0,36.4" fill="none" stroke="#7cc850" stroke-width="0.8" stroke-linejoin="round" opacity="0.9" /><polyline points="589.0,37.3 589.3,38.0 589.6,36.4 589.9,28.0 590.2,31.5 590.5,32.1 590.8,52.9 591.1,43.0 591.4,34.9 591.7,51.7 592.0,58.5 592.3,42.1 592.6,25.0 592.9,31.0 593.2,54.5 593.5,40.2 593.8,46.4 594.1,45.4 594.4,42.8 594.7,53.6 595.0,43.2" fill="none" stroke="#7cc850" stroke-width="0.8" stroke-linejoin="round" opacity="0.9" /><polyline points="583.0,55.5 583.3,60.9 583.6,52.8 583.9,56.7 584.2,56.6 584.5,56.6 584.8,61.5 585.1,59.2 585.4,62.5 585.7,53.6 586.0,53.5 586.3,51.8 586.6,54.8 586.9,60.1 587.2,49.4 587.5,59.9 587.8,59.5 588.1,54.5 588.4,54.5 588.7,61.9 589.0,64.8" fill="none" stroke="#1a1a1a" stroke-width="0.7" stroke-linejoin="round" opacity="0.85" /><polyline points="571.0,46.6 571.3,52.1 571.6,61.6 571.9,49.4 572.2,39.1 572.5,47.8 572.8,49.8 573.1,51.6 573.4,34.3 573.7,45.8 574.0,57.0 574.3,58.5 574.6,61.5 574.9,48.7 575.2,47.1 575.5,46.5 575.8,40.6 576.1,41.9 576.4,52.3 576.7,57.4 577.0,45.4" fill="none" stroke="#e8402a" stroke-width="0.8" stroke-linejoin="round" opacity="0.9" /><polyline points="577.0,52.5 577.3,45.9 577.6,42.0 577.9,46.7 578.2,39.6 578.5,48.2 578.8,37.2 579.1,50.5 579.4,41.7 579.7,53.2 580.0,44.4 580.3,43.2 580.6,47.0 580.9,43.9 581.2,45.5 581.5,57.3 581.8,49.5 582.1,49.3 582.4,33.6 582.7,53.5 583.0,50.1" fill="none" stroke="#d89a30" stroke-width="0.7" stroke-linejoin="round" opacity="0.75" /><polyline points="601.0,40.8 601.3,47.2 601.6,49.0 601.9,40.6 602.2,43.6 602.5,44.5 602.8,52.2 603.1,47.0 603.4,49.9 603.7,40.3 604.0,49.2 604.3,36.6 604.6,51.7 604.9,38.0 605.2,51.1 605.5,47.4 605.8,40.0 606.1,42.9 606.4,48.1 606.7,42.4 607.0,36.0" fill="none" stroke="#e8402a" stroke-width="0.8" stroke-linejoin="round" opacity="0.9" /><polyline points="595.0,48.1 595.3,49.2 595.6,46.1 595.9,39.7 596.2,41.2 596.5,52.0 596.8,45.1 597.1,37.6 597.4,55.0 597.7,43.0 598.0,37.9 598.3,58.5 598.6,49.9 598.9,46.4 599.2,50.2 599.5,50.1 599.8,42.4 600.1,50.7 600.4,42.3 600.7,41.9 601.0,37.0" fill="none" stroke="#d89a30" stroke-width="0.7" stroke-linejoin="round" opacity="0.75" /><polyline points="565.0,49.2 565.3,58.4 565.6,46.7 565.9,48.6 566.2,46.4 566.5,47.6 566.8,47.9 567.1,42.6 567.4,41.7 567.7,43.9 568.0,39.4 568.3,54.2 568.6,41.5 568.9,44.6 569.2,45.9 569.5,42.7 569.8,54.9 570.1,48.3 570.4,52.1 570.7,37.8 571.0,41.5" fill="none" stroke="#d89a30" stroke-width="0.7" stroke-linejoin="round" opacity="0.75" /><polyline points="577.0,59.1 577.3,42.2 577.6,48.6 577.9,58.5 578.2,56.5 578.5,53.5 578.8,43.3 579.1,50.8 579.4,53.9 579.7,48.3 580.0,50.5 580.3,54.9 580.6,48.4 580.9,52.9 581.2,48.9 581.5,44.4 581.8,42.6 582.1,46.5 582.4,45.5 582.7,54.9 583.0,50.2" fill="none" stroke="#4a5cc0" stroke-width="0.8" stroke-linejoin="round" opacity="0.9" /><polyline points="529.0,44.3 529.3,46.5 529.6,48.9 529.9,57.0 530.2,51.8 530.5,40.7 530.8,55.1 531.1,51.0 531.4,49.3 531.7,42.3 532.0,41.1 532.3,46.6 532.6,55.2 532.9,49.2 533.2,47.4 533.5,48.2 533.8,48.3 534.1,44.5 534.4,46.7 534.7,35.0 535.0,46.0" fill="none" stroke="#d89a30" stroke-width="0.7" stroke-linejoin="round" opacity="0.75" /><polyline points="589.0,54.0 589.3,60.5 589.6,50.9 589.9,55.8 590.2,34.3 590.5,58.1 590.8,42.4 591.1,45.6 591.4,56.5 591.7,48.7 592.0,47.6 592.3,63.7 592.6,56.0 592.9,59.1 593.2,55.2 593.5,44.8 593.8,51.1 594.1,39.2 594.4,56.7 594.7,46.1 595.0,45.5" fill="none" stroke="#e8402a" stroke-width="0.8" stroke-linejoin="round" opacity="0.9" /><polyline points="589.0,64.8 589.3,50.5 589.6,62.5 589.9,54.6 590.2,57.6 590.5,51.5 590.8,54.5 591.1,52.8 591.4,58.4 591.7,55.4 592.0,56.1 592.3,48.4 592.6,58.2 592.9,52.7 593.2,54.7 593.5,55.4 593.8,59.1 594.1,51.7 594.4,57.7 594.7,58.2 595.0,51.9" fill="none" stroke="#1a1a1a" stroke-width="0.7" stroke-linejoin="round" opacity="0.85" /><polyline points="583.0,27.0 583.3,32.8 583.6,30.2 583.9,40.8 584.2,49.2 584.5,43.4 584.8,30.3 585.1,50.6 585.4,41.9 585.7,53.3 586.0,39.2 586.3,30.8 586.6,41.9 586.9,39.2 587.2,32.7 587.5,35.1 587.8,37.5 588.1,34.3 588.4,44.8 588.7,42.7 589.0,37.3" fill="none" stroke="#7cc850" stroke-width="0.8" stroke-linejoin="round" opacity="0.9" /><polyline points="535.0,34.1 535.3,37.7 535.6,35.5 535.9,51.8 536.2,48.6 536.5,47.3 536.8,38.6 537.1,33.7 537.4,41.0 537.7,44.9 538.0,42.9 538.3,48.1 538.6,36.4 538.9,33.0 539.2,35.1 539.5,56.9 539.8,44.6 540.1,41.2 540.4,36.8 540.7,48.3 541.0,49.9" fill="none" stroke="#7cc850" stroke-width="0.8" stroke-linejoin="round" opacity="0.9" /><polyline points="601.0,57.2 601.3,49.7 601.6,56.9 601.9,46.0 602.2,56.7 602.5,49.8 602.8,66.9 603.1,68.7 603.4,75.2 603.7,56.5 604.0,52.9 604.3,44.5 604.6,60.9 604.9,54.0 605.2,68.7 605.5,74.2 605.8,49.7 606.1,58.9 606.4,71.9 606.7,49.7 607.0,51.6" fill="none" stroke="#4a5cc0" stroke-width="0.8" stroke-linejoin="round" opacity="0.9" /><polyline points="601.0,37.0 601.3,47.0 601.6,59.5 601.9,39.3 602.2,42.0 602.5,50.4 602.8,57.5 603.1,45.4 603.4,48.1 603.7,43.9 604.0,44.5 604.3,52.1 604.6,43.6 604.9,52.2 605.2,51.6 605.5,44.0 605.8,40.7 606.1,45.8 606.4,39.6 606.7,42.0 607.0,46.9" fill="none" stroke="#d89a30" stroke-width="0.7" stroke-linejoin="round" opacity="0.75" /><polyline points="547.0,45.5 547.3,46.8 547.6,45.1 547.9,49.5 548.2,48.2 548.5,51.2 548.8,47.3 549.1,47.0 549.4,46.0 549.7,44.6 550.0,45.4 550.3,40.1 550.6,42.4 550.9,44.9 551.2,41.5 551.5,48.2 551.8,48.0 552.1,52.6 552.4,50.0 552.7,38.8 553.0,51.6" fill="none" stroke="#e8402a" stroke-width="0.8" stroke-linejoin="round" opacity="0.9" /><polyline points="547.0,53.3 547.3,57.4 547.6,45.3 547.9,54.0 548.2,50.2 548.5,39.4 548.8,48.5 549.1,43.5 549.4,48.8 549.7,53.7 550.0,50.1 550.3,59.7 550.6,53.9 550.9,47.6 551.2,48.8 551.5,52.4 551.8,46.8 552.1,53.2 552.4,53.4 552.7,55.2 553.0,51.4" fill="none" stroke="#4a5cc0" stroke-width="0.8" stroke-linejoin="round" opacity="0.9" /><polyline points="583.0,50.1 583.3,45.2 583.6,38.9 583.9,37.3 584.2,40.8 584.5,45.5 584.8,47.3 585.1,47.9 585.4,47.8 585.7,46.5 586.0,44.7 586.3,38.1 586.6,58.8 586.9,51.8 587.2,52.2 587.5,45.4 587.8,38.1 588.1,55.3 588.4,41.0 588.7,37.4 589.0,50.0" fill="none" stroke="#d89a30" stroke-width="0.7" stroke-linejoin="round" opacity="0.75" /><polyline points="571.0,56.7 571.3,53.5 571.6,50.5 571.9,60.2 572.2,62.8 572.5,58.6 572.8,60.5 573.1,52.4 573.4,59.6 573.7,59.3 574.0,60.6 574.3,62.8 574.6,55.9 574.9,57.2 575.2,53.1 575.5,56.7 575.8,57.5 576.1,53.9 576.4,58.7 576.7,58.5 577.0,51.2" fill="none" stroke="#1a1a1a" stroke-width="0.7" stroke-linejoin="round" opacity="0.85" /><polyline points="571.0,41.5 571.3,32.9 571.6,52.9 571.9,42.5 572.2,49.5 572.5,53.1 572.8,37.6 573.1,50.2 573.4,44.6 573.7,47.9 574.0,47.2 574.3,49.1 574.6,45.0 574.9,36.9 575.2,40.9 575.5,44.9 575.8,45.1 576.1,39.5 576.4,42.0 576.7,46.1 577.0,52.5" fill="none" stroke="#d89a30" stroke-width="0.7" stroke-linejoin="round" opacity="0.75" /><polyline points="565.0,45.9 565.3,53.0 565.6,47.6 565.9,37.3 566.2,40.6 566.5,38.4 566.8,40.0 567.1,45.0 567.4,24.3 567.7,26.6 568.0,36.0 568.3,41.4 568.6,24.8 568.9,17.0 569.2,24.5 569.5,43.1 569.8,37.7 570.1,36.2 570.4,28.2 570.7,41.9 571.0,39.3" fill="none" stroke="#7cc850" stroke-width="0.8" stroke-linejoin="round" opacity="0.9" /><polyline points="607.0,46.9 607.3,47.9 607.6,46.2 607.9,34.7 608.2,43.9" fill="none" stroke="#d89a30" stroke-width="0.7" stroke-linejoin="round" opacity="0.75" /></g><rect x="529.0" y="15.6" width="79.4" height="61.8" fill="none" stroke="#606060" stroke-width="1.3"/></svg>
<div class="t" style="right:653.2px;top:5.5px;font-size:12px;line-height:12px;height:12px;letter-spacing:-0.4px">4000</div>
<div class="t" style="right:653.6px;top:107.1px;font-size:12px;line-height:12px;height:12px;letter-spacing:-0.4px">2000</div>
<div class="t" style="right:653.2px;top:208.5px;font-size:12px;line-height:12px;height:12px;letter-spacing:-0.4px">0</div>
<div class="t" style="left:45.3px;top:219.7px;font-size:12px;line-height:12px;width:40px;text-align:center">0</div>
<div class="t" style="left:131.6px;top:219.7px;font-size:12px;line-height:12px;width:40px;text-align:center">10</div>
<div class="t" style="left:217.2px;top:219.7px;font-size:12px;line-height:12px;width:40px;text-align:center">20</div>
<div class="t" style="left:302.9px;top:219.7px;font-size:12px;line-height:12px;width:40px;text-align:center">30</div>
<div class="t" style="right:270.4px;top:5.8px;font-size:12px;line-height:12px;height:12px;letter-spacing:-0.4px">3000</div>
<div class="t" style="right:270.4px;top:73.7px;font-size:12px;line-height:12px;height:12px;letter-spacing:-0.4px">2000</div>
<div class="t" style="right:270.4px;top:141.5px;font-size:12px;line-height:12px;height:12px;letter-spacing:-0.4px">1000</div>
<div class="t" style="right:270.6px;top:208.8px;font-size:12px;line-height:12px;height:12px;letter-spacing:-0.4px">0</div>
<div class="t" style="left:429.0px;top:219.9px;font-size:12px;line-height:12px;width:40px;text-align:center;letter-spacing:-0.5px;text-indent:0.5px">0</div>
<div class="t" style="left:522.6px;top:219.9px;font-size:12px;line-height:12px;width:40px;text-align:center;letter-spacing:-0.5px;text-indent:0.5px">20</div>
<div class="t" style="left:616.5px;top:219.9px;font-size:12px;line-height:12px;width:40px;text-align:center;letter-spacing:-0.5px;text-indent:0.5px">40</div>
<div class="t" style="left:144.9px;top:240.6px;font-size:16.4px;line-height:18px">Extension (nm)</div>
<div class="t" style="left:539.3px;top:238.6px;font-size:16.4px;line-height:18px">Extension (nm)</div>
<div class="t rot" style="left:5.8px;top:163.8px;font-size:16.3px;line-height:18px">Force (pN)</div>
<div class="t rot" style="left:390.4px;top:155.9px;font-size:16.4px;line-height:18px">Force (pN)</div>
<div class="t" style="right:537.4px;top:25.3px;font-size:3.9px;line-height:5px;font-weight:bold">2000</div>
<div class="t" style="right:537.0px;top:87.5px;font-size:3.9px;line-height:5px;font-weight:bold">0</div>
<div class="t" style="left:173.5px;top:91.5px;font-size:3.9px;line-height:4px;font-weight:bold;width:10px;text-align:center">12</div>
<div class="t" style="left:252.6px;top:91.5px;font-size:3.9px;line-height:4px;font-weight:bold;width:10px;text-align:center">18</div>
<div class="t" style="right:186.6px;top:12.3px;font-size:3.9px;line-height:5px;font-weight:bold">2000</div>
<div class="t" style="right:186.4px;top:54.0px;font-size:3.9px;line-height:5px;font-weight:bold">1000</div>
<div class="t" style="left:524.2px;top:78.5px;font-size:3.9px;line-height:4px;font-weight:bold;width:10px;text-align:center">0</div>
<div class="t" style="left:603.5px;top:78.5px;font-size:3.9px;line-height:4px;font-weight:bold;width:10px;text-align:center">55</div>
</body></html>
